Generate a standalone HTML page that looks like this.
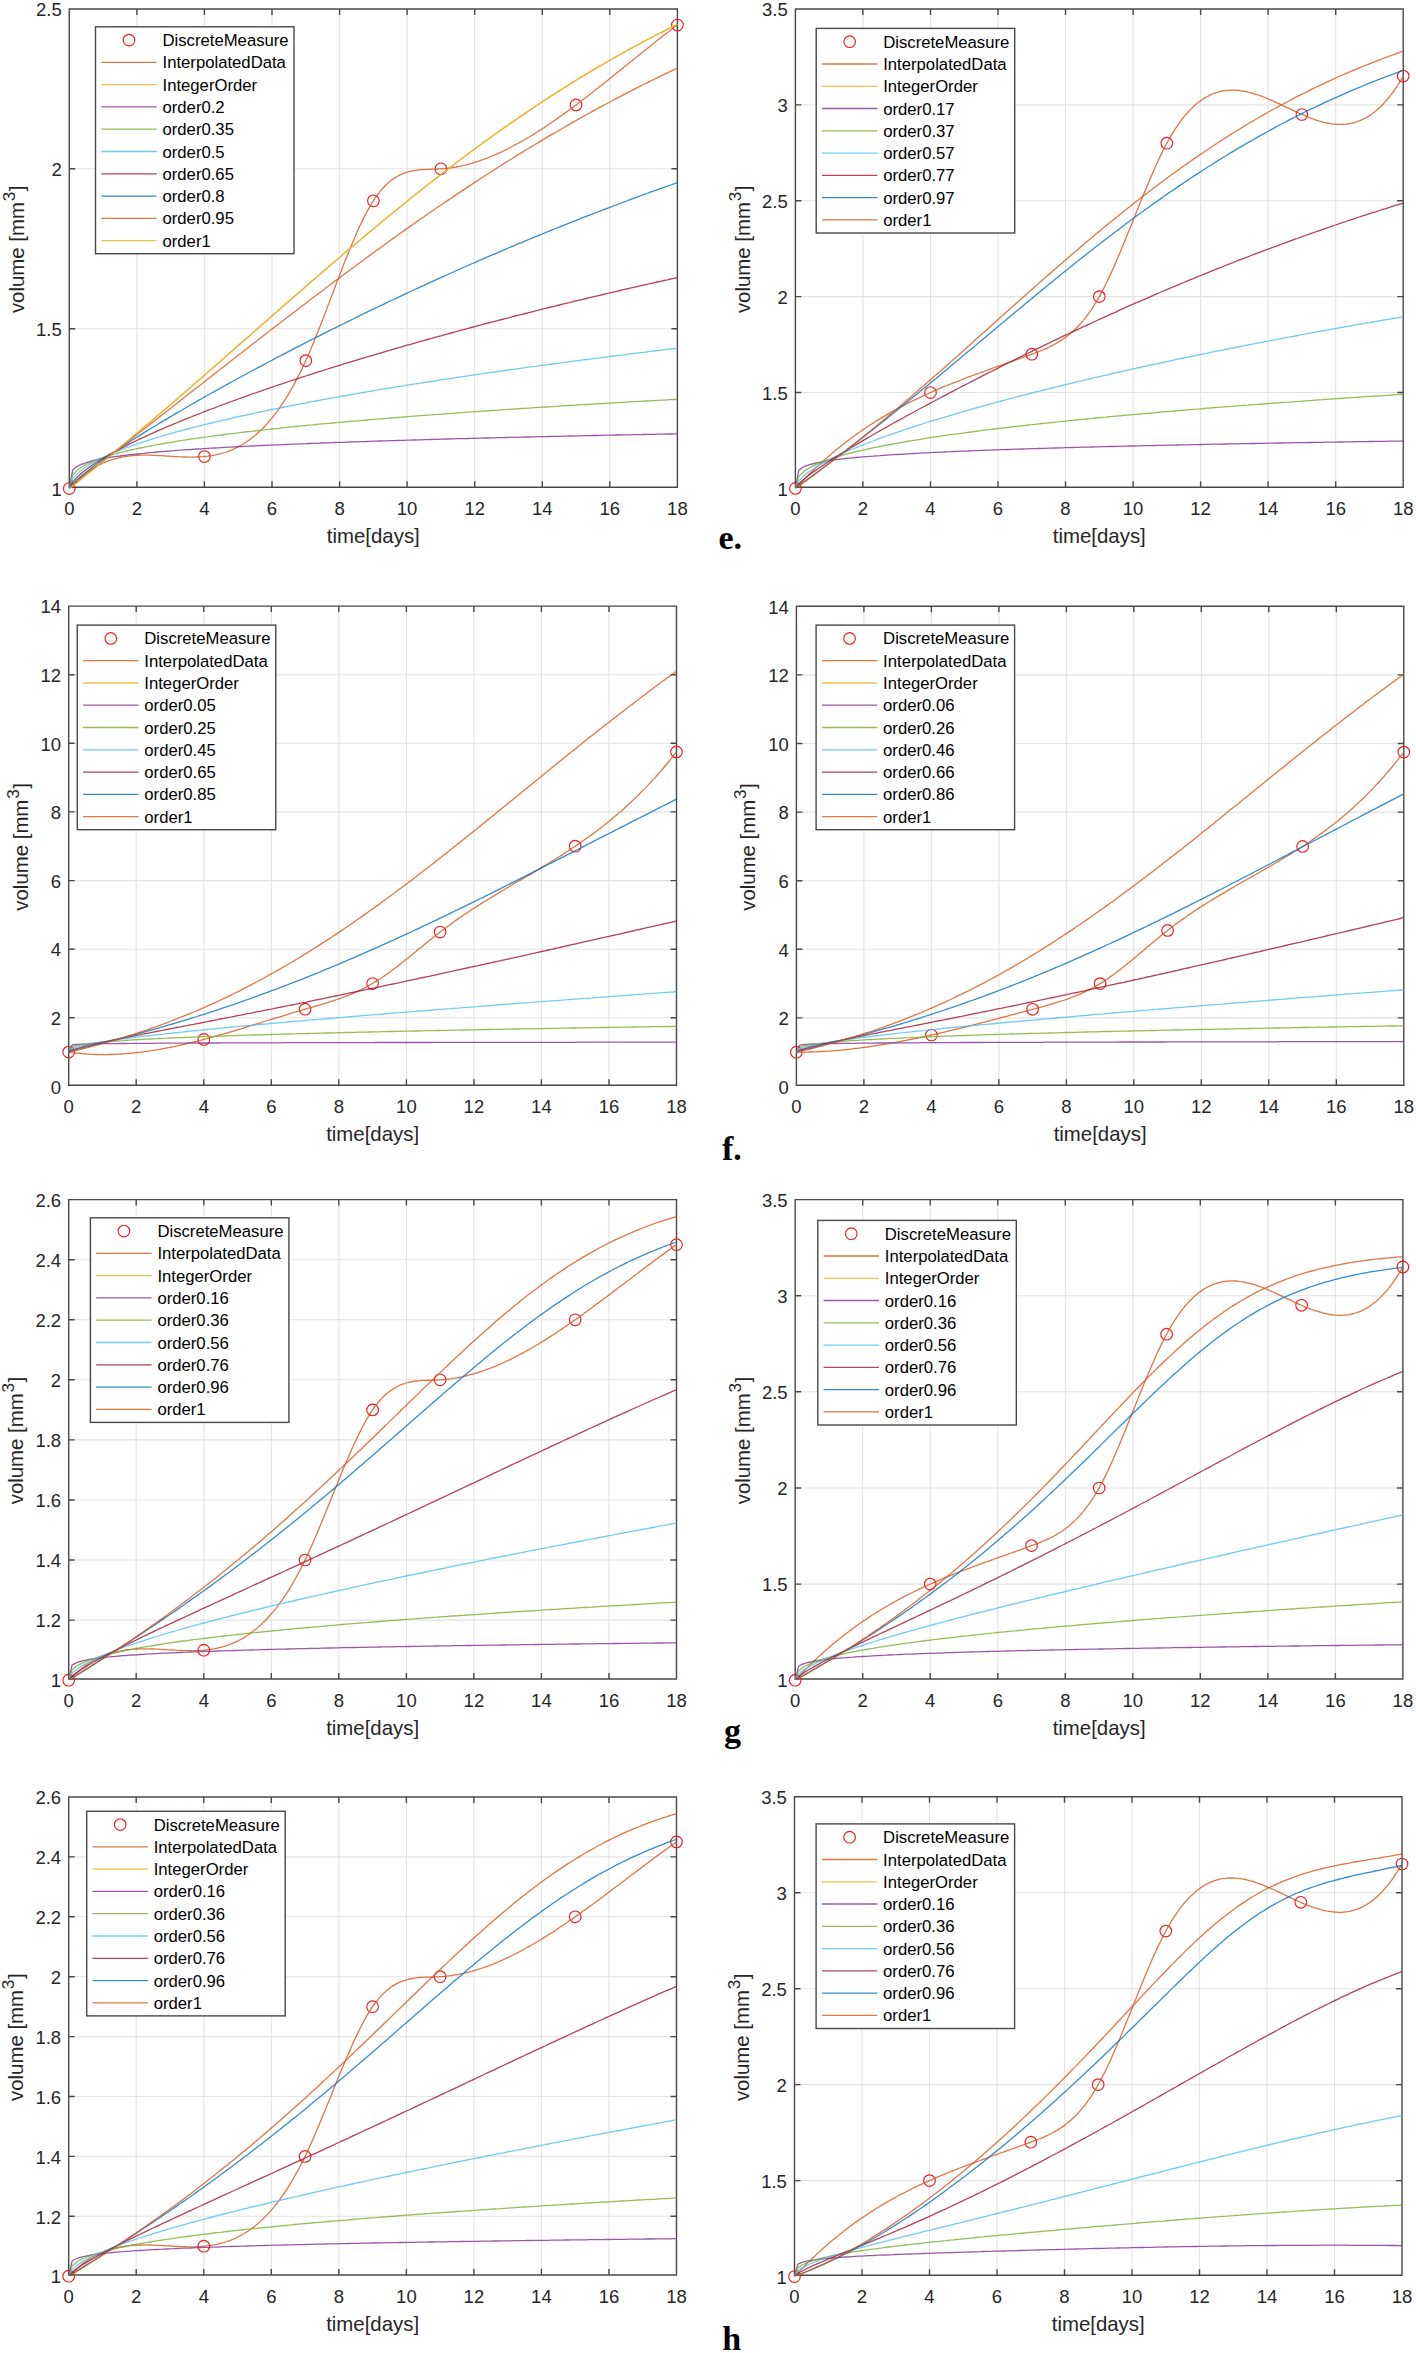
<!DOCTYPE html>
<html><head><meta charset="utf-8"><title>Fractional-order tumor growth curves</title>
<style>
html,body{margin:0;padding:0;background:#fff;}
svg{display:block;}
text{font-family:"Liberation Sans",sans-serif;fill:#262626;}
.tk{font-size:18.5px;}
.lb{font-size:20.4px;}
.lg{font-size:16.7px;fill:#000;}
.pn{font-family:"Liberation Serif",serif;font-weight:bold;font-size:34px;fill:#000;}
.grid{stroke:#e3e3e3;stroke-width:1.1;fill:none;}
.ax{stroke:#484848;stroke-width:1.4;fill:none;}
.cv{fill:none;stroke-width:1.3;stroke-linejoin:round;stroke-opacity:0.8;}
.mk{fill:none;stroke:#f01c1c;stroke-width:1.15;}
</style></head><body>
<svg width="1416" height="2353" viewBox="0 0 1416 2353">
<rect x="0" y="0" width="1416" height="2353" fill="#fff"/>

<g id="plot1">
<clipPath id="cp1"><rect x="68.3" y="8.0" width="610.1" height="480.3"/></clipPath>
<path class="grid" d="M136.9 9.0V487.3M204.4 9.0V487.3M272.0 9.0V487.3M339.6 9.0V487.3M407.1 9.0V487.3M474.7 9.0V487.3M542.3 9.0V487.3M609.8 9.0V487.3M69.3 328.7H677.4M69.3 168.8H677.4"/>
<path class="ax" d="M69.3 9.0H677.4V487.3H69.3ZM136.9 487.3v-6.0M136.9 9.0v6.0M204.4 487.3v-6.0M204.4 9.0v6.0M272.0 487.3v-6.0M272.0 9.0v6.0M339.6 487.3v-6.0M339.6 9.0v6.0M407.1 487.3v-6.0M407.1 9.0v6.0M474.7 487.3v-6.0M474.7 9.0v6.0M542.3 487.3v-6.0M542.3 9.0v6.0M609.8 487.3v-6.0M609.8 9.0v6.0M69.3 328.7h6.0M677.4 328.7h-6.0M69.3 168.8h6.0M677.4 168.8h-6.0"/>
<circle class="mk" cx="69.3" cy="488.5" r="5.8"/>
<circle class="mk" cx="204.4" cy="456.5" r="5.8"/>
<circle class="mk" cx="305.8" cy="360.6" r="5.8"/>
<circle class="mk" cx="373.4" cy="200.8" r="5.8"/>
<circle class="mk" cx="440.9" cy="168.8" r="5.8"/>
<circle class="mk" cx="576.0" cy="104.9" r="5.8"/>
<circle class="mk" cx="677.4" cy="25.0" r="5.8"/>
<g clip-path="url(#cp1)">
<polyline class="cv" stroke="#D95319" points="69.3,488.5 71.0,486.7 72.7,484.9 74.4,483.2 76.1,481.5 77.7,479.9 79.4,478.4 81.1,477.0 82.8,475.6 84.5,474.2 86.2,472.9 87.9,471.7 89.6,470.5 91.3,469.4 92.9,468.4 94.6,467.3 96.3,466.4 98.0,465.5 99.7,464.6 101.4,463.8 103.1,463.0 104.8,462.3 106.5,461.6 108.2,460.9 109.8,460.3 111.5,459.8 113.2,459.3 114.9,458.8 116.6,458.3 118.3,457.9 120.0,457.5 121.7,457.2 123.4,456.9 125.0,456.6 126.7,456.3 128.4,456.1 130.1,455.9 131.8,455.7 133.5,455.6 135.2,455.4 136.9,455.3 138.6,455.3 140.2,455.2 141.9,455.2 143.6,455.1 145.3,455.1 147.0,455.1 148.7,455.2 150.4,455.2 152.1,455.3 153.8,455.3 155.4,455.4 157.1,455.5 158.8,455.6 160.5,455.6 162.2,455.7 163.9,455.8 165.6,456.0 167.3,456.1 169.0,456.2 170.7,456.3 172.3,456.4 174.0,456.5 175.7,456.6 177.4,456.7 179.1,456.8 180.8,456.8 182.5,456.9 184.2,457.0 185.9,457.0 187.5,457.1 189.2,457.1 190.9,457.1 192.6,457.1 194.3,457.1 196.0,457.0 197.7,457.0 199.4,456.9 201.1,456.8 202.7,456.7 204.4,456.5 206.1,456.4 207.8,456.2 209.5,455.9 211.2,455.7 212.9,455.4 214.6,455.1 216.3,454.7 217.9,454.4 219.6,454.0 221.3,453.5 223.0,453.0 224.7,452.5 226.4,452.0 228.1,451.4 229.8,450.7 231.5,450.0 233.1,449.3 234.8,448.5 236.5,447.7 238.2,446.9 239.9,445.9 241.6,445.0 243.3,444.0 245.0,442.9 246.7,441.8 248.4,440.6 250.0,439.4 251.7,438.1 253.4,436.8 255.1,435.4 256.8,433.9 258.5,432.4 260.2,430.8 261.9,429.2 263.6,427.5 265.2,425.7 266.9,423.9 268.6,422.0 270.3,420.0 272.0,418.0 273.7,415.9 275.4,413.7 277.1,411.4 278.8,409.1 280.4,406.7 282.1,404.2 283.8,401.6 285.5,399.0 287.2,396.2 288.9,393.4 290.6,390.5 292.3,387.6 294.0,384.5 295.6,381.4 297.3,378.1 299.0,374.8 300.7,371.4 302.4,367.9 304.1,364.3 305.8,360.6 307.5,356.9 309.2,353.0 310.9,349.0 312.5,345.0 314.2,340.9 315.9,336.8 317.6,332.5 319.3,328.3 321.0,324.0 322.7,319.6 324.4,315.2 326.1,310.8 327.7,306.4 329.4,301.9 331.1,297.5 332.8,293.0 334.5,288.5 336.2,284.1 337.9,279.6 339.6,275.2 341.3,270.8 342.9,266.5 344.6,262.2 346.3,257.9 348.0,253.7 349.7,249.5 351.4,245.4 353.1,241.4 354.8,237.5 356.5,233.6 358.1,229.8 359.8,226.1 361.5,222.6 363.2,219.1 364.9,215.7 366.6,212.5 368.3,209.4 370.0,206.4 371.7,203.5 373.4,200.8 375.0,198.2 376.7,195.8 378.4,193.5 380.1,191.4 381.8,189.4 383.5,187.5 385.2,185.8 386.9,184.1 388.6,182.6 390.2,181.2 391.9,179.9 393.6,178.7 395.3,177.6 397.0,176.5 398.7,175.6 400.4,174.8 402.1,174.0 403.8,173.3 405.4,172.7 407.1,172.2 408.8,171.7 410.5,171.3 412.2,170.9 413.9,170.6 415.6,170.3 417.3,170.1 419.0,169.9 420.6,169.7 422.3,169.6 424.0,169.5 425.7,169.4 427.4,169.3 429.1,169.3 430.8,169.2 432.5,169.2 434.2,169.1 435.8,169.1 437.5,169.0 439.2,168.9 440.9,168.8 442.6,168.7 444.3,168.6 446.0,168.4 447.7,168.2 449.4,168.0 451.1,167.8 452.7,167.5 454.4,167.3 456.1,167.0 457.8,166.6 459.5,166.3 461.2,165.9 462.9,165.6 464.6,165.2 466.3,164.8 467.9,164.3 469.6,163.9 471.3,163.4 473.0,162.9 474.7,162.4 476.4,161.8 478.1,161.3 479.8,160.7 481.5,160.1 483.1,159.5 484.8,158.9 486.5,158.3 488.2,157.6 489.9,156.9 491.6,156.3 493.3,155.5 495.0,154.8 496.7,154.1 498.3,153.3 500.0,152.6 501.7,151.8 503.4,151.0 505.1,150.2 506.8,149.3 508.5,148.5 510.2,147.6 511.9,146.7 513.6,145.8 515.2,144.9 516.9,144.0 518.6,143.1 520.3,142.1 522.0,141.2 523.7,140.2 525.4,139.2 527.1,138.2 528.8,137.2 530.4,136.2 532.1,135.2 533.8,134.1 535.5,133.1 537.2,132.0 538.9,130.9 540.6,129.9 542.3,128.8 544.0,127.7 545.6,126.5 547.3,125.4 549.0,124.3 550.7,123.1 552.4,122.0 554.1,120.8 555.8,119.6 557.5,118.4 559.2,117.2 560.8,116.0 562.5,114.8 564.2,113.6 565.9,112.4 567.6,111.2 569.3,109.9 571.0,108.7 572.7,107.4 574.4,106.2 576.0,104.9 577.7,103.6 579.4,102.3 581.1,101.1 582.8,99.8 584.5,98.5 586.2,97.2 587.9,95.9 589.6,94.6 591.3,93.3 592.9,91.9 594.6,90.6 596.3,89.3 598.0,88.0 599.7,86.6 601.4,85.3 603.1,83.9 604.8,82.6 606.5,81.2 608.1,79.9 609.8,78.5 611.5,77.2 613.2,75.8 614.9,74.5 616.6,73.1 618.3,71.8 620.0,70.4 621.7,69.0 623.3,67.7 625.0,66.3 626.7,65.0 628.4,63.6 630.1,62.2 631.8,60.9 633.5,59.5 635.2,58.1 636.9,56.8 638.5,55.4 640.2,54.1 641.9,52.7 643.6,51.4 645.3,50.0 647.0,48.7 648.7,47.3 650.4,46.0 652.1,44.6 653.8,43.3 655.4,41.9 657.1,40.6 658.8,39.3 660.5,38.0 662.2,36.6 663.9,35.3 665.6,34.0 667.3,32.7 669.0,31.4 670.6,30.1 672.3,28.8 674.0,27.5 675.7,26.3 677.4,25.0"/>
<polyline class="cv" stroke="#EDB120" points="69.3,488.5 72.7,485.8 76.1,483.2 79.4,480.5 82.8,477.8 86.2,475.1 89.6,472.3 92.9,469.6 96.3,466.9 99.7,464.1 103.1,461.4 106.5,458.6 109.8,455.8 113.2,453.0 116.6,450.2 120.0,447.4 123.4,444.6 126.7,441.8 130.1,439.0 133.5,436.1 136.9,433.3 140.2,430.5 143.6,427.6 147.0,424.7 150.4,421.9 153.8,419.0 157.1,416.1 160.5,413.2 163.9,410.3 167.3,407.4 170.7,404.5 174.0,401.6 177.4,398.7 180.8,395.8 184.2,392.8 187.5,389.9 190.9,387.0 194.3,384.0 197.7,381.1 201.1,378.2 204.4,375.2 207.8,372.3 211.2,369.3 214.6,366.4 217.9,363.4 221.3,360.4 224.7,357.5 228.1,354.5 231.5,351.5 234.8,348.6 238.2,345.6 241.6,342.6 245.0,339.7 248.4,336.7 251.7,333.7 255.1,330.8 258.5,327.8 261.9,324.8 265.2,321.9 268.6,318.9 272.0,315.9 275.4,313.0 278.8,310.0 282.1,307.1 285.5,304.1 288.9,301.2 292.3,298.2 295.6,295.3 299.0,292.3 302.4,289.4 305.8,286.5 309.2,283.5 312.5,280.6 315.9,277.7 319.3,274.8 322.7,271.8 326.1,268.9 329.4,266.0 332.8,263.1 336.2,260.2 339.6,257.4 342.9,254.5 346.3,251.6 349.7,248.7 353.1,245.9 356.5,243.0 359.8,240.2 363.2,237.3 366.6,234.5 370.0,231.7 373.4,228.9 376.7,226.1 380.1,223.3 383.5,220.5 386.9,217.7 390.2,214.9 393.6,212.2 397.0,209.4 400.4,206.7 403.8,203.9 407.1,201.2 410.5,198.5 413.9,195.8 417.3,193.1 420.6,190.4 424.0,187.8 427.4,185.1 430.8,182.4 434.2,179.8 437.5,177.2 440.9,174.6 444.3,172.0 447.7,169.4 451.1,166.8 454.4,164.2 457.8,161.6 461.2,159.1 464.6,156.6 467.9,154.0 471.3,151.5 474.7,149.0 478.1,146.5 481.5,144.1 484.8,141.6 488.2,139.2 491.6,136.7 495.0,134.3 498.3,131.9 501.7,129.5 505.1,127.1 508.5,124.8 511.9,122.4 515.2,120.1 518.6,117.7 522.0,115.4 525.4,113.1 528.8,110.8 532.1,108.6 535.5,106.3 538.9,104.1 542.3,101.8 545.6,99.6 549.0,97.4 552.4,95.2 555.8,93.1 559.2,90.9 562.5,88.8 565.9,86.6 569.3,84.5 572.7,82.4 576.0,80.3 579.4,78.2 582.8,76.2 586.2,74.1 589.6,72.1 592.9,70.1 596.3,68.1 599.7,66.1 603.1,64.1 606.5,62.2 609.8,60.2 613.2,58.3 616.6,56.4 620.0,54.5 623.3,52.6 626.7,50.7 630.1,48.9 633.5,47.0 636.9,45.2 640.2,43.4 643.6,41.6 647.0,39.8 650.4,38.0 653.8,36.3 657.1,34.5 660.5,32.8 663.9,31.1 667.3,29.4 670.6,27.7 674.0,26.0 677.4,24.3"/>
<polyline class="cv" stroke="#7E2F8E" points="69.3,488.5 72.7,469.9 76.1,467.1 79.4,465.2 82.8,463.8 86.2,462.6 89.6,461.6 92.9,460.7 96.3,459.9 99.7,459.2 103.1,458.6 106.5,458.0 109.8,457.4 113.2,456.9 116.6,456.4 120.0,456.0 123.4,455.5 126.7,455.1 130.1,454.7 133.5,454.3 136.9,454.0 140.2,453.6 143.6,453.3 147.0,452.9 150.4,452.6 153.8,452.3 157.1,452.0 160.5,451.7 163.9,451.5 167.3,451.2 170.7,450.9 174.0,450.7 177.4,450.4 180.8,450.2 184.2,449.9 187.5,449.7 190.9,449.5 194.3,449.2 197.7,449.0 201.1,448.8 204.4,448.6 207.8,448.4 211.2,448.2 214.6,448.0 217.9,447.8 221.3,447.6 224.7,447.4 228.1,447.2 231.5,447.1 234.8,446.9 238.2,446.7 241.6,446.5 245.0,446.4 248.4,446.2 251.7,446.0 255.1,445.9 258.5,445.7 261.9,445.5 265.2,445.4 268.6,445.2 272.0,445.1 275.4,444.9 278.8,444.8 282.1,444.6 285.5,444.5 288.9,444.3 292.3,444.2 295.6,444.1 299.0,443.9 302.4,443.8 305.8,443.7 309.2,443.5 312.5,443.4 315.9,443.3 319.3,443.1 322.7,443.0 326.1,442.9 329.4,442.8 332.8,442.6 336.2,442.5 339.6,442.4 342.9,442.3 346.3,442.1 349.7,442.0 353.1,441.9 356.5,441.8 359.8,441.7 363.2,441.6 366.6,441.5 370.0,441.3 373.4,441.2 376.7,441.1 380.1,441.0 383.5,440.9 386.9,440.8 390.2,440.7 393.6,440.6 397.0,440.5 400.4,440.4 403.8,440.3 407.1,440.2 410.5,440.1 413.9,440.0 417.3,439.9 420.6,439.8 424.0,439.7 427.4,439.6 430.8,439.5 434.2,439.4 437.5,439.3 440.9,439.2 444.3,439.1 447.7,439.0 451.1,438.9 454.4,438.8 457.8,438.7 461.2,438.7 464.6,438.6 467.9,438.5 471.3,438.4 474.7,438.3 478.1,438.2 481.5,438.1 484.8,438.0 488.2,438.0 491.6,437.9 495.0,437.8 498.3,437.7 501.7,437.6 505.1,437.5 508.5,437.4 511.9,437.4 515.2,437.3 518.6,437.2 522.0,437.1 525.4,437.0 528.8,437.0 532.1,436.9 535.5,436.8 538.9,436.7 542.3,436.6 545.6,436.6 549.0,436.5 552.4,436.4 555.8,436.3 559.2,436.3 562.5,436.2 565.9,436.1 569.3,436.0 572.7,436.0 576.0,435.9 579.4,435.8 582.8,435.7 586.2,435.7 589.6,435.6 592.9,435.5 596.3,435.5 599.7,435.4 603.1,435.3 606.5,435.2 609.8,435.2 613.2,435.1 616.6,435.0 620.0,435.0 623.3,434.9 626.7,434.8 630.1,434.8 633.5,434.7 636.9,434.6 640.2,434.6 643.6,434.5 647.0,434.4 650.4,434.4 653.8,434.3 657.1,434.2 660.5,434.2 663.9,434.1 667.3,434.0 670.6,434.0 674.0,433.9 677.4,433.8"/>
<polyline class="cv" stroke="#77AC30" points="69.3,488.5 72.7,475.0 76.1,471.2 79.4,468.4 82.8,466.3 86.2,464.4 89.6,462.8 92.9,461.3 96.3,459.9 99.7,458.7 103.1,457.5 106.5,456.5 109.8,455.4 113.2,454.5 116.6,453.5 120.0,452.6 123.4,451.8 126.7,451.0 130.1,450.2 133.5,449.4 136.9,448.7 140.2,448.0 143.6,447.3 147.0,446.6 150.4,446.0 153.8,445.3 157.1,444.7 160.5,444.1 163.9,443.5 167.3,442.9 170.7,442.3 174.0,441.8 177.4,441.2 180.8,440.7 184.2,440.2 187.5,439.7 190.9,439.2 194.3,438.7 197.7,438.2 201.1,437.7 204.4,437.2 207.8,436.8 211.2,436.3 214.6,435.8 217.9,435.4 221.3,435.0 224.7,434.5 228.1,434.1 231.5,433.7 234.8,433.3 238.2,432.9 241.6,432.4 245.0,432.0 248.4,431.6 251.7,431.3 255.1,430.9 258.5,430.5 261.9,430.1 265.2,429.7 268.6,429.4 272.0,429.0 275.4,428.6 278.8,428.3 282.1,427.9 285.5,427.6 288.9,427.2 292.3,426.9 295.6,426.5 299.0,426.2 302.4,425.9 305.8,425.5 309.2,425.2 312.5,424.9 315.9,424.5 319.3,424.2 322.7,423.9 326.1,423.6 329.4,423.3 332.8,423.0 336.2,422.7 339.6,422.4 342.9,422.1 346.3,421.8 349.7,421.5 353.1,421.2 356.5,420.9 359.8,420.6 363.2,420.3 366.6,420.0 370.0,419.7 373.4,419.4 376.7,419.1 380.1,418.9 383.5,418.6 386.9,418.3 390.2,418.0 393.6,417.8 397.0,417.5 400.4,417.2 403.8,417.0 407.1,416.7 410.5,416.4 413.9,416.2 417.3,415.9 420.6,415.6 424.0,415.4 427.4,415.1 430.8,414.9 434.2,414.6 437.5,414.4 440.9,414.1 444.3,413.9 447.7,413.6 451.1,413.4 454.4,413.1 457.8,412.9 461.2,412.7 464.6,412.4 467.9,412.2 471.3,411.9 474.7,411.7 478.1,411.5 481.5,411.2 484.8,411.0 488.2,410.8 491.6,410.5 495.0,410.3 498.3,410.1 501.7,409.8 505.1,409.6 508.5,409.4 511.9,409.2 515.2,409.0 518.6,408.7 522.0,408.5 525.4,408.3 528.8,408.1 532.1,407.9 535.5,407.6 538.9,407.4 542.3,407.2 545.6,407.0 549.0,406.8 552.4,406.6 555.8,406.4 559.2,406.1 562.5,405.9 565.9,405.7 569.3,405.5 572.7,405.3 576.0,405.1 579.4,404.9 582.8,404.7 586.2,404.5 589.6,404.3 592.9,404.1 596.3,403.9 599.7,403.7 603.1,403.5 606.5,403.3 609.8,403.1 613.2,402.9 616.6,402.7 620.0,402.5 623.3,402.3 626.7,402.1 630.1,401.9 633.5,401.7 636.9,401.6 640.2,401.4 643.6,401.2 647.0,401.0 650.4,400.8 653.8,400.6 657.1,400.4 660.5,400.2 663.9,400.1 667.3,399.9 670.6,399.7 674.0,399.5 677.4,399.3"/>
<polyline class="cv" stroke="#4DBEEE" points="69.3,488.5 72.7,478.9 76.1,474.9 79.4,471.7 82.8,469.1 86.2,466.7 89.6,464.6 92.9,462.6 96.3,460.8 99.7,459.1 103.1,457.4 106.5,455.9 109.8,454.4 113.2,452.9 116.6,451.6 120.0,450.2 123.4,448.9 126.7,447.6 130.1,446.4 133.5,445.2 136.9,444.0 140.2,442.9 143.6,441.8 147.0,440.7 150.4,439.6 153.8,438.6 157.1,437.5 160.5,436.5 163.9,435.5 167.3,434.6 170.7,433.6 174.0,432.6 177.4,431.7 180.8,430.8 184.2,429.9 187.5,429.0 190.9,428.1 194.3,427.2 197.7,426.4 201.1,425.5 204.4,424.7 207.8,423.8 211.2,423.0 214.6,422.2 217.9,421.4 221.3,420.6 224.7,419.8 228.1,419.0 231.5,418.3 234.8,417.5 238.2,416.7 241.6,416.0 245.0,415.3 248.4,414.5 251.7,413.8 255.1,413.1 258.5,412.4 261.9,411.6 265.2,410.9 268.6,410.2 272.0,409.5 275.4,408.9 278.8,408.2 282.1,407.5 285.5,406.8 288.9,406.1 292.3,405.5 295.6,404.8 299.0,404.2 302.4,403.5 305.8,402.9 309.2,402.2 312.5,401.6 315.9,401.0 319.3,400.3 322.7,399.7 326.1,399.1 329.4,398.5 332.8,397.9 336.2,397.3 339.6,396.7 342.9,396.0 346.3,395.5 349.7,394.9 353.1,394.3 356.5,393.7 359.8,393.1 363.2,392.5 366.6,391.9 370.0,391.4 373.4,390.8 376.7,390.2 380.1,389.7 383.5,389.1 386.9,388.5 390.2,388.0 393.6,387.4 397.0,386.9 400.4,386.3 403.8,385.8 407.1,385.2 410.5,384.7 413.9,384.1 417.3,383.6 420.6,383.1 424.0,382.5 427.4,382.0 430.8,381.5 434.2,381.0 437.5,380.5 440.9,379.9 444.3,379.4 447.7,378.9 451.1,378.4 454.4,377.9 457.8,377.4 461.2,376.9 464.6,376.4 467.9,375.9 471.3,375.4 474.7,374.9 478.1,374.4 481.5,373.9 484.8,373.4 488.2,372.9 491.6,372.4 495.0,371.9 498.3,371.4 501.7,371.0 505.1,370.5 508.5,370.0 511.9,369.5 515.2,369.1 518.6,368.6 522.0,368.1 525.4,367.7 528.8,367.2 532.1,366.7 535.5,366.3 538.9,365.8 542.3,365.3 545.6,364.9 549.0,364.4 552.4,364.0 555.8,363.5 559.2,363.1 562.5,362.6 565.9,362.2 569.3,361.7 572.7,361.3 576.0,360.8 579.4,360.4 582.8,359.9 586.2,359.5 589.6,359.1 592.9,358.6 596.3,358.2 599.7,357.8 603.1,357.3 606.5,356.9 609.8,356.5 613.2,356.0 616.6,355.6 620.0,355.2 623.3,354.8 626.7,354.3 630.1,353.9 633.5,353.5 636.9,353.1 640.2,352.7 643.6,352.3 647.0,351.8 650.4,351.4 653.8,351.0 657.1,350.6 660.5,350.2 663.9,349.8 667.3,349.4 670.6,349.0 674.0,348.6 677.4,348.2"/>
<polyline class="cv" stroke="#A2142F" points="69.3,488.5 72.7,481.9 76.1,478.1 79.4,474.9 82.8,472.1 86.2,469.5 89.6,467.0 92.9,464.7 96.3,462.5 99.7,460.4 103.1,458.3 106.5,456.3 109.8,454.4 113.2,452.5 116.6,450.7 120.0,448.9 123.4,447.2 126.7,445.4 130.1,443.7 133.5,442.1 136.9,440.5 140.2,438.8 143.6,437.3 147.0,435.7 150.4,434.2 153.8,432.6 157.1,431.1 160.5,429.6 163.9,428.2 167.3,426.7 170.7,425.3 174.0,423.9 177.4,422.5 180.8,421.1 184.2,419.7 187.5,418.3 190.9,417.0 194.3,415.6 197.7,414.3 201.1,413.0 204.4,411.6 207.8,410.3 211.2,409.0 214.6,407.8 217.9,406.5 221.3,405.2 224.7,404.0 228.1,402.7 231.5,401.5 234.8,400.3 238.2,399.0 241.6,397.8 245.0,396.6 248.4,395.4 251.7,394.2 255.1,393.0 258.5,391.8 261.9,390.7 265.2,389.5 268.6,388.3 272.0,387.2 275.4,386.0 278.8,384.9 282.1,383.8 285.5,382.6 288.9,381.5 292.3,380.4 295.6,379.3 299.0,378.2 302.4,377.1 305.8,376.0 309.2,374.9 312.5,373.8 315.9,372.7 319.3,371.6 322.7,370.6 326.1,369.5 329.4,368.4 332.8,367.4 336.2,366.3 339.6,365.3 342.9,364.2 346.3,363.2 349.7,362.2 353.1,361.1 356.5,360.1 359.8,359.1 363.2,358.1 366.6,357.1 370.0,356.1 373.4,355.1 376.7,354.1 380.1,353.1 383.5,352.1 386.9,351.1 390.2,350.1 393.6,349.1 397.0,348.1 400.4,347.2 403.8,346.2 407.1,345.2 410.5,344.3 413.9,343.3 417.3,342.3 420.6,341.4 424.0,340.4 427.4,339.5 430.8,338.6 434.2,337.6 437.5,336.7 440.9,335.8 444.3,334.8 447.7,333.9 451.1,333.0 454.4,332.1 457.8,331.1 461.2,330.2 464.6,329.3 467.9,328.4 471.3,327.5 474.7,326.6 478.1,325.7 481.5,324.8 484.8,323.9 488.2,323.0 491.6,322.2 495.0,321.3 498.3,320.4 501.7,319.5 505.1,318.6 508.5,317.8 511.9,316.9 515.2,316.0 518.6,315.2 522.0,314.3 525.4,313.5 528.8,312.6 532.1,311.8 535.5,310.9 538.9,310.1 542.3,309.2 545.6,308.4 549.0,307.5 552.4,306.7 555.8,305.9 559.2,305.0 562.5,304.2 565.9,303.4 569.3,302.6 572.7,301.7 576.0,300.9 579.4,300.1 582.8,299.3 586.2,298.5 589.6,297.7 592.9,296.9 596.3,296.1 599.7,295.3 603.1,294.5 606.5,293.7 609.8,292.9 613.2,292.1 616.6,291.3 620.0,290.5 623.3,289.7 626.7,289.0 630.1,288.2 633.5,287.4 636.9,286.6 640.2,285.9 643.6,285.1 647.0,284.3 650.4,283.6 653.8,282.8 657.1,282.0 660.5,281.3 663.9,280.5 667.3,279.8 670.6,279.0 674.0,278.3 677.4,277.5"/>
<polyline class="cv" stroke="#0072BD" points="69.3,488.5 72.7,484.0 76.1,480.6 79.4,477.6 82.8,474.7 86.2,472.0 89.6,469.4 92.9,466.8 96.3,464.3 99.7,461.9 103.1,459.5 106.5,457.1 109.8,454.8 113.2,452.5 116.6,450.3 120.0,448.0 123.4,445.8 126.7,443.6 130.1,441.5 133.5,439.3 136.9,437.2 140.2,435.1 143.6,432.9 147.0,430.9 150.4,428.8 153.8,426.7 157.1,424.7 160.5,422.6 163.9,420.6 167.3,418.6 170.7,416.6 174.0,414.6 177.4,412.6 180.8,410.7 184.2,408.7 187.5,406.7 190.9,404.8 194.3,402.9 197.7,400.9 201.1,399.0 204.4,397.1 207.8,395.2 211.2,393.3 214.6,391.4 217.9,389.5 221.3,387.6 224.7,385.8 228.1,383.9 231.5,382.0 234.8,380.2 238.2,378.3 241.6,376.5 245.0,374.7 248.4,372.8 251.7,371.0 255.1,369.2 258.5,367.4 261.9,365.6 265.2,363.8 268.6,362.0 272.0,360.2 275.4,358.4 278.8,356.7 282.1,354.9 285.5,353.1 288.9,351.4 292.3,349.6 295.6,347.9 299.0,346.1 302.4,344.4 305.8,342.7 309.2,340.9 312.5,339.2 315.9,337.5 319.3,335.8 322.7,334.1 326.1,332.4 329.4,330.7 332.8,329.0 336.2,327.3 339.6,325.6 342.9,324.0 346.3,322.3 349.7,320.6 353.1,319.0 356.5,317.3 359.8,315.7 363.2,314.0 366.6,312.4 370.0,310.7 373.4,309.1 376.7,307.5 380.1,305.9 383.5,304.3 386.9,302.7 390.2,301.0 393.6,299.5 397.0,297.9 400.4,296.3 403.8,294.7 407.1,293.1 410.5,291.5 413.9,290.0 417.3,288.4 420.6,286.8 424.0,285.3 427.4,283.7 430.8,282.2 434.2,280.6 437.5,279.1 440.9,277.6 444.3,276.1 447.7,274.5 451.1,273.0 454.4,271.5 457.8,270.0 461.2,268.5 464.6,267.0 467.9,265.5 471.3,264.0 474.7,262.6 478.1,261.1 481.5,259.6 484.8,258.1 488.2,256.7 491.6,255.2 495.0,253.8 498.3,252.3 501.7,250.9 505.1,249.4 508.5,248.0 511.9,246.6 515.2,245.2 518.6,243.7 522.0,242.3 525.4,240.9 528.8,239.5 532.1,238.1 535.5,236.7 538.9,235.3 542.3,234.0 545.6,232.6 549.0,231.2 552.4,229.8 555.8,228.5 559.2,227.1 562.5,225.8 565.9,224.4 569.3,223.1 572.7,221.7 576.0,220.4 579.4,219.1 582.8,217.7 586.2,216.4 589.6,215.1 592.9,213.8 596.3,212.5 599.7,211.2 603.1,209.9 606.5,208.6 609.8,207.3 613.2,206.0 616.6,204.8 620.0,203.5 623.3,202.2 626.7,201.0 630.1,199.7 633.5,198.4 636.9,197.2 640.2,196.0 643.6,194.7 647.0,193.5 650.4,192.2 653.8,191.0 657.1,189.8 660.5,188.6 663.9,187.4 667.3,186.2 670.6,185.0 674.0,183.8 677.4,182.6"/>
<polyline class="cv" stroke="#D95319" points="69.3,488.5 72.7,485.5 76.1,482.6 79.4,479.9 82.8,477.1 86.2,474.4 89.6,471.7 92.9,469.0 96.3,466.4 99.7,463.7 103.1,461.1 106.5,458.4 109.8,455.7 113.2,453.1 116.6,450.5 120.0,447.8 123.4,445.2 126.7,442.5 130.1,439.9 133.5,437.2 136.9,434.6 140.2,432.0 143.6,429.3 147.0,426.7 150.4,424.0 153.8,421.4 157.1,418.7 160.5,416.1 163.9,413.5 167.3,410.8 170.7,408.2 174.0,405.5 177.4,402.9 180.8,400.2 184.2,397.6 187.5,394.9 190.9,392.3 194.3,389.6 197.7,387.0 201.1,384.4 204.4,381.7 207.8,379.1 211.2,376.4 214.6,373.8 217.9,371.1 221.3,368.5 224.7,365.9 228.1,363.2 231.5,360.6 234.8,358.0 238.2,355.3 241.6,352.7 245.0,350.1 248.4,347.4 251.7,344.8 255.1,342.2 258.5,339.6 261.9,336.9 265.2,334.3 268.6,331.7 272.0,329.1 275.4,326.5 278.8,323.9 282.1,321.3 285.5,318.7 288.9,316.1 292.3,313.5 295.6,310.9 299.0,308.3 302.4,305.8 305.8,303.2 309.2,300.6 312.5,298.1 315.9,295.5 319.3,292.9 322.7,290.4 326.1,287.8 329.4,285.3 332.8,282.8 336.2,280.2 339.6,277.7 342.9,275.2 346.3,272.7 349.7,270.2 353.1,267.7 356.5,265.2 359.8,262.7 363.2,260.2 366.6,257.7 370.0,255.2 373.4,252.8 376.7,250.3 380.1,247.9 383.5,245.4 386.9,243.0 390.2,240.5 393.6,238.1 397.0,235.7 400.4,233.3 403.8,230.9 407.1,228.5 410.5,226.1 413.9,223.8 417.3,221.4 420.6,219.0 424.0,216.7 427.4,214.3 430.8,212.0 434.2,209.7 437.5,207.3 440.9,205.0 444.3,202.7 447.7,200.4 451.1,198.2 454.4,195.9 457.8,193.6 461.2,191.4 464.6,189.1 467.9,186.9 471.3,184.7 474.7,182.4 478.1,180.2 481.5,178.0 484.8,175.8 488.2,173.7 491.6,171.5 495.0,169.3 498.3,167.2 501.7,165.0 505.1,162.9 508.5,160.8 511.9,158.7 515.2,156.6 518.6,154.5 522.0,152.4 525.4,150.3 528.8,148.3 532.1,146.2 535.5,144.2 538.9,142.1 542.3,140.1 545.6,138.1 549.0,136.1 552.4,134.1 555.8,132.2 559.2,130.2 562.5,128.2 565.9,126.3 569.3,124.4 572.7,122.4 576.0,120.5 579.4,118.6 582.8,116.7 586.2,114.8 589.6,113.0 592.9,111.1 596.3,109.3 599.7,107.4 603.1,105.6 606.5,103.8 609.8,102.0 613.2,100.2 616.6,98.4 620.0,96.6 623.3,94.9 626.7,93.1 630.1,91.4 633.5,89.6 636.9,87.9 640.2,86.2 643.6,84.5 647.0,82.8 650.4,81.2 653.8,79.5 657.1,77.8 660.5,76.2 663.9,74.6 667.3,72.9 670.6,71.3 674.0,69.7 677.4,68.1"/>
<polyline class="cv" stroke="#EDB120" points="69.3,488.5 72.7,485.8 76.1,483.2 79.4,480.5 82.8,477.8 86.2,475.1 89.6,472.3 92.9,469.6 96.3,466.9 99.7,464.1 103.1,461.4 106.5,458.6 109.8,455.8 113.2,453.0 116.6,450.2 120.0,447.4 123.4,444.6 126.7,441.8 130.1,439.0 133.5,436.1 136.9,433.3 140.2,430.5 143.6,427.6 147.0,424.7 150.4,421.9 153.8,419.0 157.1,416.1 160.5,413.2 163.9,410.3 167.3,407.4 170.7,404.5 174.0,401.6 177.4,398.7 180.8,395.8 184.2,392.8 187.5,389.9 190.9,387.0 194.3,384.0 197.7,381.1 201.1,378.2 204.4,375.2 207.8,372.3 211.2,369.3 214.6,366.4 217.9,363.4 221.3,360.4 224.7,357.5 228.1,354.5 231.5,351.5 234.8,348.6 238.2,345.6 241.6,342.6 245.0,339.7 248.4,336.7 251.7,333.7 255.1,330.8 258.5,327.8 261.9,324.8 265.2,321.9 268.6,318.9 272.0,315.9 275.4,313.0 278.8,310.0 282.1,307.1 285.5,304.1 288.9,301.2 292.3,298.2 295.6,295.3 299.0,292.3 302.4,289.4 305.8,286.5 309.2,283.5 312.5,280.6 315.9,277.7 319.3,274.8 322.7,271.8 326.1,268.9 329.4,266.0 332.8,263.1 336.2,260.2 339.6,257.4 342.9,254.5 346.3,251.6 349.7,248.7 353.1,245.9 356.5,243.0 359.8,240.2 363.2,237.3 366.6,234.5 370.0,231.7 373.4,228.9 376.7,226.1 380.1,223.3 383.5,220.5 386.9,217.7 390.2,214.9 393.6,212.2 397.0,209.4 400.4,206.7 403.8,203.9 407.1,201.2 410.5,198.5 413.9,195.8 417.3,193.1 420.6,190.4 424.0,187.8 427.4,185.1 430.8,182.4 434.2,179.8 437.5,177.2 440.9,174.6 444.3,172.0 447.7,169.4 451.1,166.8 454.4,164.2 457.8,161.6 461.2,159.1 464.6,156.6 467.9,154.0 471.3,151.5 474.7,149.0 478.1,146.5 481.5,144.1 484.8,141.6 488.2,139.2 491.6,136.7 495.0,134.3 498.3,131.9 501.7,129.5 505.1,127.1 508.5,124.8 511.9,122.4 515.2,120.1 518.6,117.7 522.0,115.4 525.4,113.1 528.8,110.8 532.1,108.6 535.5,106.3 538.9,104.1 542.3,101.8 545.6,99.6 549.0,97.4 552.4,95.2 555.8,93.1 559.2,90.9 562.5,88.8 565.9,86.6 569.3,84.5 572.7,82.4 576.0,80.3 579.4,78.2 582.8,76.2 586.2,74.1 589.6,72.1 592.9,70.1 596.3,68.1 599.7,66.1 603.1,64.1 606.5,62.2 609.8,60.2 613.2,58.3 616.6,56.4 620.0,54.5 623.3,52.6 626.7,50.7 630.1,48.9 633.5,47.0 636.9,45.2 640.2,43.4 643.6,41.6 647.0,39.8 650.4,38.0 653.8,36.3 657.1,34.5 660.5,32.8 663.9,31.1 667.3,29.4 670.6,27.7 674.0,26.0 677.4,24.3"/>
</g>
<text class="tk" x="69.3" y="514.9" text-anchor="middle">0</text>
<text class="tk" x="136.9" y="514.9" text-anchor="middle">2</text>
<text class="tk" x="204.4" y="514.9" text-anchor="middle">4</text>
<text class="tk" x="272.0" y="514.9" text-anchor="middle">6</text>
<text class="tk" x="339.6" y="514.9" text-anchor="middle">8</text>
<text class="tk" x="407.1" y="514.9" text-anchor="middle">10</text>
<text class="tk" x="474.7" y="514.9" text-anchor="middle">12</text>
<text class="tk" x="542.3" y="514.9" text-anchor="middle">14</text>
<text class="tk" x="609.8" y="514.9" text-anchor="middle">16</text>
<text class="tk" x="677.4" y="514.9" text-anchor="middle">18</text>
<text class="tk" x="61.7" y="495.7" text-anchor="end">1</text>
<text class="tk" x="61.7" y="335.9" text-anchor="end">1.5</text>
<text class="tk" x="61.7" y="176.0" text-anchor="end">2</text>
<text class="tk" x="61.7" y="16.2" text-anchor="end">2.5</text>
<text class="lb" x="373.3" y="543.3" text-anchor="middle">time[days]</text>
<text class="lb" transform="translate(23.8 249.3) rotate(-90)" text-anchor="middle">volume [mm<tspan dx="0.8" dy="-9" font-size="17">3</tspan><tspan dx="0.6" dy="9">]</tspan></text>
<rect x="95.5" y="26.8" width="198.5" height="226.9" fill="#fff" stroke="#484848" stroke-width="1.4"/>
<circle class="mk" cx="129.0" cy="40.1" r="5.8"/>
<text class="lg" x="162.5" y="46.1">DiscreteMeasure</text>
<path d="M101.3 62.4H156.7" stroke="#D95319" stroke-width="1.3" stroke-opacity="0.8"/>
<text class="lg" x="162.5" y="68.4">InterpolatedData</text>
<path d="M101.3 84.7H156.7" stroke="#EDB120" stroke-width="1.3" stroke-opacity="0.8"/>
<text class="lg" x="162.5" y="90.7">IntegerOrder</text>
<path d="M101.3 106.9H156.7" stroke="#7E2F8E" stroke-width="1.3" stroke-opacity="0.8"/>
<text class="lg" x="162.5" y="112.9">order0.2</text>
<path d="M101.3 129.2H156.7" stroke="#77AC30" stroke-width="1.3" stroke-opacity="0.8"/>
<text class="lg" x="162.5" y="135.2">order0.35</text>
<path d="M101.3 151.5H156.7" stroke="#4DBEEE" stroke-width="1.3" stroke-opacity="0.8"/>
<text class="lg" x="162.5" y="157.5">order0.5</text>
<path d="M101.3 173.8H156.7" stroke="#A2142F" stroke-width="1.3" stroke-opacity="0.8"/>
<text class="lg" x="162.5" y="179.8">order0.65</text>
<path d="M101.3 196.1H156.7" stroke="#0072BD" stroke-width="1.3" stroke-opacity="0.8"/>
<text class="lg" x="162.5" y="202.1">order0.8</text>
<path d="M101.3 218.3H156.7" stroke="#D95319" stroke-width="1.3" stroke-opacity="0.8"/>
<text class="lg" x="162.5" y="224.3">order0.95</text>
<path d="M101.3 240.6H156.7" stroke="#EDB120" stroke-width="1.3" stroke-opacity="0.8"/>
<text class="lg" x="162.5" y="246.6">order1</text>
</g>
<g id="plot2">
<clipPath id="cp2"><rect x="794.4" y="8.0" width="609.8" height="480.2"/></clipPath>
<path class="grid" d="M862.9 9.0V487.2M930.5 9.0V487.2M998.0 9.0V487.2M1065.5 9.0V487.2M1133.1 9.0V487.2M1200.6 9.0V487.2M1268.1 9.0V487.2M1335.7 9.0V487.2M795.4 392.5H1403.2M795.4 296.6H1403.2M795.4 200.8H1403.2M795.4 104.9H1403.2"/>
<path class="ax" d="M795.4 9.0H1403.2V487.2H795.4ZM862.9 487.2v-6.0M862.9 9.0v6.0M930.5 487.2v-6.0M930.5 9.0v6.0M998.0 487.2v-6.0M998.0 9.0v6.0M1065.5 487.2v-6.0M1065.5 9.0v6.0M1133.1 487.2v-6.0M1133.1 9.0v6.0M1200.6 487.2v-6.0M1200.6 9.0v6.0M1268.1 487.2v-6.0M1268.1 9.0v6.0M1335.7 487.2v-6.0M1335.7 9.0v6.0M795.4 392.5h6.0M1403.2 392.5h-6.0M795.4 296.6h6.0M1403.2 296.6h-6.0M795.4 200.8h6.0M1403.2 200.8h-6.0M795.4 104.9h6.0M1403.2 104.9h-6.0"/>
<circle class="mk" cx="795.4" cy="488.4" r="5.8"/>
<circle class="mk" cx="930.5" cy="392.5" r="5.8"/>
<circle class="mk" cx="1031.8" cy="354.2" r="5.8"/>
<circle class="mk" cx="1099.3" cy="296.6" r="5.8"/>
<circle class="mk" cx="1166.8" cy="143.2" r="5.8"/>
<circle class="mk" cx="1301.9" cy="114.5" r="5.8"/>
<circle class="mk" cx="1403.2" cy="76.1" r="5.8"/>
<g clip-path="url(#cp2)">
<polyline class="cv" stroke="#D95319" points="795.4,488.4 797.1,486.6 798.8,484.8 800.5,483.0 802.2,481.3 803.8,479.6 805.5,477.9 807.2,476.2 808.9,474.5 810.6,472.8 812.3,471.2 814.0,469.6 815.7,468.0 817.3,466.4 819.0,464.8 820.7,463.3 822.4,461.8 824.1,460.2 825.8,458.7 827.5,457.3 829.2,455.8 830.9,454.4 832.5,452.9 834.2,451.5 835.9,450.1 837.6,448.7 839.3,447.4 841.0,446.0 842.7,444.7 844.4,443.4 846.0,442.1 847.7,440.8 849.4,439.5 851.1,438.2 852.8,437.0 854.5,435.8 856.2,434.5 857.9,433.3 859.6,432.2 861.2,431.0 862.9,429.8 864.6,428.7 866.3,427.5 868.0,426.4 869.7,425.3 871.4,424.2 873.1,423.1 874.8,422.0 876.4,421.0 878.1,419.9 879.8,418.9 881.5,417.9 883.2,416.9 884.9,415.9 886.6,414.9 888.3,413.9 889.9,412.9 891.6,412.0 893.3,411.0 895.0,410.1 896.7,409.1 898.4,408.2 900.1,407.3 901.8,406.4 903.5,405.5 905.1,404.7 906.8,403.8 908.5,402.9 910.2,402.1 911.9,401.2 913.6,400.4 915.3,399.6 917.0,398.8 918.6,398.0 920.3,397.2 922.0,396.4 923.7,395.6 925.4,394.8 927.1,394.0 928.8,393.3 930.5,392.5 932.2,391.8 933.8,391.0 935.5,390.3 937.2,389.6 938.9,388.8 940.6,388.1 942.3,387.4 944.0,386.7 945.7,386.0 947.4,385.3 949.0,384.6 950.7,384.0 952.4,383.3 954.1,382.6 955.8,381.9 957.5,381.3 959.2,380.6 960.9,380.0 962.5,379.3 964.2,378.7 965.9,378.0 967.6,377.4 969.3,376.7 971.0,376.1 972.7,375.5 974.4,374.9 976.1,374.2 977.7,373.6 979.4,373.0 981.1,372.4 982.8,371.8 984.5,371.2 986.2,370.5 987.9,369.9 989.6,369.3 991.2,368.7 992.9,368.1 994.6,367.5 996.3,366.9 998.0,366.3 999.7,365.7 1001.4,365.1 1003.1,364.5 1004.8,363.9 1006.4,363.3 1008.1,362.7 1009.8,362.1 1011.5,361.5 1013.2,360.9 1014.9,360.3 1016.6,359.7 1018.3,359.1 1019.9,358.5 1021.6,357.9 1023.3,357.3 1025.0,356.6 1026.7,356.0 1028.4,355.4 1030.1,354.8 1031.8,354.2 1033.5,353.5 1035.1,352.9 1036.8,352.3 1038.5,351.6 1040.2,351.0 1041.9,350.3 1043.6,349.6 1045.3,348.9 1047.0,348.1 1048.7,347.3 1050.3,346.5 1052.0,345.7 1053.7,344.8 1055.4,343.9 1057.1,342.9 1058.8,341.9 1060.5,340.9 1062.2,339.8 1063.8,338.6 1065.5,337.4 1067.2,336.1 1068.9,334.8 1070.6,333.3 1072.3,331.9 1074.0,330.3 1075.7,328.7 1077.4,327.0 1079.0,325.2 1080.7,323.4 1082.4,321.4 1084.1,319.4 1085.8,317.3 1087.5,315.0 1089.2,312.7 1090.9,310.3 1092.5,307.8 1094.2,305.2 1095.9,302.4 1097.6,299.6 1099.3,296.6 1101.0,293.6 1102.7,290.4 1104.4,287.1 1106.1,283.7 1107.7,280.2 1109.4,276.6 1111.1,273.0 1112.8,269.3 1114.5,265.4 1116.2,261.6 1117.9,257.6 1119.6,253.7 1121.2,249.6 1122.9,245.6 1124.6,241.4 1126.3,237.3 1128.0,233.1 1129.7,228.9 1131.4,224.7 1133.1,220.5 1134.8,216.3 1136.4,212.1 1138.1,207.9 1139.8,203.7 1141.5,199.5 1143.2,195.4 1144.9,191.3 1146.6,187.2 1148.3,183.2 1150.0,179.2 1151.6,175.2 1153.3,171.4 1155.0,167.6 1156.7,163.8 1158.4,160.2 1160.1,156.6 1161.8,153.1 1163.5,149.7 1165.1,146.4 1166.8,143.2 1168.5,140.2 1170.2,137.2 1171.9,134.3 1173.6,131.6 1175.3,128.9 1177.0,126.4 1178.7,123.9 1180.3,121.6 1182.0,119.4 1183.7,117.2 1185.4,115.2 1187.1,113.2 1188.8,111.3 1190.5,109.6 1192.2,107.9 1193.8,106.3 1195.5,104.8 1197.2,103.3 1198.9,102.0 1200.6,100.7 1202.3,99.5 1204.0,98.4 1205.7,97.4 1207.4,96.5 1209.0,95.6 1210.7,94.8 1212.4,94.0 1214.1,93.4 1215.8,92.8 1217.5,92.2 1219.2,91.8 1220.9,91.4 1222.5,91.0 1224.2,90.7 1225.9,90.5 1227.6,90.3 1229.3,90.2 1231.0,90.1 1232.7,90.1 1234.4,90.1 1236.1,90.2 1237.7,90.4 1239.4,90.5 1241.1,90.8 1242.8,91.0 1244.5,91.3 1246.2,91.7 1247.9,92.0 1249.6,92.5 1251.2,92.9 1252.9,93.4 1254.6,93.9 1256.3,94.4 1258.0,95.0 1259.7,95.6 1261.4,96.2 1263.1,96.9 1264.8,97.5 1266.4,98.2 1268.1,98.9 1269.8,99.6 1271.5,100.4 1273.2,101.1 1274.9,101.9 1276.6,102.7 1278.3,103.4 1280.0,104.2 1281.6,105.0 1283.3,105.8 1285.0,106.6 1286.7,107.4 1288.4,108.2 1290.1,109.0 1291.8,109.8 1293.5,110.6 1295.1,111.4 1296.8,112.2 1298.5,113.0 1300.2,113.7 1301.9,114.5 1303.6,115.2 1305.3,115.9 1307.0,116.6 1308.7,117.3 1310.3,117.9 1312.0,118.6 1313.7,119.2 1315.4,119.8 1317.1,120.3 1318.8,120.9 1320.5,121.4 1322.2,121.8 1323.8,122.3 1325.5,122.7 1327.2,123.0 1328.9,123.3 1330.6,123.6 1332.3,123.9 1334.0,124.1 1335.7,124.2 1337.4,124.3 1339.0,124.4 1340.7,124.4 1342.4,124.4 1344.1,124.3 1345.8,124.2 1347.5,124.0 1349.2,123.7 1350.9,123.4 1352.6,123.0 1354.2,122.6 1355.9,122.1 1357.6,121.5 1359.3,120.9 1361.0,120.2 1362.7,119.4 1364.4,118.6 1366.1,117.7 1367.7,116.7 1369.4,115.6 1371.1,114.5 1372.8,113.3 1374.5,112.0 1376.2,110.6 1377.9,109.1 1379.6,107.6 1381.3,106.0 1382.9,104.2 1384.6,102.4 1386.3,100.5 1388.0,98.5 1389.7,96.4 1391.4,94.3 1393.1,92.0 1394.8,89.6 1396.4,87.1 1398.1,84.5 1399.8,81.8 1401.5,79.0 1403.2,76.1"/>
<polyline class="cv" stroke="#7E2F8E" points="795.4,488.4 798.8,470.2 802.2,467.7 805.5,466.1 808.9,464.9 812.3,464.0 815.7,463.1 819.0,462.4 822.4,461.8 825.8,461.2 829.2,460.7 832.5,460.2 835.9,459.7 839.3,459.3 842.7,458.9 846.0,458.5 849.4,458.2 852.8,457.8 856.2,457.5 859.6,457.2 862.9,456.9 866.3,456.6 869.7,456.3 873.1,456.1 876.4,455.8 879.8,455.6 883.2,455.3 886.6,455.1 889.9,454.9 893.3,454.7 896.7,454.5 900.1,454.3 903.5,454.1 906.8,453.9 910.2,453.7 913.6,453.5 917.0,453.3 920.3,453.1 923.7,452.9 927.1,452.8 930.5,452.6 933.8,452.4 937.2,452.3 940.6,452.1 944.0,452.0 947.4,451.8 950.7,451.7 954.1,451.5 957.5,451.4 960.9,451.2 964.2,451.1 967.6,451.0 971.0,450.8 974.4,450.7 977.7,450.6 981.1,450.4 984.5,450.3 987.9,450.2 991.2,450.1 994.6,449.9 998.0,449.8 1001.4,449.7 1004.8,449.6 1008.1,449.5 1011.5,449.4 1014.9,449.2 1018.3,449.1 1021.6,449.0 1025.0,448.9 1028.4,448.8 1031.8,448.7 1035.1,448.6 1038.5,448.5 1041.9,448.4 1045.3,448.3 1048.7,448.2 1052.0,448.1 1055.4,448.0 1058.8,447.9 1062.2,447.8 1065.5,447.7 1068.9,447.6 1072.3,447.5 1075.7,447.4 1079.0,447.3 1082.4,447.2 1085.8,447.1 1089.2,447.1 1092.5,447.0 1095.9,446.9 1099.3,446.8 1102.7,446.7 1106.1,446.6 1109.4,446.5 1112.8,446.5 1116.2,446.4 1119.6,446.3 1122.9,446.2 1126.3,446.1 1129.7,446.0 1133.1,446.0 1136.4,445.9 1139.8,445.8 1143.2,445.7 1146.6,445.7 1150.0,445.6 1153.3,445.5 1156.7,445.4 1160.1,445.4 1163.5,445.3 1166.8,445.2 1170.2,445.1 1173.6,445.1 1177.0,445.0 1180.3,444.9 1183.7,444.8 1187.1,444.8 1190.5,444.7 1193.8,444.6 1197.2,444.6 1200.6,444.5 1204.0,444.4 1207.4,444.4 1210.7,444.3 1214.1,444.2 1217.5,444.2 1220.9,444.1 1224.2,444.0 1227.6,444.0 1231.0,443.9 1234.4,443.8 1237.7,443.8 1241.1,443.7 1244.5,443.6 1247.9,443.6 1251.2,443.5 1254.6,443.5 1258.0,443.4 1261.4,443.3 1264.8,443.3 1268.1,443.2 1271.5,443.2 1274.9,443.1 1278.3,443.0 1281.6,443.0 1285.0,442.9 1288.4,442.9 1291.8,442.8 1295.1,442.7 1298.5,442.7 1301.9,442.6 1305.3,442.6 1308.7,442.5 1312.0,442.5 1315.4,442.4 1318.8,442.3 1322.2,442.3 1325.5,442.2 1328.9,442.2 1332.3,442.1 1335.7,442.1 1339.0,442.0 1342.4,442.0 1345.8,441.9 1349.2,441.9 1352.6,441.8 1355.9,441.7 1359.3,441.7 1362.7,441.6 1366.1,441.6 1369.4,441.5 1372.8,441.5 1376.2,441.4 1379.6,441.4 1382.9,441.3 1386.3,441.3 1389.7,441.2 1393.1,441.2 1396.4,441.1 1399.8,441.1 1403.2,441.0"/>
<polyline class="cv" stroke="#77AC30" points="795.4,488.4 798.8,476.5 802.2,472.9 805.5,470.2 808.9,468.1 812.3,466.3 815.7,464.6 819.0,463.1 822.4,461.8 825.8,460.5 829.2,459.3 832.5,458.2 835.9,457.1 839.3,456.1 842.7,455.2 846.0,454.2 849.4,453.3 852.8,452.5 856.2,451.7 859.6,450.9 862.9,450.1 866.3,449.3 869.7,448.6 873.1,447.9 876.4,447.2 879.8,446.5 883.2,445.8 886.6,445.2 889.9,444.5 893.3,443.9 896.7,443.3 900.1,442.7 903.5,442.1 906.8,441.5 910.2,440.9 913.6,440.4 917.0,439.8 920.3,439.3 923.7,438.7 927.1,438.2 930.5,437.7 933.8,437.2 937.2,436.7 940.6,436.2 944.0,435.7 947.4,435.2 950.7,434.7 954.1,434.2 957.5,433.8 960.9,433.3 964.2,432.9 967.6,432.4 971.0,432.0 974.4,431.5 977.7,431.1 981.1,430.7 984.5,430.2 987.9,429.8 991.2,429.4 994.6,429.0 998.0,428.6 1001.4,428.2 1004.8,427.8 1008.1,427.4 1011.5,427.0 1014.9,426.6 1018.3,426.2 1021.6,425.8 1025.0,425.4 1028.4,425.0 1031.8,424.7 1035.1,424.3 1038.5,423.9 1041.9,423.5 1045.3,423.2 1048.7,422.8 1052.0,422.5 1055.4,422.1 1058.8,421.8 1062.2,421.4 1065.5,421.1 1068.9,420.7 1072.3,420.4 1075.7,420.0 1079.0,419.7 1082.4,419.3 1085.8,419.0 1089.2,418.7 1092.5,418.4 1095.9,418.0 1099.3,417.7 1102.7,417.4 1106.1,417.1 1109.4,416.7 1112.8,416.4 1116.2,416.1 1119.6,415.8 1122.9,415.5 1126.3,415.2 1129.7,414.9 1133.1,414.6 1136.4,414.3 1139.8,414.0 1143.2,413.7 1146.6,413.4 1150.0,413.1 1153.3,412.8 1156.7,412.5 1160.1,412.2 1163.5,411.9 1166.8,411.6 1170.2,411.3 1173.6,411.0 1177.0,410.7 1180.3,410.5 1183.7,410.2 1187.1,409.9 1190.5,409.6 1193.8,409.3 1197.2,409.1 1200.6,408.8 1204.0,408.5 1207.4,408.2 1210.7,408.0 1214.1,407.7 1217.5,407.4 1220.9,407.2 1224.2,406.9 1227.6,406.6 1231.0,406.4 1234.4,406.1 1237.7,405.8 1241.1,405.6 1244.5,405.3 1247.9,405.1 1251.2,404.8 1254.6,404.6 1258.0,404.3 1261.4,404.0 1264.8,403.8 1268.1,403.5 1271.5,403.3 1274.9,403.0 1278.3,402.8 1281.6,402.5 1285.0,402.3 1288.4,402.1 1291.8,401.8 1295.1,401.6 1298.5,401.3 1301.9,401.1 1305.3,400.8 1308.7,400.6 1312.0,400.4 1315.4,400.1 1318.8,399.9 1322.2,399.7 1325.5,399.4 1328.9,399.2 1332.3,399.0 1335.7,398.7 1339.0,398.5 1342.4,398.3 1345.8,398.0 1349.2,397.8 1352.6,397.6 1355.9,397.3 1359.3,397.1 1362.7,396.9 1366.1,396.7 1369.4,396.4 1372.8,396.2 1376.2,396.0 1379.6,395.8 1382.9,395.6 1386.3,395.3 1389.7,395.1 1393.1,394.9 1396.4,394.7 1399.8,394.5 1403.2,394.2"/>
<polyline class="cv" stroke="#4DBEEE" points="795.4,488.4 798.8,481.1 802.2,477.4 805.5,474.5 808.9,471.9 812.3,469.5 815.7,467.4 819.0,465.4 822.4,463.4 825.8,461.6 829.2,459.9 832.5,458.2 835.9,456.5 839.3,455.0 842.7,453.4 846.0,451.9 849.4,450.4 852.8,449.0 856.2,447.6 859.6,446.2 862.9,444.9 866.3,443.5 869.7,442.2 873.1,441.0 876.4,439.7 879.8,438.4 883.2,437.2 886.6,436.0 889.9,434.8 893.3,433.6 896.7,432.4 900.1,431.3 903.5,430.2 906.8,429.0 910.2,427.9 913.6,426.8 917.0,425.7 920.3,424.6 923.7,423.5 927.1,422.5 930.5,421.4 933.8,420.4 937.2,419.3 940.6,418.3 944.0,417.3 947.4,416.3 950.7,415.3 954.1,414.3 957.5,413.3 960.9,412.3 964.2,411.3 967.6,410.3 971.0,409.4 974.4,408.4 977.7,407.5 981.1,406.5 984.5,405.6 987.9,404.7 991.2,403.7 994.6,402.8 998.0,401.9 1001.4,401.0 1004.8,400.1 1008.1,399.2 1011.5,398.3 1014.9,397.4 1018.3,396.5 1021.6,395.7 1025.0,394.8 1028.4,393.9 1031.8,393.0 1035.1,392.2 1038.5,391.3 1041.9,390.5 1045.3,389.6 1048.7,388.8 1052.0,388.0 1055.4,387.1 1058.8,386.3 1062.2,385.5 1065.5,384.6 1068.9,383.8 1072.3,383.0 1075.7,382.2 1079.0,381.4 1082.4,380.6 1085.8,379.8 1089.2,379.0 1092.5,378.2 1095.9,377.4 1099.3,376.6 1102.7,375.8 1106.1,375.1 1109.4,374.3 1112.8,373.5 1116.2,372.7 1119.6,372.0 1122.9,371.2 1126.3,370.5 1129.7,369.7 1133.1,368.9 1136.4,368.2 1139.8,367.5 1143.2,366.7 1146.6,366.0 1150.0,365.2 1153.3,364.5 1156.7,363.8 1160.1,363.0 1163.5,362.3 1166.8,361.6 1170.2,360.9 1173.6,360.1 1177.0,359.4 1180.3,358.7 1183.7,358.0 1187.1,357.3 1190.5,356.6 1193.8,355.9 1197.2,355.2 1200.6,354.5 1204.0,353.8 1207.4,353.1 1210.7,352.4 1214.1,351.7 1217.5,351.0 1220.9,350.4 1224.2,349.7 1227.6,349.0 1231.0,348.3 1234.4,347.7 1237.7,347.0 1241.1,346.3 1244.5,345.7 1247.9,345.0 1251.2,344.3 1254.6,343.7 1258.0,343.0 1261.4,342.4 1264.8,341.7 1268.1,341.1 1271.5,340.4 1274.9,339.8 1278.3,339.1 1281.6,338.5 1285.0,337.9 1288.4,337.2 1291.8,336.6 1295.1,336.0 1298.5,335.3 1301.9,334.7 1305.3,334.1 1308.7,333.4 1312.0,332.8 1315.4,332.2 1318.8,331.6 1322.2,331.0 1325.5,330.4 1328.9,329.7 1332.3,329.1 1335.7,328.5 1339.0,327.9 1342.4,327.3 1345.8,326.7 1349.2,326.1 1352.6,325.5 1355.9,324.9 1359.3,324.3 1362.7,323.7 1366.1,323.1 1369.4,322.6 1372.8,322.0 1376.2,321.4 1379.6,320.8 1382.9,320.2 1386.3,319.6 1389.7,319.1 1393.1,318.5 1396.4,317.9 1399.8,317.3 1403.2,316.8"/>
<polyline class="cv" stroke="#A2142F" points="795.4,488.4 798.8,484.0 802.2,480.8 805.5,478.0 808.9,475.3 812.3,472.8 815.7,470.4 819.0,468.0 822.4,465.7 825.8,463.5 829.2,461.2 832.5,459.1 835.9,456.9 839.3,454.8 842.7,452.7 846.0,450.7 849.4,448.6 852.8,446.6 856.2,444.6 859.6,442.6 862.9,440.6 866.3,438.6 869.7,436.7 873.1,434.7 876.4,432.8 879.8,430.9 883.2,429.0 886.6,427.1 889.9,425.2 893.3,423.3 896.7,421.4 900.1,419.6 903.5,417.7 906.8,415.8 910.2,414.0 913.6,412.2 917.0,410.3 920.3,408.5 923.7,406.7 927.1,404.9 930.5,403.1 933.8,401.3 937.2,399.5 940.6,397.7 944.0,395.9 947.4,394.1 950.7,392.3 954.1,390.6 957.5,388.8 960.9,387.0 964.2,385.3 967.6,383.5 971.0,381.8 974.4,380.1 977.7,378.3 981.1,376.6 984.5,374.9 987.9,373.2 991.2,371.5 994.6,369.8 998.0,368.1 1001.4,366.4 1004.8,364.7 1008.1,363.0 1011.5,361.3 1014.9,359.6 1018.3,358.0 1021.6,356.3 1025.0,354.6 1028.4,353.0 1031.8,351.3 1035.1,349.7 1038.5,348.1 1041.9,346.4 1045.3,344.8 1048.7,343.2 1052.0,341.5 1055.4,339.9 1058.8,338.3 1062.2,336.7 1065.5,335.1 1068.9,333.5 1072.3,331.9 1075.7,330.3 1079.0,328.8 1082.4,327.2 1085.8,325.6 1089.2,324.1 1092.5,322.5 1095.9,321.0 1099.3,319.4 1102.7,317.9 1106.1,316.3 1109.4,314.8 1112.8,313.3 1116.2,311.8 1119.6,310.2 1122.9,308.7 1126.3,307.2 1129.7,305.7 1133.1,304.2 1136.4,302.7 1139.8,301.3 1143.2,299.8 1146.6,298.3 1150.0,296.9 1153.3,295.4 1156.7,293.9 1160.1,292.5 1163.5,291.0 1166.8,289.6 1170.2,288.2 1173.6,286.7 1177.0,285.3 1180.3,283.9 1183.7,282.5 1187.1,281.1 1190.5,279.7 1193.8,278.3 1197.2,276.9 1200.6,275.5 1204.0,274.2 1207.4,272.8 1210.7,271.4 1214.1,270.1 1217.5,268.7 1220.9,267.4 1224.2,266.0 1227.6,264.7 1231.0,263.4 1234.4,262.0 1237.7,260.7 1241.1,259.4 1244.5,258.1 1247.9,256.8 1251.2,255.5 1254.6,254.2 1258.0,252.9 1261.4,251.6 1264.8,250.4 1268.1,249.1 1271.5,247.8 1274.9,246.6 1278.3,245.3 1281.6,244.1 1285.0,242.9 1288.4,241.6 1291.8,240.4 1295.1,239.2 1298.5,238.0 1301.9,236.7 1305.3,235.5 1308.7,234.3 1312.0,233.2 1315.4,232.0 1318.8,230.8 1322.2,229.6 1325.5,228.4 1328.9,227.3 1332.3,226.1 1335.7,225.0 1339.0,223.8 1342.4,222.7 1345.8,221.5 1349.2,220.4 1352.6,219.3 1355.9,218.2 1359.3,217.0 1362.7,215.9 1366.1,214.8 1369.4,213.7 1372.8,212.6 1376.2,211.6 1379.6,210.5 1382.9,209.4 1386.3,208.3 1389.7,207.3 1393.1,206.2 1396.4,205.2 1399.8,204.1 1403.2,203.1"/>
<polyline class="cv" stroke="#0072BD" points="795.4,488.4 798.8,485.8 802.2,483.3 805.5,480.8 808.9,478.3 812.3,475.8 815.7,473.3 819.0,470.8 822.4,468.3 825.8,465.7 829.2,463.2 832.5,460.7 835.9,458.1 839.3,455.6 842.7,453.0 846.0,450.4 849.4,447.8 852.8,445.2 856.2,442.6 859.6,440.0 862.9,437.4 866.3,434.7 869.7,432.1 873.1,429.4 876.4,426.7 879.8,424.1 883.2,421.4 886.6,418.7 889.9,416.0 893.3,413.3 896.7,410.5 900.1,407.8 903.5,405.1 906.8,402.3 910.2,399.6 913.6,396.8 917.0,394.1 920.3,391.3 923.7,388.5 927.1,385.7 930.5,382.9 933.8,380.2 937.2,377.4 940.6,374.6 944.0,371.7 947.4,368.9 950.7,366.1 954.1,363.3 957.5,360.5 960.9,357.7 964.2,354.8 967.6,352.0 971.0,349.2 974.4,346.4 977.7,343.5 981.1,340.7 984.5,337.9 987.9,335.0 991.2,332.2 994.6,329.4 998.0,326.6 1001.4,323.7 1004.8,320.9 1008.1,318.1 1011.5,315.3 1014.9,312.5 1018.3,309.7 1021.6,306.9 1025.0,304.1 1028.4,301.3 1031.8,298.5 1035.1,295.7 1038.5,292.9 1041.9,290.1 1045.3,287.4 1048.7,284.6 1052.0,281.9 1055.4,279.1 1058.8,276.4 1062.2,273.6 1065.5,270.9 1068.9,268.2 1072.3,265.5 1075.7,262.8 1079.0,260.1 1082.4,257.4 1085.8,254.8 1089.2,252.1 1092.5,249.5 1095.9,246.8 1099.3,244.2 1102.7,241.6 1106.1,239.0 1109.4,236.4 1112.8,233.8 1116.2,231.2 1119.6,228.7 1122.9,226.2 1126.3,223.6 1129.7,221.1 1133.1,218.6 1136.4,216.1 1139.8,213.6 1143.2,211.2 1146.6,208.7 1150.0,206.3 1153.3,203.9 1156.7,201.5 1160.1,199.1 1163.5,196.7 1166.8,194.4 1170.2,192.0 1173.6,189.7 1177.0,187.4 1180.3,185.1 1183.7,182.8 1187.1,180.6 1190.5,178.3 1193.8,176.1 1197.2,173.9 1200.6,171.7 1204.0,169.5 1207.4,167.3 1210.7,165.2 1214.1,163.0 1217.5,160.9 1220.9,158.8 1224.2,156.7 1227.6,154.7 1231.0,152.6 1234.4,150.6 1237.7,148.6 1241.1,146.6 1244.5,144.6 1247.9,142.6 1251.2,140.7 1254.6,138.8 1258.0,136.9 1261.4,135.0 1264.8,133.1 1268.1,131.2 1271.5,129.4 1274.9,127.6 1278.3,125.8 1281.6,124.0 1285.0,122.2 1288.4,120.4 1291.8,118.7 1295.1,117.0 1298.5,115.3 1301.9,113.6 1305.3,111.9 1308.7,110.2 1312.0,108.6 1315.4,107.0 1318.8,105.4 1322.2,103.8 1325.5,102.2 1328.9,100.7 1332.3,99.1 1335.7,97.6 1339.0,96.1 1342.4,94.6 1345.8,93.1 1349.2,91.7 1352.6,90.2 1355.9,88.8 1359.3,87.4 1362.7,86.0 1366.1,84.6 1369.4,83.2 1372.8,81.9 1376.2,80.5 1379.6,79.2 1382.9,77.9 1386.3,76.6 1389.7,75.3 1393.1,74.1 1396.4,72.8 1399.8,71.6 1403.2,70.4"/>
<polyline class="cv" stroke="#D95319" points="795.4,488.4 798.8,486.0 802.2,483.6 805.5,481.1 808.9,478.7 812.3,476.2 815.7,473.7 819.0,471.2 822.4,468.6 825.8,466.1 829.2,463.5 832.5,461.0 835.9,458.3 839.3,455.7 842.7,453.1 846.0,450.4 849.4,447.8 852.8,445.1 856.2,442.4 859.6,439.7 862.9,437.0 866.3,434.2 869.7,431.5 873.1,428.7 876.4,425.9 879.8,423.1 883.2,420.3 886.6,417.5 889.9,414.7 893.3,411.8 896.7,409.0 900.1,406.1 903.5,403.2 906.8,400.3 910.2,397.4 913.6,394.5 917.0,391.6 920.3,388.6 923.7,385.7 927.1,382.8 930.5,379.8 933.8,376.8 937.2,373.9 940.6,370.9 944.0,367.9 947.4,364.9 950.7,361.9 954.1,358.9 957.5,355.9 960.9,352.9 964.2,349.9 967.6,346.9 971.0,343.9 974.4,340.8 977.7,337.8 981.1,334.8 984.5,331.8 987.9,328.7 991.2,325.7 994.6,322.7 998.0,319.7 1001.4,316.6 1004.8,313.6 1008.1,310.6 1011.5,307.6 1014.9,304.6 1018.3,301.5 1021.6,298.5 1025.0,295.5 1028.4,292.5 1031.8,289.5 1035.1,286.5 1038.5,283.6 1041.9,280.6 1045.3,277.6 1048.7,274.7 1052.0,271.7 1055.4,268.7 1058.8,265.8 1062.2,262.9 1065.5,260.0 1068.9,257.0 1072.3,254.1 1075.7,251.3 1079.0,248.4 1082.4,245.5 1085.8,242.6 1089.2,239.8 1092.5,237.0 1095.9,234.1 1099.3,231.3 1102.7,228.5 1106.1,225.7 1109.4,223.0 1112.8,220.2 1116.2,217.5 1119.6,214.7 1122.9,212.0 1126.3,209.3 1129.7,206.7 1133.1,204.0 1136.4,201.3 1139.8,198.7 1143.2,196.1 1146.6,193.5 1150.0,190.9 1153.3,188.3 1156.7,185.8 1160.1,183.3 1163.5,180.7 1166.8,178.2 1170.2,175.8 1173.6,173.3 1177.0,170.9 1180.3,168.4 1183.7,166.0 1187.1,163.6 1190.5,161.3 1193.8,158.9 1197.2,156.6 1200.6,154.3 1204.0,152.0 1207.4,149.7 1210.7,147.5 1214.1,145.2 1217.5,143.0 1220.9,140.8 1224.2,138.7 1227.6,136.5 1231.0,134.4 1234.4,132.3 1237.7,130.2 1241.1,128.1 1244.5,126.0 1247.9,124.0 1251.2,122.0 1254.6,120.0 1258.0,118.0 1261.4,116.1 1264.8,114.1 1268.1,112.2 1271.5,110.3 1274.9,108.5 1278.3,106.6 1281.6,104.8 1285.0,103.0 1288.4,101.2 1291.8,99.4 1295.1,97.6 1298.5,95.9 1301.9,94.2 1305.3,92.5 1308.7,90.8 1312.0,89.1 1315.4,87.5 1318.8,85.9 1322.2,84.3 1325.5,82.7 1328.9,81.1 1332.3,79.6 1335.7,78.0 1339.0,76.5 1342.4,75.0 1345.8,73.6 1349.2,72.1 1352.6,70.7 1355.9,69.3 1359.3,67.9 1362.7,66.5 1366.1,65.1 1369.4,63.8 1372.8,62.4 1376.2,61.1 1379.6,59.8 1382.9,58.5 1386.3,57.3 1389.7,56.0 1393.1,54.8 1396.4,53.6 1399.8,52.4 1403.2,51.2"/>
</g>
<text class="tk" x="795.4" y="514.8" text-anchor="middle">0</text>
<text class="tk" x="862.9" y="514.8" text-anchor="middle">2</text>
<text class="tk" x="930.5" y="514.8" text-anchor="middle">4</text>
<text class="tk" x="998.0" y="514.8" text-anchor="middle">6</text>
<text class="tk" x="1065.5" y="514.8" text-anchor="middle">8</text>
<text class="tk" x="1133.1" y="514.8" text-anchor="middle">10</text>
<text class="tk" x="1200.6" y="514.8" text-anchor="middle">12</text>
<text class="tk" x="1268.1" y="514.8" text-anchor="middle">14</text>
<text class="tk" x="1335.7" y="514.8" text-anchor="middle">16</text>
<text class="tk" x="1403.2" y="514.8" text-anchor="middle">18</text>
<text class="tk" x="787.8" y="495.6" text-anchor="end">1</text>
<text class="tk" x="787.8" y="399.7" text-anchor="end">1.5</text>
<text class="tk" x="787.8" y="303.8" text-anchor="end">2</text>
<text class="tk" x="787.8" y="208.0" text-anchor="end">2.5</text>
<text class="tk" x="787.8" y="112.1" text-anchor="end">3</text>
<text class="tk" x="787.8" y="16.2" text-anchor="end">3.5</text>
<text class="lb" x="1099.3" y="543.2" text-anchor="middle">time[days]</text>
<text class="lb" transform="translate(750.4 249.3) rotate(-90)" text-anchor="middle">volume [mm<tspan dx="0.8" dy="-9" font-size="17">3</tspan><tspan dx="0.6" dy="9">]</tspan></text>
<rect x="816.2" y="28.4" width="198.5" height="204.6" fill="#fff" stroke="#484848" stroke-width="1.4"/>
<circle class="mk" cx="849.7" cy="41.7" r="5.8"/>
<text class="lg" x="883.2" y="47.7">DiscreteMeasure</text>
<path d="M822.0 64.0H877.4" stroke="#D95319" stroke-width="1.3" stroke-opacity="0.8"/>
<text class="lg" x="883.2" y="70.0">InterpolatedData</text>
<path d="M822.0 86.3H877.4" stroke="#EDB120" stroke-width="1.3" stroke-opacity="0.8"/>
<text class="lg" x="883.2" y="92.3">IntegerOrder</text>
<path d="M822.0 108.5H877.4" stroke="#7E2F8E" stroke-width="1.3" stroke-opacity="0.8"/>
<text class="lg" x="883.2" y="114.5">order0.17</text>
<path d="M822.0 130.8H877.4" stroke="#77AC30" stroke-width="1.3" stroke-opacity="0.8"/>
<text class="lg" x="883.2" y="136.8">order0.37</text>
<path d="M822.0 153.1H877.4" stroke="#4DBEEE" stroke-width="1.3" stroke-opacity="0.8"/>
<text class="lg" x="883.2" y="159.1">order0.57</text>
<path d="M822.0 175.4H877.4" stroke="#A2142F" stroke-width="1.3" stroke-opacity="0.8"/>
<text class="lg" x="883.2" y="181.4">order0.77</text>
<path d="M822.0 197.7H877.4" stroke="#0072BD" stroke-width="1.3" stroke-opacity="0.8"/>
<text class="lg" x="883.2" y="203.7">order0.97</text>
<path d="M822.0 219.9H877.4" stroke="#D95319" stroke-width="1.3" stroke-opacity="0.8"/>
<text class="lg" x="883.2" y="225.9">order1</text>
<text class="pn" x="718.5" y="548.9">e.</text>
</g>
<g id="plot3">
<clipPath id="cp3"><rect x="67.7" y="605.1" width="609.8" height="481.1"/></clipPath>
<path class="grid" d="M136.2 606.1V1085.2M203.8 606.1V1085.2M271.3 606.1V1085.2M338.8 606.1V1085.2M406.4 606.1V1085.2M473.9 606.1V1085.2M541.4 606.1V1085.2M609.0 606.1V1085.2M68.7 1017.8H676.5M68.7 949.2H676.5M68.7 880.6H676.5M68.7 811.9H676.5M68.7 743.3H676.5M68.7 674.7H676.5"/>
<path class="ax" d="M68.7 606.1H676.5V1085.2H68.7ZM136.2 1085.2v-6.0M136.2 606.1v6.0M203.8 1085.2v-6.0M203.8 606.1v6.0M271.3 1085.2v-6.0M271.3 606.1v6.0M338.8 1085.2v-6.0M338.8 606.1v6.0M406.4 1085.2v-6.0M406.4 606.1v6.0M473.9 1085.2v-6.0M473.9 606.1v6.0M541.4 1085.2v-6.0M541.4 606.1v6.0M609.0 1085.2v-6.0M609.0 606.1v6.0M68.7 1017.8h6.0M676.5 1017.8h-6.0M68.7 949.2h6.0M676.5 949.2h-6.0M68.7 880.6h6.0M676.5 880.6h-6.0M68.7 811.9h6.0M676.5 811.9h-6.0M68.7 743.3h6.0M676.5 743.3h-6.0M68.7 674.7h6.0M676.5 674.7h-6.0"/>
<circle class="mk" cx="68.7" cy="1052.1" r="5.8"/>
<circle class="mk" cx="203.8" cy="1039.4" r="5.8"/>
<circle class="mk" cx="305.1" cy="1009.2" r="5.8"/>
<circle class="mk" cx="372.6" cy="983.5" r="5.8"/>
<circle class="mk" cx="440.1" cy="932.0" r="5.8"/>
<circle class="mk" cx="575.2" cy="846.2" r="5.8"/>
<circle class="mk" cx="676.5" cy="751.9" r="5.8"/>
<g clip-path="url(#cp3)">
<polyline class="cv" stroke="#D95319" points="68.7,1052.1 70.4,1052.3 72.1,1052.6 73.8,1052.8 75.5,1053.0 77.1,1053.2 78.8,1053.4 80.5,1053.5 82.2,1053.7 83.9,1053.8 85.6,1054.0 87.3,1054.1 89.0,1054.2 90.6,1054.3 92.3,1054.4 94.0,1054.4 95.7,1054.5 97.4,1054.5 99.1,1054.6 100.8,1054.6 102.5,1054.6 104.2,1054.6 105.8,1054.6 107.5,1054.6 109.2,1054.5 110.9,1054.5 112.6,1054.5 114.3,1054.4 116.0,1054.3 117.7,1054.2 119.3,1054.1 121.0,1054.0 122.7,1053.9 124.4,1053.8 126.1,1053.7 127.8,1053.5 129.5,1053.4 131.2,1053.2 132.9,1053.1 134.5,1052.9 136.2,1052.7 137.9,1052.5 139.6,1052.3 141.3,1052.1 143.0,1051.9 144.7,1051.7 146.4,1051.4 148.1,1051.2 149.7,1050.9 151.4,1050.7 153.1,1050.4 154.8,1050.1 156.5,1049.9 158.2,1049.6 159.9,1049.3 161.6,1049.0 163.2,1048.7 164.9,1048.3 166.6,1048.0 168.3,1047.7 170.0,1047.3 171.7,1047.0 173.4,1046.7 175.1,1046.3 176.8,1045.9 178.4,1045.6 180.1,1045.2 181.8,1044.8 183.5,1044.4 185.2,1044.0 186.9,1043.6 188.6,1043.2 190.3,1042.8 191.9,1042.4 193.6,1042.0 195.3,1041.6 197.0,1041.2 198.7,1040.7 200.4,1040.3 202.1,1039.8 203.8,1039.4 205.5,1039.0 207.1,1038.5 208.8,1038.0 210.5,1037.6 212.2,1037.1 213.9,1036.6 215.6,1036.2 217.3,1035.7 219.0,1035.2 220.6,1034.7 222.3,1034.3 224.0,1033.8 225.7,1033.3 227.4,1032.8 229.1,1032.3 230.8,1031.8 232.5,1031.3 234.2,1030.8 235.8,1030.3 237.5,1029.8 239.2,1029.3 240.9,1028.8 242.6,1028.3 244.3,1027.7 246.0,1027.2 247.7,1026.7 249.4,1026.2 251.0,1025.7 252.7,1025.2 254.4,1024.6 256.1,1024.1 257.8,1023.6 259.5,1023.1 261.2,1022.6 262.9,1022.0 264.5,1021.5 266.2,1021.0 267.9,1020.5 269.6,1019.9 271.3,1019.4 273.0,1018.9 274.7,1018.4 276.4,1017.9 278.1,1017.3 279.7,1016.8 281.4,1016.3 283.1,1015.8 284.8,1015.3 286.5,1014.8 288.2,1014.2 289.9,1013.7 291.6,1013.2 293.2,1012.7 294.9,1012.2 296.6,1011.7 298.3,1011.2 300.0,1010.7 301.7,1010.2 303.4,1009.7 305.1,1009.2 306.8,1008.7 308.4,1008.2 310.1,1007.7 311.8,1007.3 313.5,1006.8 315.2,1006.3 316.9,1005.8 318.6,1005.3 320.3,1004.8 321.9,1004.3 323.6,1003.8 325.3,1003.3 327.0,1002.8 328.7,1002.2 330.4,1001.7 332.1,1001.2 333.8,1000.6 335.5,1000.0 337.1,999.5 338.8,998.9 340.5,998.3 342.2,997.7 343.9,997.0 345.6,996.4 347.3,995.7 349.0,995.1 350.7,994.4 352.3,993.7 354.0,992.9 355.7,992.2 357.4,991.4 359.1,990.6 360.8,989.8 362.5,989.0 364.2,988.1 365.8,987.3 367.5,986.4 369.2,985.4 370.9,984.5 372.6,983.5 374.3,982.5 376.0,981.4 377.7,980.4 379.4,979.3 381.0,978.2 382.7,977.0 384.4,975.9 386.1,974.7 387.8,973.5 389.5,972.3 391.2,971.0 392.9,969.8 394.5,968.5 396.2,967.2 397.9,965.9 399.6,964.6 401.3,963.3 403.0,961.9 404.7,960.6 406.4,959.2 408.1,957.9 409.7,956.5 411.4,955.2 413.1,953.8 414.8,952.4 416.5,951.0 418.2,949.6 419.9,948.3 421.6,946.9 423.2,945.5 424.9,944.1 426.6,942.7 428.3,941.4 430.0,940.0 431.7,938.7 433.4,937.3 435.1,936.0 436.8,934.6 438.4,933.3 440.1,932.0 441.8,930.7 443.5,929.4 445.2,928.2 446.9,926.9 448.6,925.7 450.3,924.4 452.0,923.2 453.6,922.0 455.3,920.8 457.0,919.6 458.7,918.4 460.4,917.3 462.1,916.1 463.8,915.0 465.5,913.8 467.1,912.7 468.8,911.6 470.5,910.5 472.2,909.4 473.9,908.3 475.6,907.2 477.3,906.1 479.0,905.0 480.7,903.9 482.3,902.9 484.0,901.8 485.7,900.8 487.4,899.7 489.1,898.7 490.8,897.6 492.5,896.6 494.2,895.6 495.8,894.6 497.5,893.6 499.2,892.5 500.9,891.5 502.6,890.5 504.3,889.5 506.0,888.5 507.7,887.5 509.4,886.5 511.0,885.5 512.7,884.5 514.4,883.5 516.1,882.5 517.8,881.5 519.5,880.6 521.2,879.6 522.9,878.6 524.5,877.6 526.2,876.6 527.9,875.6 529.6,874.6 531.3,873.6 533.0,872.6 534.7,871.6 536.4,870.6 538.1,869.6 539.7,868.6 541.4,867.6 543.1,866.6 544.8,865.5 546.5,864.5 548.2,863.5 549.9,862.5 551.6,861.4 553.3,860.4 554.9,859.3 556.6,858.3 558.3,857.2 560.0,856.2 561.7,855.1 563.4,854.0 565.1,852.9 566.8,851.8 568.4,850.7 570.1,849.6 571.8,848.5 573.5,847.4 575.2,846.2 576.9,845.1 578.6,844.0 580.3,842.8 582.0,841.6 583.6,840.4 585.3,839.3 587.0,838.0 588.7,836.8 590.4,835.6 592.1,834.4 593.8,833.1 595.5,831.9 597.1,830.6 598.8,829.3 600.5,828.0 602.2,826.7 603.9,825.4 605.6,824.0 607.3,822.7 609.0,821.3 610.7,819.9 612.3,818.6 614.0,817.1 615.7,815.7 617.4,814.3 619.1,812.8 620.8,811.4 622.5,809.9 624.2,808.4 625.9,806.8 627.5,805.3 629.2,803.7 630.9,802.2 632.6,800.6 634.3,799.0 636.0,797.3 637.7,795.7 639.4,794.0 641.0,792.3 642.7,790.6 644.4,788.9 646.1,787.1 647.8,785.4 649.5,783.6 651.2,781.8 652.9,779.9 654.6,778.1 656.2,776.2 657.9,774.3 659.6,772.4 661.3,770.5 663.0,768.5 664.7,766.5 666.4,764.5 668.1,762.5 669.7,760.4 671.4,758.3 673.1,756.2 674.8,754.1 676.5,751.9"/>
<polyline class="cv" stroke="#7E2F8E" points="68.7,1052.1 72.1,1045.0 75.5,1044.5 78.8,1044.3 82.2,1044.2 85.6,1044.1 89.0,1044.0 92.3,1043.9 95.7,1043.8 99.1,1043.8 102.5,1043.7 105.8,1043.7 109.2,1043.6 112.6,1043.6 116.0,1043.6 119.3,1043.5 122.7,1043.5 126.1,1043.5 129.5,1043.4 132.9,1043.4 136.2,1043.4 139.6,1043.4 143.0,1043.3 146.4,1043.3 149.7,1043.3 153.1,1043.3 156.5,1043.2 159.9,1043.2 163.2,1043.2 166.6,1043.2 170.0,1043.2 173.4,1043.1 176.8,1043.1 180.1,1043.1 183.5,1043.1 186.9,1043.1 190.3,1043.1 193.6,1043.1 197.0,1043.0 200.4,1043.0 203.8,1043.0 207.1,1043.0 210.5,1043.0 213.9,1043.0 217.3,1043.0 220.6,1042.9 224.0,1042.9 227.4,1042.9 230.8,1042.9 234.2,1042.9 237.5,1042.9 240.9,1042.9 244.3,1042.9 247.7,1042.9 251.0,1042.8 254.4,1042.8 257.8,1042.8 261.2,1042.8 264.5,1042.8 267.9,1042.8 271.3,1042.8 274.7,1042.8 278.1,1042.8 281.4,1042.8 284.8,1042.7 288.2,1042.7 291.6,1042.7 294.9,1042.7 298.3,1042.7 301.7,1042.7 305.1,1042.7 308.4,1042.7 311.8,1042.7 315.2,1042.7 318.6,1042.7 321.9,1042.7 325.3,1042.7 328.7,1042.6 332.1,1042.6 335.5,1042.6 338.8,1042.6 342.2,1042.6 345.6,1042.6 349.0,1042.6 352.3,1042.6 355.7,1042.6 359.1,1042.6 362.5,1042.6 365.8,1042.6 369.2,1042.6 372.6,1042.6 376.0,1042.5 379.4,1042.5 382.7,1042.5 386.1,1042.5 389.5,1042.5 392.9,1042.5 396.2,1042.5 399.6,1042.5 403.0,1042.5 406.4,1042.5 409.7,1042.5 413.1,1042.5 416.5,1042.5 419.9,1042.5 423.2,1042.5 426.6,1042.5 430.0,1042.5 433.4,1042.4 436.8,1042.4 440.1,1042.4 443.5,1042.4 446.9,1042.4 450.3,1042.4 453.6,1042.4 457.0,1042.4 460.4,1042.4 463.8,1042.4 467.1,1042.4 470.5,1042.4 473.9,1042.4 477.3,1042.4 480.7,1042.4 484.0,1042.4 487.4,1042.4 490.8,1042.4 494.2,1042.4 497.5,1042.4 500.9,1042.3 504.3,1042.3 507.7,1042.3 511.0,1042.3 514.4,1042.3 517.8,1042.3 521.2,1042.3 524.5,1042.3 527.9,1042.3 531.3,1042.3 534.7,1042.3 538.1,1042.3 541.4,1042.3 544.8,1042.3 548.2,1042.3 551.6,1042.3 554.9,1042.3 558.3,1042.3 561.7,1042.3 565.1,1042.3 568.4,1042.3 571.8,1042.3 575.2,1042.3 578.6,1042.2 582.0,1042.2 585.3,1042.2 588.7,1042.2 592.1,1042.2 595.5,1042.2 598.8,1042.2 602.2,1042.2 605.6,1042.2 609.0,1042.2 612.3,1042.2 615.7,1042.2 619.1,1042.2 622.5,1042.2 625.9,1042.2 629.2,1042.2 632.6,1042.2 636.0,1042.2 639.4,1042.2 642.7,1042.2 646.1,1042.2 649.5,1042.2 652.9,1042.2 656.2,1042.2 659.6,1042.2 663.0,1042.2 666.4,1042.2 669.7,1042.2 673.1,1042.1 676.5,1042.1"/>
<polyline class="cv" stroke="#77AC30" points="68.7,1052.1 72.1,1047.0 75.5,1045.9 78.8,1045.1 82.2,1044.5 85.6,1044.0 89.0,1043.5 92.3,1043.1 95.7,1042.7 99.1,1042.4 102.5,1042.1 105.8,1041.8 109.2,1041.5 112.6,1041.3 116.0,1041.0 119.3,1040.8 122.7,1040.6 126.1,1040.3 129.5,1040.1 132.9,1039.9 136.2,1039.7 139.6,1039.5 143.0,1039.4 146.4,1039.2 149.7,1039.0 153.1,1038.8 156.5,1038.7 159.9,1038.5 163.2,1038.3 166.6,1038.2 170.0,1038.0 173.4,1037.9 176.8,1037.8 180.1,1037.6 183.5,1037.5 186.9,1037.3 190.3,1037.2 193.6,1037.1 197.0,1036.9 200.4,1036.8 203.8,1036.7 207.1,1036.6 210.5,1036.4 213.9,1036.3 217.3,1036.2 220.6,1036.1 224.0,1036.0 227.4,1035.9 230.8,1035.7 234.2,1035.6 237.5,1035.5 240.9,1035.4 244.3,1035.3 247.7,1035.2 251.0,1035.1 254.4,1035.0 257.8,1034.9 261.2,1034.8 264.5,1034.7 267.9,1034.6 271.3,1034.5 274.7,1034.4 278.1,1034.3 281.4,1034.2 284.8,1034.1 288.2,1034.0 291.6,1033.9 294.9,1033.8 298.3,1033.7 301.7,1033.6 305.1,1033.6 308.4,1033.5 311.8,1033.4 315.2,1033.3 318.6,1033.2 321.9,1033.1 325.3,1033.0 328.7,1033.0 332.1,1032.9 335.5,1032.8 338.8,1032.7 342.2,1032.6 345.6,1032.5 349.0,1032.5 352.3,1032.4 355.7,1032.3 359.1,1032.2 362.5,1032.1 365.8,1032.1 369.2,1032.0 372.6,1031.9 376.0,1031.8 379.4,1031.8 382.7,1031.7 386.1,1031.6 389.5,1031.5 392.9,1031.5 396.2,1031.4 399.6,1031.3 403.0,1031.2 406.4,1031.2 409.7,1031.1 413.1,1031.0 416.5,1031.0 419.9,1030.9 423.2,1030.8 426.6,1030.7 430.0,1030.7 433.4,1030.6 436.8,1030.5 440.1,1030.5 443.5,1030.4 446.9,1030.3 450.3,1030.3 453.6,1030.2 457.0,1030.1 460.4,1030.1 463.8,1030.0 467.1,1029.9 470.5,1029.9 473.9,1029.8 477.3,1029.7 480.7,1029.7 484.0,1029.6 487.4,1029.5 490.8,1029.5 494.2,1029.4 497.5,1029.4 500.9,1029.3 504.3,1029.2 507.7,1029.2 511.0,1029.1 514.4,1029.0 517.8,1029.0 521.2,1028.9 524.5,1028.9 527.9,1028.8 531.3,1028.7 534.7,1028.7 538.1,1028.6 541.4,1028.6 544.8,1028.5 548.2,1028.4 551.6,1028.4 554.9,1028.3 558.3,1028.3 561.7,1028.2 565.1,1028.2 568.4,1028.1 571.8,1028.0 575.2,1028.0 578.6,1027.9 582.0,1027.9 585.3,1027.8 588.7,1027.8 592.1,1027.7 595.5,1027.6 598.8,1027.6 602.2,1027.5 605.6,1027.5 609.0,1027.4 612.3,1027.4 615.7,1027.3 619.1,1027.3 622.5,1027.2 625.9,1027.2 629.2,1027.1 632.6,1027.0 636.0,1027.0 639.4,1026.9 642.7,1026.9 646.1,1026.8 649.5,1026.8 652.9,1026.7 656.2,1026.7 659.6,1026.6 663.0,1026.6 666.4,1026.5 669.7,1026.5 673.1,1026.4 676.5,1026.4"/>
<polyline class="cv" stroke="#4DBEEE" points="68.7,1052.1 72.1,1048.9 75.5,1047.6 78.8,1046.6 82.2,1045.7 85.6,1045.0 89.0,1044.3 92.3,1043.6 95.7,1043.0 99.1,1042.4 102.5,1041.9 105.8,1041.4 109.2,1040.9 112.6,1040.4 116.0,1039.9 119.3,1039.4 122.7,1038.9 126.1,1038.5 129.5,1038.1 132.9,1037.6 136.2,1037.2 139.6,1036.8 143.0,1036.4 146.4,1036.0 149.7,1035.6 153.1,1035.2 156.5,1034.8 159.9,1034.4 163.2,1034.1 166.6,1033.7 170.0,1033.3 173.4,1033.0 176.8,1032.6 180.1,1032.2 183.5,1031.9 186.9,1031.5 190.3,1031.2 193.6,1030.8 197.0,1030.5 200.4,1030.2 203.8,1029.8 207.1,1029.5 210.5,1029.2 213.9,1028.8 217.3,1028.5 220.6,1028.2 224.0,1027.8 227.4,1027.5 230.8,1027.2 234.2,1026.9 237.5,1026.6 240.9,1026.2 244.3,1025.9 247.7,1025.6 251.0,1025.3 254.4,1025.0 257.8,1024.7 261.2,1024.4 264.5,1024.1 267.9,1023.8 271.3,1023.5 274.7,1023.2 278.1,1022.9 281.4,1022.6 284.8,1022.3 288.2,1022.0 291.6,1021.7 294.9,1021.4 298.3,1021.1 301.7,1020.8 305.1,1020.5 308.4,1020.2 311.8,1019.9 315.2,1019.6 318.6,1019.4 321.9,1019.1 325.3,1018.8 328.7,1018.5 332.1,1018.2 335.5,1017.9 338.8,1017.6 342.2,1017.4 345.6,1017.1 349.0,1016.8 352.3,1016.5 355.7,1016.2 359.1,1016.0 362.5,1015.7 365.8,1015.4 369.2,1015.1 372.6,1014.9 376.0,1014.6 379.4,1014.3 382.7,1014.0 386.1,1013.8 389.5,1013.5 392.9,1013.2 396.2,1012.9 399.6,1012.7 403.0,1012.4 406.4,1012.1 409.7,1011.9 413.1,1011.6 416.5,1011.3 419.9,1011.0 423.2,1010.8 426.6,1010.5 430.0,1010.2 433.4,1010.0 436.8,1009.7 440.1,1009.4 443.5,1009.2 446.9,1008.9 450.3,1008.7 453.6,1008.4 457.0,1008.1 460.4,1007.9 463.8,1007.6 467.1,1007.3 470.5,1007.1 473.9,1006.8 477.3,1006.6 480.7,1006.3 484.0,1006.0 487.4,1005.8 490.8,1005.5 494.2,1005.3 497.5,1005.0 500.9,1004.7 504.3,1004.5 507.7,1004.2 511.0,1004.0 514.4,1003.7 517.8,1003.4 521.2,1003.2 524.5,1002.9 527.9,1002.7 531.3,1002.4 534.7,1002.2 538.1,1001.9 541.4,1001.7 544.8,1001.4 548.2,1001.2 551.6,1000.9 554.9,1000.6 558.3,1000.4 561.7,1000.1 565.1,999.9 568.4,999.6 571.8,999.4 575.2,999.1 578.6,998.9 582.0,998.6 585.3,998.4 588.7,998.1 592.1,997.9 595.5,997.6 598.8,997.4 602.2,997.1 605.6,996.9 609.0,996.6 612.3,996.4 615.7,996.1 619.1,995.9 622.5,995.6 625.9,995.4 629.2,995.1 632.6,994.9 636.0,994.7 639.4,994.4 642.7,994.2 646.1,993.9 649.5,993.7 652.9,993.4 656.2,993.2 659.6,992.9 663.0,992.7 666.4,992.4 669.7,992.2 673.1,992.0 676.5,991.7"/>
<polyline class="cv" stroke="#A2142F" points="68.7,1052.1 72.1,1050.1 75.5,1049.0 78.8,1048.0 82.2,1047.0 85.6,1046.2 89.0,1045.4 92.3,1044.6 95.7,1043.8 99.1,1043.1 102.5,1042.3 105.8,1041.6 109.2,1040.9 112.6,1040.2 116.0,1039.5 119.3,1038.8 122.7,1038.1 126.1,1037.4 129.5,1036.8 132.9,1036.1 136.2,1035.4 139.6,1034.8 143.0,1034.1 146.4,1033.4 149.7,1032.8 153.1,1032.1 156.5,1031.5 159.9,1030.8 163.2,1030.2 166.6,1029.5 170.0,1028.8 173.4,1028.2 176.8,1027.5 180.1,1026.9 183.5,1026.2 186.9,1025.6 190.3,1024.9 193.6,1024.3 197.0,1023.6 200.4,1023.0 203.8,1022.3 207.1,1021.7 210.5,1021.0 213.9,1020.4 217.3,1019.7 220.6,1019.0 224.0,1018.4 227.4,1017.7 230.8,1017.1 234.2,1016.4 237.5,1015.7 240.9,1015.1 244.3,1014.4 247.7,1013.7 251.0,1013.1 254.4,1012.4 257.8,1011.7 261.2,1011.1 264.5,1010.4 267.9,1009.7 271.3,1009.1 274.7,1008.4 278.1,1007.7 281.4,1007.0 284.8,1006.3 288.2,1005.7 291.6,1005.0 294.9,1004.3 298.3,1003.6 301.7,1002.9 305.1,1002.3 308.4,1001.6 311.8,1000.9 315.2,1000.2 318.6,999.5 321.9,998.8 325.3,998.1 328.7,997.4 332.1,996.7 335.5,996.0 338.8,995.3 342.2,994.6 345.6,993.9 349.0,993.2 352.3,992.5 355.7,991.8 359.1,991.1 362.5,990.4 365.8,989.7 369.2,989.0 372.6,988.3 376.0,987.6 379.4,986.9 382.7,986.2 386.1,985.4 389.5,984.7 392.9,984.0 396.2,983.3 399.6,982.6 403.0,981.9 406.4,981.1 409.7,980.4 413.1,979.7 416.5,979.0 419.9,978.2 423.2,977.5 426.6,976.8 430.0,976.1 433.4,975.3 436.8,974.6 440.1,973.9 443.5,973.1 446.9,972.4 450.3,971.7 453.6,970.9 457.0,970.2 460.4,969.5 463.8,968.7 467.1,968.0 470.5,967.2 473.9,966.5 477.3,965.8 480.7,965.0 484.0,964.3 487.4,963.5 490.8,962.8 494.2,962.0 497.5,961.3 500.9,960.6 504.3,959.8 507.7,959.1 511.0,958.3 514.4,957.6 517.8,956.8 521.2,956.1 524.5,955.3 527.9,954.6 531.3,953.8 534.7,953.1 538.1,952.3 541.4,951.5 544.8,950.8 548.2,950.0 551.6,949.3 554.9,948.5 558.3,947.8 561.7,947.0 565.1,946.2 568.4,945.5 571.8,944.7 575.2,944.0 578.6,943.2 582.0,942.4 585.3,941.7 588.7,940.9 592.1,940.2 595.5,939.4 598.8,938.6 602.2,937.9 605.6,937.1 609.0,936.4 612.3,935.6 615.7,934.8 619.1,934.1 622.5,933.3 625.9,932.5 629.2,931.8 632.6,931.0 636.0,930.2 639.4,929.5 642.7,928.7 646.1,927.9 649.5,927.2 652.9,926.4 656.2,925.6 659.6,924.9 663.0,924.1 666.4,923.3 669.7,922.6 673.1,921.8 676.5,921.0"/>
<polyline class="cv" stroke="#0072BD" points="68.7,1052.1 72.1,1050.9 75.5,1050.0 78.8,1049.1 82.2,1048.2 85.6,1047.3 89.0,1046.5 92.3,1045.6 95.7,1044.7 99.1,1043.9 102.5,1043.0 105.8,1042.2 109.2,1041.3 112.6,1040.4 116.0,1039.6 119.3,1038.7 122.7,1037.8 126.1,1036.9 129.5,1036.0 132.9,1035.1 136.2,1034.2 139.6,1033.3 143.0,1032.4 146.4,1031.4 149.7,1030.5 153.1,1029.6 156.5,1028.6 159.9,1027.6 163.2,1026.7 166.6,1025.7 170.0,1024.7 173.4,1023.7 176.8,1022.7 180.1,1021.7 183.5,1020.7 186.9,1019.6 190.3,1018.6 193.6,1017.5 197.0,1016.5 200.4,1015.4 203.8,1014.3 207.1,1013.3 210.5,1012.2 213.9,1011.1 217.3,1009.9 220.6,1008.8 224.0,1007.7 227.4,1006.6 230.8,1005.4 234.2,1004.3 237.5,1003.1 240.9,1001.9 244.3,1000.7 247.7,999.5 251.0,998.3 254.4,997.1 257.8,995.9 261.2,994.7 264.5,993.4 267.9,992.2 271.3,990.9 274.7,989.7 278.1,988.4 281.4,987.1 284.8,985.8 288.2,984.5 291.6,983.2 294.9,981.9 298.3,980.6 301.7,979.3 305.1,977.9 308.4,976.6 311.8,975.2 315.2,973.8 318.6,972.5 321.9,971.1 325.3,969.7 328.7,968.3 332.1,966.9 335.5,965.5 338.8,964.1 342.2,962.6 345.6,961.2 349.0,959.7 352.3,958.3 355.7,956.8 359.1,955.4 362.5,953.9 365.8,952.4 369.2,950.9 372.6,949.4 376.0,947.9 379.4,946.4 382.7,944.9 386.1,943.4 389.5,941.8 392.9,940.3 396.2,938.8 399.6,937.2 403.0,935.7 406.4,934.1 409.7,932.5 413.1,931.0 416.5,929.4 419.9,927.8 423.2,926.2 426.6,924.6 430.0,923.0 433.4,921.4 436.8,919.8 440.1,918.2 443.5,916.6 446.9,914.9 450.3,913.3 453.6,911.7 457.0,910.0 460.4,908.4 463.8,906.8 467.1,905.1 470.5,903.4 473.9,901.8 477.3,900.1 480.7,898.5 484.0,896.8 487.4,895.1 490.8,893.4 494.2,891.8 497.5,890.1 500.9,888.4 504.3,886.7 507.7,885.0 511.0,883.3 514.4,881.6 517.8,879.9 521.2,878.2 524.5,876.5 527.9,874.8 531.3,873.1 534.7,871.4 538.1,869.7 541.4,867.9 544.8,866.2 548.2,864.5 551.6,862.8 554.9,861.1 558.3,859.4 561.7,857.6 565.1,855.9 568.4,854.2 571.8,852.5 575.2,850.7 578.6,849.0 582.0,847.3 585.3,845.6 588.7,843.8 592.1,842.1 595.5,840.4 598.8,838.7 602.2,836.9 605.6,835.2 609.0,833.5 612.3,831.8 615.7,830.0 619.1,828.3 622.5,826.6 625.9,824.9 629.2,823.1 632.6,821.4 636.0,819.7 639.4,818.0 642.7,816.3 646.1,814.6 649.5,812.9 652.9,811.2 656.2,809.4 659.6,807.7 663.0,806.0 666.4,804.3 669.7,802.6 673.1,800.9 676.5,799.2"/>
<polyline class="cv" stroke="#D95319" points="68.7,1052.1 72.1,1051.3 75.5,1050.5 78.8,1049.7 82.2,1048.9 85.6,1048.0 89.0,1047.2 92.3,1046.3 95.7,1045.4 99.1,1044.5 102.5,1043.6 105.8,1042.6 109.2,1041.7 112.6,1040.7 116.0,1039.7 119.3,1038.7 122.7,1037.7 126.1,1036.7 129.5,1035.6 132.9,1034.5 136.2,1033.4 139.6,1032.3 143.0,1031.2 146.4,1030.0 149.7,1028.9 153.1,1027.7 156.5,1026.5 159.9,1025.3 163.2,1024.0 166.6,1022.8 170.0,1021.5 173.4,1020.2 176.8,1018.9 180.1,1017.5 183.5,1016.2 186.9,1014.8 190.3,1013.4 193.6,1012.0 197.0,1010.6 200.4,1009.1 203.8,1007.6 207.1,1006.2 210.5,1004.6 213.9,1003.1 217.3,1001.6 220.6,1000.0 224.0,998.4 227.4,996.8 230.8,995.1 234.2,993.5 237.5,991.8 240.9,990.1 244.3,988.4 247.7,986.7 251.0,984.9 254.4,983.1 257.8,981.3 261.2,979.5 264.5,977.7 267.9,975.8 271.3,973.9 274.7,972.0 278.1,970.1 281.4,968.2 284.8,966.2 288.2,964.2 291.6,962.3 294.9,960.2 298.3,958.2 301.7,956.1 305.1,954.1 308.4,952.0 311.8,949.9 315.2,947.7 318.6,945.6 321.9,943.4 325.3,941.3 328.7,939.1 332.1,936.8 335.5,934.6 338.8,932.4 342.2,930.1 345.6,927.8 349.0,925.5 352.3,923.2 355.7,920.8 359.1,918.5 362.5,916.1 365.8,913.7 369.2,911.3 372.6,908.9 376.0,906.5 379.4,904.1 382.7,901.6 386.1,899.1 389.5,896.6 392.9,894.2 396.2,891.6 399.6,889.1 403.0,886.6 406.4,884.0 409.7,881.5 413.1,878.9 416.5,876.3 419.9,873.7 423.2,871.1 426.6,868.5 430.0,865.9 433.4,863.3 436.8,860.6 440.1,858.0 443.5,855.3 446.9,852.7 450.3,850.0 453.6,847.3 457.0,844.6 460.4,841.9 463.8,839.2 467.1,836.5 470.5,833.8 473.9,831.1 477.3,828.4 480.7,825.6 484.0,822.9 487.4,820.2 490.8,817.4 494.2,814.7 497.5,812.0 500.9,809.2 504.3,806.5 507.7,803.7 511.0,801.0 514.4,798.2 517.8,795.5 521.2,792.7 524.5,790.0 527.9,787.2 531.3,784.5 534.7,781.7 538.1,779.0 541.4,776.2 544.8,773.5 548.2,770.7 551.6,768.0 554.9,765.3 558.3,762.5 561.7,759.8 565.1,757.1 568.4,754.3 571.8,751.6 575.2,748.9 578.6,746.2 582.0,743.5 585.3,740.8 588.7,738.1 592.1,735.5 595.5,732.8 598.8,730.1 602.2,727.5 605.6,724.8 609.0,722.2 612.3,719.5 615.7,716.9 619.1,714.3 622.5,711.7 625.9,709.1 629.2,706.5 632.6,703.9 636.0,701.3 639.4,698.8 642.7,696.2 646.1,693.7 649.5,691.1 652.9,688.6 656.2,686.1 659.6,683.6 663.0,681.1 666.4,678.6 669.7,676.2 673.1,673.7 676.5,671.3"/>
</g>
<text class="tk" x="68.7" y="1112.8" text-anchor="middle">0</text>
<text class="tk" x="136.2" y="1112.8" text-anchor="middle">2</text>
<text class="tk" x="203.8" y="1112.8" text-anchor="middle">4</text>
<text class="tk" x="271.3" y="1112.8" text-anchor="middle">6</text>
<text class="tk" x="338.8" y="1112.8" text-anchor="middle">8</text>
<text class="tk" x="406.4" y="1112.8" text-anchor="middle">10</text>
<text class="tk" x="473.9" y="1112.8" text-anchor="middle">12</text>
<text class="tk" x="541.4" y="1112.8" text-anchor="middle">14</text>
<text class="tk" x="609.0" y="1112.8" text-anchor="middle">16</text>
<text class="tk" x="676.5" y="1112.8" text-anchor="middle">18</text>
<text class="tk" x="61.1" y="1093.6" text-anchor="end">0</text>
<text class="tk" x="61.1" y="1025.0" text-anchor="end">2</text>
<text class="tk" x="61.1" y="956.4" text-anchor="end">4</text>
<text class="tk" x="61.1" y="887.8" text-anchor="end">6</text>
<text class="tk" x="61.1" y="819.1" text-anchor="end">8</text>
<text class="tk" x="61.1" y="750.5" text-anchor="end">10</text>
<text class="tk" x="61.1" y="681.9" text-anchor="end">12</text>
<text class="tk" x="61.1" y="613.3" text-anchor="end">14</text>
<text class="lb" x="372.6" y="1141.2" text-anchor="middle">time[days]</text>
<text class="lb" transform="translate(27.6 846.9) rotate(-90)" text-anchor="middle">volume [mm<tspan dx="0.8" dy="-9" font-size="17">3</tspan><tspan dx="0.6" dy="9">]</tspan></text>
<rect x="77.3" y="625.1" width="198.5" height="204.6" fill="#fff" stroke="#484848" stroke-width="1.4"/>
<circle class="mk" cx="110.8" cy="638.4" r="5.8"/>
<text class="lg" x="144.3" y="644.4">DiscreteMeasure</text>
<path d="M83.1 660.7H138.5" stroke="#D95319" stroke-width="1.3" stroke-opacity="0.8"/>
<text class="lg" x="144.3" y="666.7">InterpolatedData</text>
<path d="M83.1 683.0H138.5" stroke="#EDB120" stroke-width="1.3" stroke-opacity="0.8"/>
<text class="lg" x="144.3" y="689.0">IntegerOrder</text>
<path d="M83.1 705.2H138.5" stroke="#7E2F8E" stroke-width="1.3" stroke-opacity="0.8"/>
<text class="lg" x="144.3" y="711.2">order0.05</text>
<path d="M83.1 727.5H138.5" stroke="#77AC30" stroke-width="1.3" stroke-opacity="0.8"/>
<text class="lg" x="144.3" y="733.5">order0.25</text>
<path d="M83.1 749.8H138.5" stroke="#4DBEEE" stroke-width="1.3" stroke-opacity="0.8"/>
<text class="lg" x="144.3" y="755.8">order0.45</text>
<path d="M83.1 772.1H138.5" stroke="#A2142F" stroke-width="1.3" stroke-opacity="0.8"/>
<text class="lg" x="144.3" y="778.1">order0.65</text>
<path d="M83.1 794.4H138.5" stroke="#0072BD" stroke-width="1.3" stroke-opacity="0.8"/>
<text class="lg" x="144.3" y="800.4">order0.85</text>
<path d="M83.1 816.6H138.5" stroke="#D95319" stroke-width="1.3" stroke-opacity="0.8"/>
<text class="lg" x="144.3" y="822.6">order1</text>
</g>
<g id="plot4">
<clipPath id="cp4"><rect x="795.4" y="605.3" width="609.4" height="481.0"/></clipPath>
<path class="grid" d="M863.9 606.3V1085.3M931.4 606.3V1085.3M998.9 606.3V1085.3M1066.4 606.3V1085.3M1133.8 606.3V1085.3M1201.3 606.3V1085.3M1268.8 606.3V1085.3M1336.3 606.3V1085.3M796.4 1017.9H1403.8M796.4 949.3H1403.8M796.4 880.7H1403.8M796.4 812.1H1403.8M796.4 743.5H1403.8M796.4 674.9H1403.8"/>
<path class="ax" d="M796.4 606.3H1403.8V1085.3H796.4ZM863.9 1085.3v-6.0M863.9 606.3v6.0M931.4 1085.3v-6.0M931.4 606.3v6.0M998.9 1085.3v-6.0M998.9 606.3v6.0M1066.4 1085.3v-6.0M1066.4 606.3v6.0M1133.8 1085.3v-6.0M1133.8 606.3v6.0M1201.3 1085.3v-6.0M1201.3 606.3v6.0M1268.8 1085.3v-6.0M1268.8 606.3v6.0M1336.3 1085.3v-6.0M1336.3 606.3v6.0M796.4 1017.9h6.0M1403.8 1017.9h-6.0M796.4 949.3h6.0M1403.8 949.3h-6.0M796.4 880.7h6.0M1403.8 880.7h-6.0M796.4 812.1h6.0M1403.8 812.1h-6.0M796.4 743.5h6.0M1403.8 743.5h-6.0M796.4 674.9h6.0M1403.8 674.9h-6.0"/>
<circle class="mk" cx="796.4" cy="1052.2" r="5.8"/>
<circle class="mk" cx="931.4" cy="1035.0" r="5.8"/>
<circle class="mk" cx="1032.6" cy="1009.3" r="5.8"/>
<circle class="mk" cx="1100.1" cy="983.6" r="5.8"/>
<circle class="mk" cx="1167.6" cy="930.4" r="5.8"/>
<circle class="mk" cx="1302.6" cy="846.4" r="5.8"/>
<circle class="mk" cx="1403.8" cy="752.1" r="5.8"/>
<g clip-path="url(#cp4)">
<polyline class="cv" stroke="#D95319" points="796.4,1052.2 798.1,1052.2 799.8,1052.2 801.5,1052.2 803.1,1052.2 804.8,1052.1 806.5,1052.1 808.2,1052.1 809.9,1052.0 811.6,1052.0 813.3,1051.9 815.0,1051.8 816.6,1051.8 818.3,1051.7 820.0,1051.6 821.7,1051.5 823.4,1051.4 825.1,1051.3 826.8,1051.2 828.5,1051.1 830.1,1051.0 831.8,1050.8 833.5,1050.7 835.2,1050.6 836.9,1050.4 838.6,1050.3 840.3,1050.1 842.0,1050.0 843.6,1049.8 845.3,1049.6 847.0,1049.5 848.7,1049.3 850.4,1049.1 852.1,1048.9 853.8,1048.7 855.5,1048.5 857.1,1048.3 858.8,1048.1 860.5,1047.9 862.2,1047.6 863.9,1047.4 865.6,1047.2 867.3,1047.0 869.0,1046.7 870.6,1046.5 872.3,1046.2 874.0,1046.0 875.7,1045.7 877.4,1045.4 879.1,1045.2 880.8,1044.9 882.4,1044.6 884.1,1044.4 885.8,1044.1 887.5,1043.8 889.2,1043.5 890.9,1043.2 892.6,1042.9 894.3,1042.6 895.9,1042.3 897.6,1042.0 899.3,1041.7 901.0,1041.3 902.7,1041.0 904.4,1040.7 906.1,1040.4 907.8,1040.0 909.4,1039.7 911.1,1039.4 912.8,1039.0 914.5,1038.7 916.2,1038.3 917.9,1038.0 919.6,1037.6 921.3,1037.3 922.9,1036.9 924.6,1036.5 926.3,1036.2 928.0,1035.8 929.7,1035.4 931.4,1035.0 933.1,1034.7 934.8,1034.3 936.4,1033.9 938.1,1033.5 939.8,1033.1 941.5,1032.7 943.2,1032.3 944.9,1031.9 946.6,1031.6 948.2,1031.1 949.9,1030.7 951.6,1030.3 953.3,1029.9 955.0,1029.5 956.7,1029.1 958.4,1028.7 960.1,1028.3 961.7,1027.9 963.4,1027.4 965.1,1027.0 966.8,1026.6 968.5,1026.2 970.2,1025.8 971.9,1025.3 973.6,1024.9 975.2,1024.5 976.9,1024.0 978.6,1023.6 980.3,1023.2 982.0,1022.7 983.7,1022.3 985.4,1021.9 987.1,1021.4 988.7,1021.0 990.4,1020.5 992.1,1020.1 993.8,1019.7 995.5,1019.2 997.2,1018.8 998.9,1018.3 1000.6,1017.9 1002.2,1017.4 1003.9,1017.0 1005.6,1016.5 1007.3,1016.1 1009.0,1015.6 1010.7,1015.2 1012.4,1014.7 1014.1,1014.3 1015.7,1013.8 1017.4,1013.4 1019.1,1012.9 1020.8,1012.5 1022.5,1012.0 1024.2,1011.6 1025.9,1011.1 1027.5,1010.7 1029.2,1010.2 1030.9,1009.8 1032.6,1009.3 1034.3,1008.9 1036.0,1008.4 1037.7,1008.0 1039.4,1007.5 1041.0,1007.1 1042.7,1006.6 1044.4,1006.1 1046.1,1005.7 1047.8,1005.2 1049.5,1004.7 1051.2,1004.2 1052.9,1003.7 1054.5,1003.2 1056.2,1002.7 1057.9,1002.2 1059.6,1001.7 1061.3,1001.1 1063.0,1000.5 1064.7,1000.0 1066.4,999.4 1068.0,998.8 1069.7,998.2 1071.4,997.5 1073.1,996.9 1074.8,996.2 1076.5,995.5 1078.2,994.8 1079.9,994.1 1081.5,993.4 1083.2,992.6 1084.9,991.8 1086.6,991.0 1088.3,990.2 1090.0,989.3 1091.7,988.4 1093.4,987.5 1095.0,986.6 1096.7,985.6 1098.4,984.6 1100.1,983.6 1101.8,982.6 1103.5,981.5 1105.2,980.4 1106.8,979.2 1108.5,978.1 1110.2,976.9 1111.9,975.7 1113.6,974.5 1115.3,973.2 1117.0,972.0 1118.7,970.7 1120.3,969.4 1122.0,968.1 1123.7,966.7 1125.4,965.4 1127.1,964.0 1128.8,962.6 1130.5,961.3 1132.2,959.9 1133.8,958.5 1135.5,957.1 1137.2,955.6 1138.9,954.2 1140.6,952.8 1142.3,951.4 1144.0,950.0 1145.7,948.5 1147.3,947.1 1149.0,945.7 1150.7,944.3 1152.4,942.8 1154.1,941.4 1155.8,940.0 1157.5,938.6 1159.2,937.2 1160.8,935.8 1162.5,934.5 1164.2,933.1 1165.9,931.8 1167.6,930.4 1169.3,929.1 1171.0,927.8 1172.7,926.5 1174.3,925.3 1176.0,924.0 1177.7,922.7 1179.4,921.5 1181.1,920.3 1182.8,919.1 1184.5,917.9 1186.1,916.7 1187.8,915.5 1189.5,914.4 1191.2,913.2 1192.9,912.1 1194.6,910.9 1196.3,909.8 1198.0,908.7 1199.6,907.6 1201.3,906.5 1203.0,905.4 1204.7,904.4 1206.4,903.3 1208.1,902.3 1209.8,901.2 1211.5,900.2 1213.1,899.1 1214.8,898.1 1216.5,897.1 1218.2,896.1 1219.9,895.1 1221.6,894.1 1223.3,893.1 1225.0,892.1 1226.6,891.1 1228.3,890.1 1230.0,889.1 1231.7,888.1 1233.4,887.2 1235.1,886.2 1236.8,885.2 1238.5,884.3 1240.1,883.3 1241.8,882.3 1243.5,881.4 1245.2,880.4 1246.9,879.5 1248.6,878.5 1250.3,877.6 1251.9,876.6 1253.6,875.6 1255.3,874.7 1257.0,873.7 1258.7,872.8 1260.4,871.8 1262.1,870.8 1263.8,869.9 1265.4,868.9 1267.1,867.9 1268.8,867.0 1270.5,866.0 1272.2,865.0 1273.9,864.0 1275.6,863.0 1277.3,862.0 1278.9,861.1 1280.6,860.0 1282.3,859.0 1284.0,858.0 1285.7,857.0 1287.4,856.0 1289.1,854.9 1290.8,853.9 1292.4,852.9 1294.1,851.8 1295.8,850.7 1297.5,849.7 1299.2,848.6 1300.9,847.5 1302.6,846.4 1304.3,845.3 1305.9,844.2 1307.6,843.0 1309.3,841.9 1311.0,840.8 1312.7,839.6 1314.4,838.4 1316.1,837.2 1317.8,836.1 1319.4,834.8 1321.1,833.6 1322.8,832.4 1324.5,831.1 1326.2,829.9 1327.9,828.6 1329.6,827.3 1331.2,826.0 1332.9,824.7 1334.6,823.4 1336.3,822.0 1338.0,820.7 1339.7,819.3 1341.4,817.9 1343.1,816.5 1344.7,815.1 1346.4,813.6 1348.1,812.2 1349.8,810.7 1351.5,809.2 1353.2,807.7 1354.9,806.1 1356.6,804.6 1358.2,803.0 1359.9,801.4 1361.6,799.8 1363.3,798.2 1365.0,796.5 1366.7,794.8 1368.4,793.1 1370.1,791.4 1371.7,789.7 1373.4,787.9 1375.1,786.1 1376.8,784.3 1378.5,782.5 1380.2,780.6 1381.9,778.8 1383.6,776.9 1385.2,774.9 1386.9,773.0 1388.6,771.0 1390.3,769.0 1392.0,767.0 1393.7,764.9 1395.4,762.9 1397.1,760.8 1398.7,758.6 1400.4,756.5 1402.1,754.3 1403.8,752.1"/>
<polyline class="cv" stroke="#7E2F8E" points="796.4,1052.2 799.8,1045.1 803.1,1044.6 806.5,1044.3 809.9,1044.1 813.3,1044.0 816.6,1043.9 820.0,1043.8 823.4,1043.7 826.8,1043.7 830.1,1043.6 833.5,1043.5 836.9,1043.5 840.3,1043.4 843.6,1043.4 847.0,1043.3 850.4,1043.3 853.8,1043.3 857.1,1043.2 860.5,1043.2 863.9,1043.1 867.3,1043.1 870.6,1043.1 874.0,1043.1 877.4,1043.0 880.8,1043.0 884.1,1043.0 887.5,1042.9 890.9,1042.9 894.3,1042.9 897.6,1042.9 901.0,1042.9 904.4,1042.8 907.8,1042.8 911.1,1042.8 914.5,1042.8 917.9,1042.8 921.3,1042.7 924.6,1042.7 928.0,1042.7 931.4,1042.7 934.8,1042.7 938.1,1042.6 941.5,1042.6 944.9,1042.6 948.2,1042.6 951.6,1042.6 955.0,1042.6 958.4,1042.6 961.7,1042.5 965.1,1042.5 968.5,1042.5 971.9,1042.5 975.2,1042.5 978.6,1042.5 982.0,1042.5 985.4,1042.4 988.7,1042.4 992.1,1042.4 995.5,1042.4 998.9,1042.4 1002.2,1042.4 1005.6,1042.4 1009.0,1042.4 1012.4,1042.3 1015.7,1042.3 1019.1,1042.3 1022.5,1042.3 1025.9,1042.3 1029.2,1042.3 1032.6,1042.3 1036.0,1042.3 1039.4,1042.3 1042.7,1042.3 1046.1,1042.2 1049.5,1042.2 1052.9,1042.2 1056.2,1042.2 1059.6,1042.2 1063.0,1042.2 1066.4,1042.2 1069.7,1042.2 1073.1,1042.2 1076.5,1042.2 1079.9,1042.1 1083.2,1042.1 1086.6,1042.1 1090.0,1042.1 1093.4,1042.1 1096.7,1042.1 1100.1,1042.1 1103.5,1042.1 1106.8,1042.1 1110.2,1042.1 1113.6,1042.1 1117.0,1042.1 1120.3,1042.0 1123.7,1042.0 1127.1,1042.0 1130.5,1042.0 1133.8,1042.0 1137.2,1042.0 1140.6,1042.0 1144.0,1042.0 1147.3,1042.0 1150.7,1042.0 1154.1,1042.0 1157.5,1042.0 1160.8,1042.0 1164.2,1042.0 1167.6,1041.9 1171.0,1041.9 1174.3,1041.9 1177.7,1041.9 1181.1,1041.9 1184.5,1041.9 1187.8,1041.9 1191.2,1041.9 1194.6,1041.9 1198.0,1041.9 1201.3,1041.9 1204.7,1041.9 1208.1,1041.9 1211.5,1041.9 1214.8,1041.9 1218.2,1041.8 1221.6,1041.8 1225.0,1041.8 1228.3,1041.8 1231.7,1041.8 1235.1,1041.8 1238.5,1041.8 1241.8,1041.8 1245.2,1041.8 1248.6,1041.8 1251.9,1041.8 1255.3,1041.8 1258.7,1041.8 1262.1,1041.8 1265.4,1041.8 1268.8,1041.8 1272.2,1041.8 1275.6,1041.8 1278.9,1041.7 1282.3,1041.7 1285.7,1041.7 1289.1,1041.7 1292.4,1041.7 1295.8,1041.7 1299.2,1041.7 1302.6,1041.7 1305.9,1041.7 1309.3,1041.7 1312.7,1041.7 1316.1,1041.7 1319.4,1041.7 1322.8,1041.7 1326.2,1041.7 1329.6,1041.7 1332.9,1041.7 1336.3,1041.7 1339.7,1041.7 1343.1,1041.6 1346.4,1041.6 1349.8,1041.6 1353.2,1041.6 1356.6,1041.6 1359.9,1041.6 1363.3,1041.6 1366.7,1041.6 1370.1,1041.6 1373.4,1041.6 1376.8,1041.6 1380.2,1041.6 1383.6,1041.6 1386.9,1041.6 1390.3,1041.6 1393.7,1041.6 1397.1,1041.6 1400.4,1041.6 1403.8,1041.6"/>
<polyline class="cv" stroke="#77AC30" points="796.4,1052.2 799.8,1047.3 803.1,1046.2 806.5,1045.4 809.9,1044.8 813.3,1044.2 816.6,1043.8 820.0,1043.4 823.4,1043.0 826.8,1042.6 830.1,1042.3 833.5,1042.0 836.9,1041.7 840.3,1041.5 843.6,1041.2 847.0,1041.0 850.4,1040.7 853.8,1040.5 857.1,1040.3 860.5,1040.1 863.9,1039.9 867.3,1039.7 870.6,1039.5 874.0,1039.3 877.4,1039.1 880.8,1039.0 884.1,1038.8 887.5,1038.6 890.9,1038.4 894.3,1038.3 897.6,1038.1 901.0,1038.0 904.4,1037.8 907.8,1037.7 911.1,1037.5 914.5,1037.4 917.9,1037.3 921.3,1037.1 924.6,1037.0 928.0,1036.8 931.4,1036.7 934.8,1036.6 938.1,1036.5 941.5,1036.3 944.9,1036.2 948.2,1036.1 951.6,1036.0 955.0,1035.8 958.4,1035.7 961.7,1035.6 965.1,1035.5 968.5,1035.4 971.9,1035.3 975.2,1035.2 978.6,1035.1 982.0,1034.9 985.4,1034.8 988.7,1034.7 992.1,1034.6 995.5,1034.5 998.9,1034.4 1002.2,1034.3 1005.6,1034.2 1009.0,1034.1 1012.4,1034.0 1015.7,1033.9 1019.1,1033.8 1022.5,1033.7 1025.9,1033.6 1029.2,1033.5 1032.6,1033.4 1036.0,1033.3 1039.4,1033.3 1042.7,1033.2 1046.1,1033.1 1049.5,1033.0 1052.9,1032.9 1056.2,1032.8 1059.6,1032.7 1063.0,1032.6 1066.4,1032.5 1069.7,1032.5 1073.1,1032.4 1076.5,1032.3 1079.9,1032.2 1083.2,1032.1 1086.6,1032.0 1090.0,1031.9 1093.4,1031.9 1096.7,1031.8 1100.1,1031.7 1103.5,1031.6 1106.8,1031.5 1110.2,1031.5 1113.6,1031.4 1117.0,1031.3 1120.3,1031.2 1123.7,1031.1 1127.1,1031.1 1130.5,1031.0 1133.8,1030.9 1137.2,1030.8 1140.6,1030.8 1144.0,1030.7 1147.3,1030.6 1150.7,1030.5 1154.1,1030.5 1157.5,1030.4 1160.8,1030.3 1164.2,1030.2 1167.6,1030.2 1171.0,1030.1 1174.3,1030.0 1177.7,1030.0 1181.1,1029.9 1184.5,1029.8 1187.8,1029.7 1191.2,1029.7 1194.6,1029.6 1198.0,1029.5 1201.3,1029.5 1204.7,1029.4 1208.1,1029.3 1211.5,1029.3 1214.8,1029.2 1218.2,1029.1 1221.6,1029.1 1225.0,1029.0 1228.3,1028.9 1231.7,1028.9 1235.1,1028.8 1238.5,1028.7 1241.8,1028.7 1245.2,1028.6 1248.6,1028.5 1251.9,1028.5 1255.3,1028.4 1258.7,1028.3 1262.1,1028.3 1265.4,1028.2 1268.8,1028.1 1272.2,1028.1 1275.6,1028.0 1278.9,1028.0 1282.3,1027.9 1285.7,1027.8 1289.1,1027.8 1292.4,1027.7 1295.8,1027.6 1299.2,1027.6 1302.6,1027.5 1305.9,1027.5 1309.3,1027.4 1312.7,1027.3 1316.1,1027.3 1319.4,1027.2 1322.8,1027.2 1326.2,1027.1 1329.6,1027.0 1332.9,1027.0 1336.3,1026.9 1339.7,1026.9 1343.1,1026.8 1346.4,1026.8 1349.8,1026.7 1353.2,1026.6 1356.6,1026.6 1359.9,1026.5 1363.3,1026.5 1366.7,1026.4 1370.1,1026.3 1373.4,1026.3 1376.8,1026.2 1380.2,1026.2 1383.6,1026.1 1386.9,1026.1 1390.3,1026.0 1393.7,1026.0 1397.1,1025.9 1400.4,1025.8 1403.8,1025.8"/>
<polyline class="cv" stroke="#4DBEEE" points="796.4,1052.2 799.8,1049.1 803.1,1047.8 806.5,1046.8 809.9,1046.0 813.3,1045.2 816.6,1044.5 820.0,1043.8 823.4,1043.2 826.8,1042.6 830.1,1042.1 833.5,1041.5 836.9,1041.0 840.3,1040.5 843.6,1040.0 847.0,1039.5 850.4,1039.1 853.8,1038.6 857.1,1038.2 860.5,1037.7 863.9,1037.3 867.3,1036.9 870.6,1036.5 874.0,1036.0 877.4,1035.6 880.8,1035.2 884.1,1034.8 887.5,1034.5 890.9,1034.1 894.3,1033.7 897.6,1033.3 901.0,1032.9 904.4,1032.6 907.8,1032.2 911.1,1031.8 914.5,1031.5 917.9,1031.1 921.3,1030.8 924.6,1030.4 928.0,1030.1 931.4,1029.7 934.8,1029.4 938.1,1029.0 941.5,1028.7 944.9,1028.3 948.2,1028.0 951.6,1027.7 955.0,1027.3 958.4,1027.0 961.7,1026.7 965.1,1026.3 968.5,1026.0 971.9,1025.7 975.2,1025.4 978.6,1025.0 982.0,1024.7 985.4,1024.4 988.7,1024.1 992.1,1023.8 995.5,1023.5 998.9,1023.1 1002.2,1022.8 1005.6,1022.5 1009.0,1022.2 1012.4,1021.9 1015.7,1021.6 1019.1,1021.3 1022.5,1021.0 1025.9,1020.7 1029.2,1020.4 1032.6,1020.1 1036.0,1019.8 1039.4,1019.5 1042.7,1019.2 1046.1,1018.9 1049.5,1018.6 1052.9,1018.3 1056.2,1018.0 1059.6,1017.7 1063.0,1017.4 1066.4,1017.1 1069.7,1016.8 1073.1,1016.5 1076.5,1016.2 1079.9,1015.9 1083.2,1015.6 1086.6,1015.3 1090.0,1015.0 1093.4,1014.7 1096.7,1014.4 1100.1,1014.1 1103.5,1013.9 1106.8,1013.6 1110.2,1013.3 1113.6,1013.0 1117.0,1012.7 1120.3,1012.4 1123.7,1012.1 1127.1,1011.9 1130.5,1011.6 1133.8,1011.3 1137.2,1011.0 1140.6,1010.7 1144.0,1010.4 1147.3,1010.2 1150.7,1009.9 1154.1,1009.6 1157.5,1009.3 1160.8,1009.0 1164.2,1008.8 1167.6,1008.5 1171.0,1008.2 1174.3,1007.9 1177.7,1007.6 1181.1,1007.4 1184.5,1007.1 1187.8,1006.8 1191.2,1006.5 1194.6,1006.3 1198.0,1006.0 1201.3,1005.7 1204.7,1005.4 1208.1,1005.2 1211.5,1004.9 1214.8,1004.6 1218.2,1004.3 1221.6,1004.1 1225.0,1003.8 1228.3,1003.5 1231.7,1003.3 1235.1,1003.0 1238.5,1002.7 1241.8,1002.4 1245.2,1002.2 1248.6,1001.9 1251.9,1001.6 1255.3,1001.4 1258.7,1001.1 1262.1,1000.8 1265.4,1000.6 1268.8,1000.3 1272.2,1000.0 1275.6,999.8 1278.9,999.5 1282.3,999.2 1285.7,999.0 1289.1,998.7 1292.4,998.4 1295.8,998.2 1299.2,997.9 1302.6,997.6 1305.9,997.4 1309.3,997.1 1312.7,996.8 1316.1,996.6 1319.4,996.3 1322.8,996.0 1326.2,995.8 1329.6,995.5 1332.9,995.2 1336.3,995.0 1339.7,994.7 1343.1,994.5 1346.4,994.2 1349.8,993.9 1353.2,993.7 1356.6,993.4 1359.9,993.1 1363.3,992.9 1366.7,992.6 1370.1,992.4 1373.4,992.1 1376.8,991.8 1380.2,991.6 1383.6,991.3 1386.9,991.1 1390.3,990.8 1393.7,990.5 1397.1,990.3 1400.4,990.0 1403.8,989.8"/>
<polyline class="cv" stroke="#A2142F" points="796.4,1052.2 799.8,1050.3 803.1,1049.2 806.5,1048.2 809.9,1047.2 813.3,1046.4 816.6,1045.6 820.0,1044.8 823.4,1044.0 826.8,1043.3 830.1,1042.5 833.5,1041.8 836.9,1041.1 840.3,1040.4 843.6,1039.7 847.0,1039.0 850.4,1038.3 853.8,1037.6 857.1,1036.9 860.5,1036.3 863.9,1035.6 867.3,1034.9 870.6,1034.2 874.0,1033.6 877.4,1032.9 880.8,1032.2 884.1,1031.6 887.5,1030.9 890.9,1030.3 894.3,1029.6 897.6,1028.9 901.0,1028.3 904.4,1027.6 907.8,1026.9 911.1,1026.3 914.5,1025.6 917.9,1025.0 921.3,1024.3 924.6,1023.6 928.0,1023.0 931.4,1022.3 934.8,1021.6 938.1,1021.0 941.5,1020.3 944.9,1019.6 948.2,1019.0 951.6,1018.3 955.0,1017.6 958.4,1016.9 961.7,1016.3 965.1,1015.6 968.5,1014.9 971.9,1014.2 975.2,1013.5 978.6,1012.9 982.0,1012.2 985.4,1011.5 988.7,1010.8 992.1,1010.1 995.5,1009.4 998.9,1008.7 1002.2,1008.1 1005.6,1007.4 1009.0,1006.7 1012.4,1006.0 1015.7,1005.3 1019.1,1004.6 1022.5,1003.9 1025.9,1003.2 1029.2,1002.5 1032.6,1001.8 1036.0,1001.1 1039.4,1000.4 1042.7,999.7 1046.1,998.9 1049.5,998.2 1052.9,997.5 1056.2,996.8 1059.6,996.1 1063.0,995.4 1066.4,994.7 1069.7,993.9 1073.1,993.2 1076.5,992.5 1079.9,991.8 1083.2,991.1 1086.6,990.3 1090.0,989.6 1093.4,988.9 1096.7,988.1 1100.1,987.4 1103.5,986.7 1106.8,985.9 1110.2,985.2 1113.6,984.5 1117.0,983.7 1120.3,983.0 1123.7,982.3 1127.1,981.5 1130.5,980.8 1133.8,980.0 1137.2,979.3 1140.6,978.5 1144.0,977.8 1147.3,977.0 1150.7,976.3 1154.1,975.5 1157.5,974.8 1160.8,974.0 1164.2,973.3 1167.6,972.5 1171.0,971.8 1174.3,971.0 1177.7,970.3 1181.1,969.5 1184.5,968.7 1187.8,968.0 1191.2,967.2 1194.6,966.4 1198.0,965.7 1201.3,964.9 1204.7,964.1 1208.1,963.4 1211.5,962.6 1214.8,961.8 1218.2,961.1 1221.6,960.3 1225.0,959.5 1228.3,958.7 1231.7,958.0 1235.1,957.2 1238.5,956.4 1241.8,955.6 1245.2,954.9 1248.6,954.1 1251.9,953.3 1255.3,952.5 1258.7,951.8 1262.1,951.0 1265.4,950.2 1268.8,949.4 1272.2,948.6 1275.6,947.8 1278.9,947.1 1282.3,946.3 1285.7,945.5 1289.1,944.7 1292.4,943.9 1295.8,943.1 1299.2,942.3 1302.6,941.6 1305.9,940.8 1309.3,940.0 1312.7,939.2 1316.1,938.4 1319.4,937.6 1322.8,936.8 1326.2,936.0 1329.6,935.2 1332.9,934.4 1336.3,933.6 1339.7,932.9 1343.1,932.1 1346.4,931.3 1349.8,930.5 1353.2,929.7 1356.6,928.9 1359.9,928.1 1363.3,927.3 1366.7,926.5 1370.1,925.7 1373.4,924.9 1376.8,924.1 1380.2,923.3 1383.6,922.5 1386.9,921.7 1390.3,920.9 1393.7,920.1 1397.1,919.3 1400.4,918.5 1403.8,917.7"/>
<polyline class="cv" stroke="#0072BD" points="796.4,1052.2 799.8,1051.1 803.1,1050.1 806.5,1049.2 809.9,1048.4 813.3,1047.5 816.6,1046.6 820.0,1045.8 823.4,1044.9 826.8,1044.1 830.1,1043.2 833.5,1042.4 836.9,1041.5 840.3,1040.6 843.6,1039.8 847.0,1038.9 850.4,1038.0 853.8,1037.1 857.1,1036.2 860.5,1035.3 863.9,1034.4 867.3,1033.5 870.6,1032.5 874.0,1031.6 877.4,1030.7 880.8,1029.7 884.1,1028.7 887.5,1027.8 890.9,1026.8 894.3,1025.8 897.6,1024.8 901.0,1023.8 904.4,1022.8 907.8,1021.8 911.1,1020.7 914.5,1019.7 917.9,1018.6 921.3,1017.6 924.6,1016.5 928.0,1015.4 931.4,1014.3 934.8,1013.2 938.1,1012.1 941.5,1011.0 944.9,1009.9 948.2,1008.7 951.6,1007.6 955.0,1006.4 958.4,1005.3 961.7,1004.1 965.1,1002.9 968.5,1001.7 971.9,1000.5 975.2,999.3 978.6,998.1 982.0,996.8 985.4,995.6 988.7,994.4 992.1,993.1 995.5,991.8 998.9,990.5 1002.2,989.3 1005.6,988.0 1009.0,986.7 1012.4,985.3 1015.7,984.0 1019.1,982.7 1022.5,981.3 1025.9,980.0 1029.2,978.6 1032.6,977.3 1036.0,975.9 1039.4,974.5 1042.7,973.1 1046.1,971.7 1049.5,970.3 1052.9,968.9 1056.2,967.4 1059.6,966.0 1063.0,964.6 1066.4,963.1 1069.7,961.6 1073.1,960.2 1076.5,958.7 1079.9,957.2 1083.2,955.7 1086.6,954.2 1090.0,952.7 1093.4,951.2 1096.7,949.7 1100.1,948.1 1103.5,946.6 1106.8,945.0 1110.2,943.5 1113.6,941.9 1117.0,940.4 1120.3,938.8 1123.7,937.2 1127.1,935.6 1130.5,934.0 1133.8,932.4 1137.2,930.8 1140.6,929.2 1144.0,927.6 1147.3,926.0 1150.7,924.3 1154.1,922.7 1157.5,921.1 1160.8,919.4 1164.2,917.8 1167.6,916.1 1171.0,914.4 1174.3,912.8 1177.7,911.1 1181.1,909.4 1184.5,907.7 1187.8,906.1 1191.2,904.4 1194.6,902.7 1198.0,901.0 1201.3,899.3 1204.7,897.6 1208.1,895.8 1211.5,894.1 1214.8,892.4 1218.2,890.7 1221.6,889.0 1225.0,887.2 1228.3,885.5 1231.7,883.7 1235.1,882.0 1238.5,880.3 1241.8,878.5 1245.2,876.8 1248.6,875.0 1251.9,873.3 1255.3,871.5 1258.7,869.8 1262.1,868.0 1265.4,866.2 1268.8,864.5 1272.2,862.7 1275.6,861.0 1278.9,859.2 1282.3,857.4 1285.7,855.7 1289.1,853.9 1292.4,852.1 1295.8,850.3 1299.2,848.6 1302.6,846.8 1305.9,845.0 1309.3,843.2 1312.7,841.5 1316.1,839.7 1319.4,837.9 1322.8,836.2 1326.2,834.4 1329.6,832.6 1332.9,830.8 1336.3,829.1 1339.7,827.3 1343.1,825.5 1346.4,823.8 1349.8,822.0 1353.2,820.2 1356.6,818.5 1359.9,816.7 1363.3,814.9 1366.7,813.2 1370.1,811.4 1373.4,809.6 1376.8,807.9 1380.2,806.1 1383.6,804.4 1386.9,802.6 1390.3,800.9 1393.7,799.1 1397.1,797.4 1400.4,795.7 1403.8,793.9"/>
<polyline class="cv" stroke="#D95319" points="796.4,1052.2 799.8,1051.4 803.1,1050.6 806.5,1049.8 809.9,1049.0 813.3,1048.2 816.6,1047.3 820.0,1046.4 823.4,1045.6 826.8,1044.7 830.1,1043.7 833.5,1042.8 836.9,1041.9 840.3,1040.9 843.6,1039.9 847.0,1038.9 850.4,1037.9 853.8,1036.9 857.1,1035.8 860.5,1034.8 863.9,1033.7 867.3,1032.6 870.6,1031.5 874.0,1030.3 877.4,1029.2 880.8,1028.0 884.1,1026.8 887.5,1025.6 890.9,1024.4 894.3,1023.1 897.6,1021.9 901.0,1020.6 904.4,1019.3 907.8,1017.9 911.1,1016.6 914.5,1015.2 917.9,1013.9 921.3,1012.5 924.6,1011.0 928.0,1009.6 931.4,1008.1 934.8,1006.7 938.1,1005.2 941.5,1003.6 944.9,1002.1 948.2,1000.5 951.6,999.0 955.0,997.4 958.4,995.7 961.7,994.1 965.1,992.4 968.5,990.8 971.9,989.1 975.2,987.3 978.6,985.6 982.0,983.9 985.4,982.1 988.7,980.3 992.1,978.5 995.5,976.6 998.9,974.8 1002.2,972.9 1005.6,971.0 1009.0,969.1 1012.4,967.1 1015.7,965.2 1019.1,963.2 1022.5,961.2 1025.9,959.2 1029.2,957.2 1032.6,955.1 1036.0,953.0 1039.4,951.0 1042.7,948.9 1046.1,946.7 1049.5,944.6 1052.9,942.4 1056.2,940.2 1059.6,938.1 1063.0,935.8 1066.4,933.6 1069.7,931.4 1073.1,929.1 1076.5,926.8 1079.9,924.5 1083.2,922.2 1086.6,919.9 1090.0,917.5 1093.4,915.2 1096.7,912.8 1100.1,910.4 1103.5,908.0 1106.8,905.6 1110.2,903.2 1113.6,900.7 1117.0,898.3 1120.3,895.8 1123.7,893.3 1127.1,890.8 1130.5,888.3 1133.8,885.8 1137.2,883.2 1140.6,880.7 1144.0,878.1 1147.3,875.6 1150.7,873.0 1154.1,870.4 1157.5,867.8 1160.8,865.2 1164.2,862.6 1167.6,860.0 1171.0,857.3 1174.3,854.7 1177.7,852.0 1181.1,849.4 1184.5,846.7 1187.8,844.0 1191.2,841.4 1194.6,838.7 1198.0,836.0 1201.3,833.3 1204.7,830.6 1208.1,827.9 1211.5,825.2 1214.8,822.5 1218.2,819.7 1221.6,817.0 1225.0,814.3 1228.3,811.6 1231.7,808.8 1235.1,806.1 1238.5,803.4 1241.8,800.6 1245.2,797.9 1248.6,795.2 1251.9,792.4 1255.3,789.7 1258.7,787.0 1262.1,784.2 1265.4,781.5 1268.8,778.8 1272.2,776.1 1275.6,773.3 1278.9,770.6 1282.3,767.9 1285.7,765.2 1289.1,762.5 1292.4,759.7 1295.8,757.0 1299.2,754.3 1302.6,751.6 1305.9,748.9 1309.3,746.3 1312.7,743.6 1316.1,740.9 1319.4,738.2 1322.8,735.6 1326.2,732.9 1329.6,730.3 1332.9,727.6 1336.3,725.0 1339.7,722.4 1343.1,719.7 1346.4,717.1 1349.8,714.5 1353.2,711.9 1356.6,709.3 1359.9,706.8 1363.3,704.2 1366.7,701.6 1370.1,699.1 1373.4,696.6 1376.8,694.0 1380.2,691.5 1383.6,689.0 1386.9,686.5 1390.3,684.0 1393.7,681.6 1397.1,679.1 1400.4,676.7 1403.8,674.2"/>
</g>
<text class="tk" x="796.4" y="1112.9" text-anchor="middle">0</text>
<text class="tk" x="863.9" y="1112.9" text-anchor="middle">2</text>
<text class="tk" x="931.4" y="1112.9" text-anchor="middle">4</text>
<text class="tk" x="998.9" y="1112.9" text-anchor="middle">6</text>
<text class="tk" x="1066.4" y="1112.9" text-anchor="middle">8</text>
<text class="tk" x="1133.8" y="1112.9" text-anchor="middle">10</text>
<text class="tk" x="1201.3" y="1112.9" text-anchor="middle">12</text>
<text class="tk" x="1268.8" y="1112.9" text-anchor="middle">14</text>
<text class="tk" x="1336.3" y="1112.9" text-anchor="middle">16</text>
<text class="tk" x="1403.8" y="1112.9" text-anchor="middle">18</text>
<text class="tk" x="788.8" y="1093.7" text-anchor="end">0</text>
<text class="tk" x="788.8" y="1025.1" text-anchor="end">2</text>
<text class="tk" x="788.8" y="956.5" text-anchor="end">4</text>
<text class="tk" x="788.8" y="887.9" text-anchor="end">6</text>
<text class="tk" x="788.8" y="819.3" text-anchor="end">8</text>
<text class="tk" x="788.8" y="750.7" text-anchor="end">10</text>
<text class="tk" x="788.8" y="682.1" text-anchor="end">12</text>
<text class="tk" x="788.8" y="613.5" text-anchor="end">14</text>
<text class="lb" x="1100.1" y="1141.3" text-anchor="middle">time[days]</text>
<text class="lb" transform="translate(755.3 847.0) rotate(-90)" text-anchor="middle">volume [mm<tspan dx="0.8" dy="-9" font-size="17">3</tspan><tspan dx="0.6" dy="9">]</tspan></text>
<rect x="816.1" y="625.1" width="198.5" height="204.6" fill="#fff" stroke="#484848" stroke-width="1.4"/>
<circle class="mk" cx="849.6" cy="638.4" r="5.8"/>
<text class="lg" x="883.1" y="644.4">DiscreteMeasure</text>
<path d="M821.9 660.7H877.3" stroke="#D95319" stroke-width="1.3" stroke-opacity="0.8"/>
<text class="lg" x="883.1" y="666.7">InterpolatedData</text>
<path d="M821.9 683.0H877.3" stroke="#EDB120" stroke-width="1.3" stroke-opacity="0.8"/>
<text class="lg" x="883.1" y="689.0">IntegerOrder</text>
<path d="M821.9 705.2H877.3" stroke="#7E2F8E" stroke-width="1.3" stroke-opacity="0.8"/>
<text class="lg" x="883.1" y="711.2">order0.06</text>
<path d="M821.9 727.5H877.3" stroke="#77AC30" stroke-width="1.3" stroke-opacity="0.8"/>
<text class="lg" x="883.1" y="733.5">order0.26</text>
<path d="M821.9 749.8H877.3" stroke="#4DBEEE" stroke-width="1.3" stroke-opacity="0.8"/>
<text class="lg" x="883.1" y="755.8">order0.46</text>
<path d="M821.9 772.1H877.3" stroke="#A2142F" stroke-width="1.3" stroke-opacity="0.8"/>
<text class="lg" x="883.1" y="778.1">order0.66</text>
<path d="M821.9 794.4H877.3" stroke="#0072BD" stroke-width="1.3" stroke-opacity="0.8"/>
<text class="lg" x="883.1" y="800.4">order0.86</text>
<path d="M821.9 816.6H877.3" stroke="#D95319" stroke-width="1.3" stroke-opacity="0.8"/>
<text class="lg" x="883.1" y="822.6">order1</text>
<text class="pn" x="722.0" y="1159.7">f.</text>
</g>
<g id="plot5">
<clipPath id="cp5"><rect x="67.7" y="1198.6" width="609.8" height="481.4"/></clipPath>
<path class="grid" d="M136.2 1199.6V1679.0M203.8 1199.6V1679.0M271.3 1199.6V1679.0M338.8 1199.6V1679.0M406.4 1199.6V1679.0M473.9 1199.6V1679.0M541.4 1199.6V1679.0M609.0 1199.6V1679.0M68.7 1620.1H676.5M68.7 1560.0H676.5M68.7 1500.0H676.5M68.7 1439.9H676.5M68.7 1379.8H676.5M68.7 1319.8H676.5M68.7 1259.7H676.5"/>
<path class="ax" d="M68.7 1199.6H676.5V1679.0H68.7ZM136.2 1679.0v-6.0M136.2 1199.6v6.0M203.8 1679.0v-6.0M203.8 1199.6v6.0M271.3 1679.0v-6.0M271.3 1199.6v6.0M338.8 1679.0v-6.0M338.8 1199.6v6.0M406.4 1679.0v-6.0M406.4 1199.6v6.0M473.9 1679.0v-6.0M473.9 1199.6v6.0M541.4 1679.0v-6.0M541.4 1199.6v6.0M609.0 1679.0v-6.0M609.0 1199.6v6.0M68.7 1620.1h6.0M676.5 1620.1h-6.0M68.7 1560.0h6.0M676.5 1560.0h-6.0M68.7 1500.0h6.0M676.5 1500.0h-6.0M68.7 1439.9h6.0M676.5 1439.9h-6.0M68.7 1379.8h6.0M676.5 1379.8h-6.0M68.7 1319.8h6.0M676.5 1319.8h-6.0M68.7 1259.7h6.0M676.5 1259.7h-6.0"/>
<circle class="mk" cx="68.7" cy="1680.2" r="5.8"/>
<circle class="mk" cx="203.8" cy="1650.2" r="5.8"/>
<circle class="mk" cx="305.1" cy="1560.0" r="5.8"/>
<circle class="mk" cx="372.6" cy="1409.9" r="5.8"/>
<circle class="mk" cx="440.1" cy="1379.8" r="5.8"/>
<circle class="mk" cx="575.2" cy="1319.8" r="5.8"/>
<circle class="mk" cx="676.5" cy="1244.7" r="5.8"/>
<g clip-path="url(#cp5)">
<polyline class="cv" stroke="#D95319" points="68.7,1680.2 70.4,1678.5 72.1,1676.8 73.8,1675.2 75.5,1673.6 77.1,1672.2 78.8,1670.7 80.5,1669.4 82.2,1668.0 83.9,1666.8 85.6,1665.6 87.3,1664.4 89.0,1663.3 90.6,1662.3 92.3,1661.3 94.0,1660.3 95.7,1659.4 97.4,1658.6 99.1,1657.7 100.8,1657.0 102.5,1656.2 104.2,1655.6 105.8,1654.9 107.5,1654.3 109.2,1653.7 110.9,1653.2 112.6,1652.7 114.3,1652.3 116.0,1651.8 117.7,1651.4 119.3,1651.1 121.0,1650.8 122.7,1650.5 124.4,1650.2 126.1,1650.0 127.8,1649.7 129.5,1649.6 131.2,1649.4 132.9,1649.3 134.5,1649.1 136.2,1649.0 137.9,1649.0 139.6,1648.9 141.3,1648.9 143.0,1648.9 144.7,1648.8 146.4,1648.9 148.1,1648.9 149.7,1648.9 151.4,1649.0 153.1,1649.0 154.8,1649.1 156.5,1649.2 158.2,1649.2 159.9,1649.3 161.6,1649.4 163.2,1649.5 164.9,1649.6 166.6,1649.7 168.3,1649.8 170.0,1649.9 171.7,1650.0 173.4,1650.1 175.1,1650.2 176.8,1650.3 178.4,1650.4 180.1,1650.5 181.8,1650.5 183.5,1650.6 185.2,1650.6 186.9,1650.7 188.6,1650.7 190.3,1650.7 191.9,1650.7 193.6,1650.7 195.3,1650.6 197.0,1650.6 198.7,1650.5 200.4,1650.4 202.1,1650.3 203.8,1650.2 205.5,1650.0 207.1,1649.8 208.8,1649.6 210.5,1649.4 212.2,1649.1 213.9,1648.8 215.6,1648.5 217.3,1648.1 219.0,1647.7 220.6,1647.3 222.3,1646.9 224.0,1646.4 225.7,1645.9 227.4,1645.3 229.1,1644.7 230.8,1644.0 232.5,1643.4 234.2,1642.6 235.8,1641.9 237.5,1641.1 239.2,1640.2 240.9,1639.3 242.6,1638.4 244.3,1637.4 246.0,1636.3 247.7,1635.2 249.4,1634.1 251.0,1632.9 252.7,1631.6 254.4,1630.3 256.1,1628.9 257.8,1627.5 259.5,1626.0 261.2,1624.5 262.9,1622.9 264.5,1621.2 266.2,1619.5 267.9,1617.7 269.6,1615.8 271.3,1613.9 273.0,1611.9 274.7,1609.9 276.4,1607.8 278.1,1605.6 279.7,1603.3 281.4,1601.0 283.1,1598.6 284.8,1596.1 286.5,1593.5 288.2,1590.9 289.9,1588.2 291.6,1585.4 293.2,1582.5 294.9,1579.5 296.6,1576.5 298.3,1573.4 300.0,1570.2 301.7,1566.9 303.4,1563.5 305.1,1560.0 306.8,1556.5 308.4,1552.9 310.1,1549.2 311.8,1545.4 313.5,1541.5 315.2,1537.6 316.9,1533.7 318.6,1529.6 320.3,1525.6 321.9,1521.5 323.6,1517.4 325.3,1513.2 327.0,1509.1 328.7,1504.9 330.4,1500.7 332.1,1496.5 333.8,1492.3 335.5,1488.1 337.1,1484.0 338.8,1479.8 340.5,1475.7 342.2,1471.6 343.9,1467.5 345.6,1463.5 347.3,1459.6 349.0,1455.7 350.7,1451.8 352.3,1448.0 354.0,1444.3 355.7,1440.7 357.4,1437.1 359.1,1433.7 360.8,1430.3 362.5,1427.0 364.2,1423.9 365.8,1420.8 367.5,1417.9 369.2,1415.1 370.9,1412.4 372.6,1409.9 374.3,1407.5 376.0,1405.2 377.7,1403.0 379.4,1401.0 381.0,1399.1 382.7,1397.4 384.4,1395.7 386.1,1394.2 387.8,1392.8 389.5,1391.4 391.2,1390.2 392.9,1389.1 394.5,1388.0 396.2,1387.1 397.9,1386.2 399.6,1385.4 401.3,1384.7 403.0,1384.1 404.7,1383.5 406.4,1383.0 408.1,1382.5 409.7,1382.1 411.4,1381.8 413.1,1381.5 414.8,1381.2 416.5,1381.0 418.2,1380.8 419.9,1380.7 421.6,1380.5 423.2,1380.4 424.9,1380.4 426.6,1380.3 428.3,1380.2 430.0,1380.2 431.7,1380.2 433.4,1380.1 435.1,1380.1 436.8,1380.0 438.4,1379.9 440.1,1379.8 441.8,1379.7 443.5,1379.6 445.2,1379.4 446.9,1379.2 448.6,1379.1 450.3,1378.8 452.0,1378.6 453.6,1378.3 455.3,1378.1 457.0,1377.8 458.7,1377.5 460.4,1377.1 462.1,1376.8 463.8,1376.4 465.5,1376.0 467.1,1375.6 468.8,1375.2 470.5,1374.7 472.2,1374.2 473.9,1373.8 475.6,1373.3 477.3,1372.7 479.0,1372.2 480.7,1371.7 482.3,1371.1 484.0,1370.5 485.7,1369.9 487.4,1369.3 489.1,1368.7 490.8,1368.0 492.5,1367.3 494.2,1366.7 495.8,1366.0 497.5,1365.3 499.2,1364.5 500.9,1363.8 502.6,1363.0 504.3,1362.3 506.0,1361.5 507.7,1360.7 509.4,1359.9 511.0,1359.1 512.7,1358.2 514.4,1357.4 516.1,1356.5 517.8,1355.6 519.5,1354.7 521.2,1353.9 522.9,1352.9 524.5,1352.0 526.2,1351.1 527.9,1350.1 529.6,1349.2 531.3,1348.2 533.0,1347.2 534.7,1346.2 536.4,1345.2 538.1,1344.2 539.7,1343.2 541.4,1342.2 543.1,1341.1 544.8,1340.1 546.5,1339.0 548.2,1337.9 549.9,1336.9 551.6,1335.8 553.3,1334.7 554.9,1333.6 556.6,1332.5 558.3,1331.3 560.0,1330.2 561.7,1329.1 563.4,1327.9 565.1,1326.8 566.8,1325.6 568.4,1324.5 570.1,1323.3 571.8,1322.1 573.5,1320.9 575.2,1319.8 576.9,1318.6 578.6,1317.4 580.3,1316.1 582.0,1314.9 583.6,1313.7 585.3,1312.5 587.0,1311.3 588.7,1310.0 590.4,1308.8 592.1,1307.6 593.8,1306.3 595.5,1305.1 597.1,1303.8 598.8,1302.6 600.5,1301.3 602.2,1300.1 603.9,1298.8 605.6,1297.5 607.3,1296.3 609.0,1295.0 610.7,1293.7 612.3,1292.4 614.0,1291.2 615.7,1289.9 617.4,1288.6 619.1,1287.3 620.8,1286.1 622.5,1284.8 624.2,1283.5 625.9,1282.2 627.5,1280.9 629.2,1279.7 630.9,1278.4 632.6,1277.1 634.3,1275.8 636.0,1274.5 637.7,1273.3 639.4,1272.0 641.0,1270.7 642.7,1269.4 644.4,1268.2 646.1,1266.9 647.8,1265.6 649.5,1264.4 651.2,1263.1 652.9,1261.9 654.6,1260.6 656.2,1259.3 657.9,1258.1 659.6,1256.9 661.3,1255.6 663.0,1254.4 664.7,1253.1 666.4,1251.9 668.1,1250.7 669.7,1249.5 671.4,1248.3 673.1,1247.1 674.8,1245.9 676.5,1244.7"/>
<polyline class="cv" stroke="#7E2F8E" points="68.7,1680.2 72.1,1665.0 75.5,1663.1 78.8,1661.8 82.2,1660.9 85.6,1660.2 89.0,1659.5 92.3,1659.0 95.7,1658.5 99.1,1658.0 102.5,1657.6 105.8,1657.3 109.2,1656.9 112.6,1656.6 116.0,1656.3 119.3,1656.0 122.7,1655.7 126.1,1655.5 129.5,1655.2 132.9,1655.0 136.2,1654.8 139.6,1654.5 143.0,1654.3 146.4,1654.1 149.7,1653.9 153.1,1653.8 156.5,1653.6 159.9,1653.4 163.2,1653.2 166.6,1653.1 170.0,1652.9 173.4,1652.8 176.8,1652.6 180.1,1652.5 183.5,1652.3 186.9,1652.2 190.3,1652.0 193.6,1651.9 197.0,1651.8 200.4,1651.6 203.8,1651.5 207.1,1651.4 210.5,1651.3 213.9,1651.1 217.3,1651.0 220.6,1650.9 224.0,1650.8 227.4,1650.7 230.8,1650.6 234.2,1650.5 237.5,1650.4 240.9,1650.3 244.3,1650.2 247.7,1650.1 251.0,1650.0 254.4,1649.9 257.8,1649.8 261.2,1649.7 264.5,1649.6 267.9,1649.5 271.3,1649.4 274.7,1649.3 278.1,1649.2 281.4,1649.1 284.8,1649.1 288.2,1649.0 291.6,1648.9 294.9,1648.8 298.3,1648.7 301.7,1648.6 305.1,1648.6 308.4,1648.5 311.8,1648.4 315.2,1648.3 318.6,1648.3 321.9,1648.2 325.3,1648.1 328.7,1648.0 332.1,1648.0 335.5,1647.9 338.8,1647.8 342.2,1647.7 345.6,1647.7 349.0,1647.6 352.3,1647.5 355.7,1647.5 359.1,1647.4 362.5,1647.3 365.8,1647.3 369.2,1647.2 372.6,1647.1 376.0,1647.1 379.4,1647.0 382.7,1646.9 386.1,1646.9 389.5,1646.8 392.9,1646.8 396.2,1646.7 399.6,1646.6 403.0,1646.6 406.4,1646.5 409.7,1646.5 413.1,1646.4 416.5,1646.3 419.9,1646.3 423.2,1646.2 426.6,1646.2 430.0,1646.1 433.4,1646.1 436.8,1646.0 440.1,1645.9 443.5,1645.9 446.9,1645.8 450.3,1645.8 453.6,1645.7 457.0,1645.7 460.4,1645.6 463.8,1645.6 467.1,1645.5 470.5,1645.5 473.9,1645.4 477.3,1645.4 480.7,1645.3 484.0,1645.3 487.4,1645.2 490.8,1645.2 494.2,1645.1 497.5,1645.1 500.9,1645.0 504.3,1645.0 507.7,1644.9 511.0,1644.9 514.4,1644.8 517.8,1644.8 521.2,1644.7 524.5,1644.7 527.9,1644.6 531.3,1644.6 534.7,1644.5 538.1,1644.5 541.4,1644.4 544.8,1644.4 548.2,1644.4 551.6,1644.3 554.9,1644.3 558.3,1644.2 561.7,1644.2 565.1,1644.1 568.4,1644.1 571.8,1644.0 575.2,1644.0 578.6,1644.0 582.0,1643.9 585.3,1643.9 588.7,1643.8 592.1,1643.8 595.5,1643.7 598.8,1643.7 602.2,1643.7 605.6,1643.6 609.0,1643.6 612.3,1643.5 615.7,1643.5 619.1,1643.5 622.5,1643.4 625.9,1643.4 629.2,1643.3 632.6,1643.3 636.0,1643.3 639.4,1643.2 642.7,1643.2 646.1,1643.1 649.5,1643.1 652.9,1643.1 656.2,1643.0 659.6,1643.0 663.0,1643.0 666.4,1642.9 669.7,1642.9 673.1,1642.8 676.5,1642.8"/>
<polyline class="cv" stroke="#77AC30" points="68.7,1680.2 72.1,1670.0 75.5,1667.0 78.8,1664.8 82.2,1663.1 85.6,1661.6 89.0,1660.2 92.3,1659.0 95.7,1657.9 99.1,1656.9 102.5,1655.9 105.8,1655.0 109.2,1654.2 112.6,1653.3 116.0,1652.6 119.3,1651.8 122.7,1651.1 126.1,1650.4 129.5,1649.7 132.9,1649.1 136.2,1648.4 139.6,1647.8 143.0,1647.2 146.4,1646.6 149.7,1646.1 153.1,1645.5 156.5,1645.0 159.9,1644.5 163.2,1643.9 166.6,1643.4 170.0,1642.9 173.4,1642.4 176.8,1642.0 180.1,1641.5 183.5,1641.0 186.9,1640.6 190.3,1640.1 193.6,1639.7 197.0,1639.3 200.4,1638.8 203.8,1638.4 207.1,1638.0 210.5,1637.6 213.9,1637.2 217.3,1636.8 220.6,1636.4 224.0,1636.0 227.4,1635.6 230.8,1635.2 234.2,1634.9 237.5,1634.5 240.9,1634.1 244.3,1633.7 247.7,1633.4 251.0,1633.0 254.4,1632.7 257.8,1632.3 261.2,1632.0 264.5,1631.6 267.9,1631.3 271.3,1631.0 274.7,1630.6 278.1,1630.3 281.4,1630.0 284.8,1629.7 288.2,1629.3 291.6,1629.0 294.9,1628.7 298.3,1628.4 301.7,1628.1 305.1,1627.8 308.4,1627.5 311.8,1627.2 315.2,1626.9 318.6,1626.6 321.9,1626.3 325.3,1626.0 328.7,1625.7 332.1,1625.4 335.5,1625.1 338.8,1624.8 342.2,1624.5 345.6,1624.2 349.0,1623.9 352.3,1623.7 355.7,1623.4 359.1,1623.1 362.5,1622.8 365.8,1622.6 369.2,1622.3 372.6,1622.0 376.0,1621.8 379.4,1621.5 382.7,1621.2 386.1,1621.0 389.5,1620.7 392.9,1620.4 396.2,1620.2 399.6,1619.9 403.0,1619.7 406.4,1619.4 409.7,1619.2 413.1,1618.9 416.5,1618.7 419.9,1618.4 423.2,1618.2 426.6,1617.9 430.0,1617.7 433.4,1617.4 436.8,1617.2 440.1,1616.9 443.5,1616.7 446.9,1616.5 450.3,1616.2 453.6,1616.0 457.0,1615.8 460.4,1615.5 463.8,1615.3 467.1,1615.0 470.5,1614.8 473.9,1614.6 477.3,1614.4 480.7,1614.1 484.0,1613.9 487.4,1613.7 490.8,1613.4 494.2,1613.2 497.5,1613.0 500.9,1612.8 504.3,1612.5 507.7,1612.3 511.0,1612.1 514.4,1611.9 517.8,1611.7 521.2,1611.5 524.5,1611.2 527.9,1611.0 531.3,1610.8 534.7,1610.6 538.1,1610.4 541.4,1610.2 544.8,1609.9 548.2,1609.7 551.6,1609.5 554.9,1609.3 558.3,1609.1 561.7,1608.9 565.1,1608.7 568.4,1608.5 571.8,1608.3 575.2,1608.1 578.6,1607.9 582.0,1607.7 585.3,1607.5 588.7,1607.3 592.1,1607.1 595.5,1606.8 598.8,1606.6 602.2,1606.4 605.6,1606.2 609.0,1606.0 612.3,1605.9 615.7,1605.7 619.1,1605.5 622.5,1605.3 625.9,1605.1 629.2,1604.9 632.6,1604.7 636.0,1604.5 639.4,1604.3 642.7,1604.1 646.1,1603.9 649.5,1603.7 652.9,1603.5 656.2,1603.3 659.6,1603.1 663.0,1602.9 666.4,1602.8 669.7,1602.6 673.1,1602.4 676.5,1602.2"/>
<polyline class="cv" stroke="#4DBEEE" points="68.7,1680.2 72.1,1673.7 75.5,1670.6 78.8,1668.0 82.2,1665.8 85.6,1663.9 89.0,1662.0 92.3,1660.3 95.7,1658.7 99.1,1657.1 102.5,1655.7 105.8,1654.2 109.2,1652.8 112.6,1651.5 116.0,1650.2 119.3,1648.9 122.7,1647.7 126.1,1646.5 129.5,1645.3 132.9,1644.1 136.2,1643.0 139.6,1641.9 143.0,1640.8 146.4,1639.7 149.7,1638.6 153.1,1637.5 156.5,1636.5 159.9,1635.5 163.2,1634.5 166.6,1633.4 170.0,1632.4 173.4,1631.5 176.8,1630.5 180.1,1629.5 183.5,1628.6 186.9,1627.6 190.3,1626.7 193.6,1625.8 197.0,1624.8 200.4,1623.9 203.8,1623.0 207.1,1622.1 210.5,1621.2 213.9,1620.3 217.3,1619.4 220.6,1618.6 224.0,1617.7 227.4,1616.8 230.8,1616.0 234.2,1615.1 237.5,1614.3 240.9,1613.4 244.3,1612.6 247.7,1611.8 251.0,1610.9 254.4,1610.1 257.8,1609.3 261.2,1608.5 264.5,1607.6 267.9,1606.8 271.3,1606.0 274.7,1605.2 278.1,1604.4 281.4,1603.6 284.8,1602.8 288.2,1602.0 291.6,1601.3 294.9,1600.5 298.3,1599.7 301.7,1598.9 305.1,1598.1 308.4,1597.4 311.8,1596.6 315.2,1595.8 318.6,1595.1 321.9,1594.3 325.3,1593.6 328.7,1592.8 332.1,1592.0 335.5,1591.3 338.8,1590.5 342.2,1589.8 345.6,1589.1 349.0,1588.3 352.3,1587.6 355.7,1586.8 359.1,1586.1 362.5,1585.4 365.8,1584.6 369.2,1583.9 372.6,1583.2 376.0,1582.4 379.4,1581.7 382.7,1581.0 386.1,1580.3 389.5,1579.6 392.9,1578.8 396.2,1578.1 399.6,1577.4 403.0,1576.7 406.4,1576.0 409.7,1575.3 413.1,1574.6 416.5,1573.9 419.9,1573.2 423.2,1572.5 426.6,1571.8 430.0,1571.1 433.4,1570.4 436.8,1569.7 440.1,1569.0 443.5,1568.3 446.9,1567.6 450.3,1566.9 453.6,1566.2 457.0,1565.5 460.4,1564.8 463.8,1564.2 467.1,1563.5 470.5,1562.8 473.9,1562.1 477.3,1561.4 480.7,1560.7 484.0,1560.1 487.4,1559.4 490.8,1558.7 494.2,1558.0 497.5,1557.4 500.9,1556.7 504.3,1556.0 507.7,1555.4 511.0,1554.7 514.4,1554.0 517.8,1553.4 521.2,1552.7 524.5,1552.0 527.9,1551.4 531.3,1550.7 534.7,1550.0 538.1,1549.4 541.4,1548.7 544.8,1548.1 548.2,1547.4 551.6,1546.7 554.9,1546.1 558.3,1545.4 561.7,1544.8 565.1,1544.1 568.4,1543.5 571.8,1542.8 575.2,1542.2 578.6,1541.5 582.0,1540.9 585.3,1540.2 588.7,1539.6 592.1,1538.9 595.5,1538.3 598.8,1537.6 602.2,1537.0 605.6,1536.4 609.0,1535.7 612.3,1535.1 615.7,1534.4 619.1,1533.8 622.5,1533.2 625.9,1532.5 629.2,1531.9 632.6,1531.3 636.0,1530.6 639.4,1530.0 642.7,1529.3 646.1,1528.7 649.5,1528.1 652.9,1527.5 656.2,1526.8 659.6,1526.2 663.0,1525.6 666.4,1524.9 669.7,1524.3 673.1,1523.7 676.5,1523.1"/>
<polyline class="cv" stroke="#A2142F" points="68.7,1680.2 72.1,1676.3 75.5,1673.6 78.8,1671.2 82.2,1669.0 85.6,1666.9 89.0,1664.8 92.3,1662.8 95.7,1660.9 99.1,1659.0 102.5,1657.2 105.8,1655.4 109.2,1653.6 112.6,1651.8 116.0,1650.1 119.3,1648.4 122.7,1646.7 126.1,1645.0 129.5,1643.3 132.9,1641.6 136.2,1640.0 139.6,1638.3 143.0,1636.7 146.4,1635.1 149.7,1633.4 153.1,1631.8 156.5,1630.2 159.9,1628.6 163.2,1627.0 166.6,1625.4 170.0,1623.9 173.4,1622.3 176.8,1620.7 180.1,1619.1 183.5,1617.6 186.9,1616.0 190.3,1614.4 193.6,1612.9 197.0,1611.3 200.4,1609.7 203.8,1608.2 207.1,1606.6 210.5,1605.1 213.9,1603.5 217.3,1602.0 220.6,1600.4 224.0,1598.9 227.4,1597.3 230.8,1595.8 234.2,1594.2 237.5,1592.7 240.9,1591.1 244.3,1589.6 247.7,1588.0 251.0,1586.5 254.4,1584.9 257.8,1583.4 261.2,1581.8 264.5,1580.3 267.9,1578.7 271.3,1577.2 274.7,1575.6 278.1,1574.1 281.4,1572.5 284.8,1571.0 288.2,1569.4 291.6,1567.9 294.9,1566.3 298.3,1564.8 301.7,1563.2 305.1,1561.7 308.4,1560.1 311.8,1558.5 315.2,1557.0 318.6,1555.4 321.9,1553.9 325.3,1552.3 328.7,1550.7 332.1,1549.2 335.5,1547.6 338.8,1546.1 342.2,1544.5 345.6,1542.9 349.0,1541.4 352.3,1539.8 355.7,1538.2 359.1,1536.6 362.5,1535.1 365.8,1533.5 369.2,1531.9 372.6,1530.3 376.0,1528.8 379.4,1527.2 382.7,1525.6 386.1,1524.0 389.5,1522.5 392.9,1520.9 396.2,1519.3 399.6,1517.7 403.0,1516.1 406.4,1514.5 409.7,1513.0 413.1,1511.4 416.5,1509.8 419.9,1508.2 423.2,1506.6 426.6,1505.0 430.0,1503.4 433.4,1501.9 436.8,1500.3 440.1,1498.7 443.5,1497.1 446.9,1495.5 450.3,1493.9 453.6,1492.3 457.0,1490.7 460.4,1489.1 463.8,1487.5 467.1,1485.9 470.5,1484.3 473.9,1482.8 477.3,1481.2 480.7,1479.6 484.0,1478.0 487.4,1476.4 490.8,1474.8 494.2,1473.2 497.5,1471.6 500.9,1470.0 504.3,1468.4 507.7,1466.8 511.0,1465.2 514.4,1463.7 517.8,1462.1 521.2,1460.5 524.5,1458.9 527.9,1457.3 531.3,1455.7 534.7,1454.1 538.1,1452.6 541.4,1451.0 544.8,1449.4 548.2,1447.8 551.6,1446.2 554.9,1444.7 558.3,1443.1 561.7,1441.5 565.1,1440.0 568.4,1438.4 571.8,1436.8 575.2,1435.3 578.6,1433.7 582.0,1432.1 585.3,1430.6 588.7,1429.0 592.1,1427.5 595.5,1425.9 598.8,1424.4 602.2,1422.8 605.6,1421.3 609.0,1419.7 612.3,1418.2 615.7,1416.7 619.1,1415.1 622.5,1413.6 625.9,1412.1 629.2,1410.6 632.6,1409.0 636.0,1407.5 639.4,1406.0 642.7,1404.5 646.1,1403.0 649.5,1401.5 652.9,1400.0 656.2,1398.5 659.6,1397.0 663.0,1395.6 666.4,1394.1 669.7,1392.6 673.1,1391.1 676.5,1389.7"/>
<polyline class="cv" stroke="#0072BD" points="68.7,1680.2 72.1,1677.9 75.5,1675.8 78.8,1673.6 82.2,1671.5 85.6,1669.4 89.0,1667.3 92.3,1665.1 95.7,1663.0 99.1,1660.9 102.5,1658.8 105.8,1656.6 109.2,1654.5 112.6,1652.4 116.0,1650.2 119.3,1648.1 122.7,1645.9 126.1,1643.7 129.5,1641.5 132.9,1639.3 136.2,1637.1 139.6,1634.9 143.0,1632.7 146.4,1630.4 149.7,1628.2 153.1,1625.9 156.5,1623.7 159.9,1621.4 163.2,1619.1 166.6,1616.8 170.0,1614.5 173.4,1612.2 176.8,1609.9 180.1,1607.5 183.5,1605.2 186.9,1602.8 190.3,1600.4 193.6,1598.0 197.0,1595.6 200.4,1593.2 203.8,1590.8 207.1,1588.4 210.5,1585.9 213.9,1583.5 217.3,1581.0 220.6,1578.5 224.0,1576.0 227.4,1573.5 230.8,1571.0 234.2,1568.5 237.5,1565.9 240.9,1563.4 244.3,1560.8 247.7,1558.2 251.0,1555.6 254.4,1553.0 257.8,1550.4 261.2,1547.8 264.5,1545.2 267.9,1542.5 271.3,1539.9 274.7,1537.2 278.1,1534.5 281.4,1531.8 284.8,1529.1 288.2,1526.4 291.6,1523.7 294.9,1520.9 298.3,1518.2 301.7,1515.4 305.1,1512.7 308.4,1509.9 311.8,1507.1 315.2,1504.3 318.6,1501.5 321.9,1498.7 325.3,1495.9 328.7,1493.0 332.1,1490.2 335.5,1487.3 338.8,1484.5 342.2,1481.6 345.6,1478.7 349.0,1475.8 352.3,1472.9 355.7,1470.0 359.1,1467.1 362.5,1464.2 365.8,1461.3 369.2,1458.4 372.6,1455.4 376.0,1452.5 379.4,1449.6 382.7,1446.6 386.1,1443.7 389.5,1440.7 392.9,1437.8 396.2,1434.8 399.6,1431.9 403.0,1428.9 406.4,1426.0 409.7,1423.0 413.1,1420.0 416.5,1417.1 419.9,1414.1 423.2,1411.2 426.6,1408.2 430.0,1405.3 433.4,1402.3 436.8,1399.4 440.1,1396.4 443.5,1393.5 446.9,1390.6 450.3,1387.7 453.6,1384.8 457.0,1381.9 460.4,1379.0 463.8,1376.1 467.1,1373.2 470.5,1370.4 473.9,1367.5 477.3,1364.7 480.7,1361.9 484.0,1359.1 487.4,1356.3 490.8,1353.5 494.2,1350.8 497.5,1348.0 500.9,1345.3 504.3,1342.6 507.7,1339.9 511.0,1337.3 514.4,1334.6 517.8,1332.0 521.2,1329.4 524.5,1326.9 527.9,1324.3 531.3,1321.8 534.7,1319.3 538.1,1316.8 541.4,1314.4 544.8,1312.0 548.2,1309.6 551.6,1307.2 554.9,1304.9 558.3,1302.6 561.7,1300.3 565.1,1298.1 568.4,1295.9 571.8,1293.7 575.2,1291.5 578.6,1289.4 582.0,1287.3 585.3,1285.3 588.7,1283.2 592.1,1281.2 595.5,1279.3 598.8,1277.4 602.2,1275.5 605.6,1273.6 609.0,1271.8 612.3,1270.0 615.7,1268.2 619.1,1266.5 622.5,1264.8 625.9,1263.1 629.2,1261.5 632.6,1259.9 636.0,1258.4 639.4,1256.8 642.7,1255.3 646.1,1253.9 649.5,1252.4 652.9,1251.0 656.2,1249.6 659.6,1248.3 663.0,1247.0 666.4,1245.7 669.7,1244.5 673.1,1243.2 676.5,1242.0"/>
<polyline class="cv" stroke="#D95319" points="68.7,1680.2 72.1,1678.2 75.5,1676.1 78.8,1674.0 82.2,1672.0 85.6,1669.9 89.0,1667.7 92.3,1665.6 95.7,1663.5 99.1,1661.3 102.5,1659.2 105.8,1657.0 109.2,1654.8 112.6,1652.6 116.0,1650.4 119.3,1648.1 122.7,1645.9 126.1,1643.6 129.5,1641.3 132.9,1639.0 136.2,1636.7 139.6,1634.4 143.0,1632.1 146.4,1629.7 149.7,1627.3 153.1,1624.9 156.5,1622.5 159.9,1620.1 163.2,1617.7 166.6,1615.2 170.0,1612.8 173.4,1610.3 176.8,1607.8 180.1,1605.3 183.5,1602.8 186.9,1600.2 190.3,1597.7 193.6,1595.1 197.0,1592.5 200.4,1589.9 203.8,1587.3 207.1,1584.7 210.5,1582.0 213.9,1579.4 217.3,1576.7 220.6,1574.0 224.0,1571.3 227.4,1568.6 230.8,1565.8 234.2,1563.1 237.5,1560.3 240.9,1557.5 244.3,1554.7 247.7,1551.9 251.0,1549.0 254.4,1546.2 257.8,1543.3 261.2,1540.4 264.5,1537.5 267.9,1534.6 271.3,1531.7 274.7,1528.8 278.1,1525.8 281.4,1522.8 284.8,1519.9 288.2,1516.9 291.6,1513.8 294.9,1510.8 298.3,1507.8 301.7,1504.7 305.1,1501.7 308.4,1498.6 311.8,1495.5 315.2,1492.4 318.6,1489.3 321.9,1486.1 325.3,1483.0 328.7,1479.8 332.1,1476.7 335.5,1473.5 338.8,1470.3 342.2,1467.1 345.6,1463.9 349.0,1460.7 352.3,1457.5 355.7,1454.3 359.1,1451.0 362.5,1447.8 365.8,1444.5 369.2,1441.3 372.6,1438.0 376.0,1434.8 379.4,1431.5 382.7,1428.2 386.1,1424.9 389.5,1421.6 392.9,1418.4 396.2,1415.1 399.6,1411.8 403.0,1408.5 406.4,1405.2 409.7,1401.9 413.1,1398.7 416.5,1395.4 419.9,1392.1 423.2,1388.8 426.6,1385.6 430.0,1382.3 433.4,1379.1 436.8,1375.8 440.1,1372.6 443.5,1369.4 446.9,1366.2 450.3,1363.0 453.6,1359.8 457.0,1356.6 460.4,1353.5 463.8,1350.3 467.1,1347.2 470.5,1344.1 473.9,1341.0 477.3,1338.0 480.7,1334.9 484.0,1331.9 487.4,1328.9 490.8,1326.0 494.2,1323.0 497.5,1320.1 500.9,1317.2 504.3,1314.3 507.7,1311.5 511.0,1308.7 514.4,1305.9 517.8,1303.2 521.2,1300.5 524.5,1297.8 527.9,1295.1 531.3,1292.5 534.7,1290.0 538.1,1287.4 541.4,1284.9 544.8,1282.4 548.2,1280.0 551.6,1277.6 554.9,1275.3 558.3,1273.0 561.7,1270.7 565.1,1268.4 568.4,1266.2 571.8,1264.1 575.2,1262.0 578.6,1259.9 582.0,1257.9 585.3,1255.9 588.7,1253.9 592.1,1252.0 595.5,1250.1 598.8,1248.3 602.2,1246.5 605.6,1244.7 609.0,1243.0 612.3,1241.4 615.7,1239.7 619.1,1238.1 622.5,1236.6 625.9,1235.1 629.2,1233.6 632.6,1232.1 636.0,1230.7 639.4,1229.4 642.7,1228.0 646.1,1226.7 649.5,1225.5 652.9,1224.2 656.2,1223.0 659.6,1221.9 663.0,1220.8 666.4,1219.7 669.7,1218.6 673.1,1217.6 676.5,1216.6"/>
</g>
<text class="tk" x="68.7" y="1706.6" text-anchor="middle">0</text>
<text class="tk" x="136.2" y="1706.6" text-anchor="middle">2</text>
<text class="tk" x="203.8" y="1706.6" text-anchor="middle">4</text>
<text class="tk" x="271.3" y="1706.6" text-anchor="middle">6</text>
<text class="tk" x="338.8" y="1706.6" text-anchor="middle">8</text>
<text class="tk" x="406.4" y="1706.6" text-anchor="middle">10</text>
<text class="tk" x="473.9" y="1706.6" text-anchor="middle">12</text>
<text class="tk" x="541.4" y="1706.6" text-anchor="middle">14</text>
<text class="tk" x="609.0" y="1706.6" text-anchor="middle">16</text>
<text class="tk" x="676.5" y="1706.6" text-anchor="middle">18</text>
<text class="tk" x="61.1" y="1687.4" text-anchor="end">1</text>
<text class="tk" x="61.1" y="1627.3" text-anchor="end">1.2</text>
<text class="tk" x="61.1" y="1567.2" text-anchor="end">1.4</text>
<text class="tk" x="61.1" y="1507.2" text-anchor="end">1.6</text>
<text class="tk" x="61.1" y="1447.1" text-anchor="end">1.8</text>
<text class="tk" x="61.1" y="1387.0" text-anchor="end">2</text>
<text class="tk" x="61.1" y="1327.0" text-anchor="end">2.2</text>
<text class="tk" x="61.1" y="1266.9" text-anchor="end">2.4</text>
<text class="tk" x="61.1" y="1206.8" text-anchor="end">2.6</text>
<text class="lb" x="372.6" y="1735.0" text-anchor="middle">time[days]</text>
<text class="lb" transform="translate(23.2 1440.5) rotate(-90)" text-anchor="middle">volume [mm<tspan dx="0.8" dy="-9" font-size="17">3</tspan><tspan dx="0.6" dy="9">]</tspan></text>
<rect x="90.4" y="1217.8" width="198.5" height="204.6" fill="#fff" stroke="#484848" stroke-width="1.4"/>
<circle class="mk" cx="123.9" cy="1231.1" r="5.8"/>
<text class="lg" x="157.4" y="1237.1">DiscreteMeasure</text>
<path d="M96.2 1253.4H151.6" stroke="#D95319" stroke-width="1.3" stroke-opacity="0.8"/>
<text class="lg" x="157.4" y="1259.4">InterpolatedData</text>
<path d="M96.2 1275.7H151.6" stroke="#EDB120" stroke-width="1.3" stroke-opacity="0.8"/>
<text class="lg" x="157.4" y="1281.7">IntegerOrder</text>
<path d="M96.2 1297.9H151.6" stroke="#7E2F8E" stroke-width="1.3" stroke-opacity="0.8"/>
<text class="lg" x="157.4" y="1303.9">order0.16</text>
<path d="M96.2 1320.2H151.6" stroke="#77AC30" stroke-width="1.3" stroke-opacity="0.8"/>
<text class="lg" x="157.4" y="1326.2">order0.36</text>
<path d="M96.2 1342.5H151.6" stroke="#4DBEEE" stroke-width="1.3" stroke-opacity="0.8"/>
<text class="lg" x="157.4" y="1348.5">order0.56</text>
<path d="M96.2 1364.8H151.6" stroke="#A2142F" stroke-width="1.3" stroke-opacity="0.8"/>
<text class="lg" x="157.4" y="1370.8">order0.76</text>
<path d="M96.2 1387.1H151.6" stroke="#0072BD" stroke-width="1.3" stroke-opacity="0.8"/>
<text class="lg" x="157.4" y="1393.1">order0.96</text>
<path d="M96.2 1409.3H151.6" stroke="#D95319" stroke-width="1.3" stroke-opacity="0.8"/>
<text class="lg" x="157.4" y="1415.3">order1</text>
</g>
<g id="plot6">
<clipPath id="cp6"><rect x="794.2" y="1198.6" width="609.7" height="481.4"/></clipPath>
<path class="grid" d="M862.7 1199.6V1679.0M930.2 1199.6V1679.0M997.8 1199.6V1679.0M1065.3 1199.6V1679.0M1132.8 1199.6V1679.0M1200.3 1199.6V1679.0M1267.9 1199.6V1679.0M1335.4 1199.6V1679.0M795.2 1584.1H1402.9M795.2 1488.0H1402.9M795.2 1391.8H1402.9M795.2 1295.7H1402.9"/>
<path class="ax" d="M795.2 1199.6H1402.9V1679.0H795.2ZM862.7 1679.0v-6.0M862.7 1199.6v6.0M930.2 1679.0v-6.0M930.2 1199.6v6.0M997.8 1679.0v-6.0M997.8 1199.6v6.0M1065.3 1679.0v-6.0M1065.3 1199.6v6.0M1132.8 1679.0v-6.0M1132.8 1199.6v6.0M1200.3 1679.0v-6.0M1200.3 1199.6v6.0M1267.9 1679.0v-6.0M1267.9 1199.6v6.0M1335.4 1679.0v-6.0M1335.4 1199.6v6.0M795.2 1584.1h6.0M1402.9 1584.1h-6.0M795.2 1488.0h6.0M1402.9 1488.0h-6.0M795.2 1391.8h6.0M1402.9 1391.8h-6.0M795.2 1295.7h6.0M1402.9 1295.7h-6.0"/>
<circle class="mk" cx="795.2" cy="1680.2" r="5.8"/>
<circle class="mk" cx="930.2" cy="1584.1" r="5.8"/>
<circle class="mk" cx="1031.5" cy="1545.6" r="5.8"/>
<circle class="mk" cx="1099.1" cy="1488.0" r="5.8"/>
<circle class="mk" cx="1166.6" cy="1334.2" r="5.8"/>
<circle class="mk" cx="1301.6" cy="1305.3" r="5.8"/>
<circle class="mk" cx="1402.9" cy="1266.9" r="5.8"/>
<g clip-path="url(#cp6)">
<polyline class="cv" stroke="#D95319" points="795.2,1680.2 796.9,1678.4 798.6,1676.6 800.3,1674.8 802.0,1673.1 803.6,1671.3 805.3,1669.6 807.0,1667.9 808.7,1666.3 810.4,1664.6 812.1,1663.0 813.8,1661.3 815.5,1659.7 817.1,1658.1 818.8,1656.6 820.5,1655.0 822.2,1653.5 823.9,1652.0 825.6,1650.5 827.3,1649.0 829.0,1647.5 830.6,1646.1 832.3,1644.6 834.0,1643.2 835.7,1641.8 837.4,1640.4 839.1,1639.1 840.8,1637.7 842.5,1636.4 844.2,1635.1 845.8,1633.8 847.5,1632.5 849.2,1631.2 850.9,1629.9 852.6,1628.7 854.3,1627.4 856.0,1626.2 857.7,1625.0 859.3,1623.8 861.0,1622.6 862.7,1621.5 864.4,1620.3 866.1,1619.2 867.8,1618.1 869.5,1616.9 871.2,1615.8 872.9,1614.7 874.5,1613.7 876.2,1612.6 877.9,1611.6 879.6,1610.5 881.3,1609.5 883.0,1608.5 884.7,1607.5 886.4,1606.5 888.0,1605.5 889.7,1604.5 891.4,1603.6 893.1,1602.6 894.8,1601.7 896.5,1600.7 898.2,1599.8 899.9,1598.9 901.5,1598.0 903.2,1597.1 904.9,1596.2 906.6,1595.4 908.3,1594.5 910.0,1593.7 911.7,1592.8 913.4,1592.0 915.1,1591.2 916.7,1590.3 918.4,1589.5 920.1,1588.7 921.8,1587.9 923.5,1587.2 925.2,1586.4 926.9,1585.6 928.6,1584.8 930.2,1584.1 931.9,1583.3 933.6,1582.6 935.3,1581.9 937.0,1581.1 938.7,1580.4 940.4,1579.7 942.1,1579.0 943.7,1578.3 945.4,1577.6 947.1,1576.9 948.8,1576.2 950.5,1575.5 952.2,1574.8 953.9,1574.1 955.6,1573.5 957.3,1572.8 958.9,1572.1 960.6,1571.5 962.3,1570.8 964.0,1570.2 965.7,1569.5 967.4,1568.9 969.1,1568.3 970.8,1567.6 972.4,1567.0 974.1,1566.4 975.8,1565.8 977.5,1565.1 979.2,1564.5 980.9,1563.9 982.6,1563.3 984.3,1562.7 986.0,1562.0 987.6,1561.4 989.3,1560.8 991.0,1560.2 992.7,1559.6 994.4,1559.0 996.1,1558.4 997.8,1557.8 999.5,1557.2 1001.1,1556.6 1002.8,1556.0 1004.5,1555.4 1006.2,1554.8 1007.9,1554.2 1009.6,1553.6 1011.3,1553.0 1013.0,1552.4 1014.6,1551.8 1016.3,1551.2 1018.0,1550.6 1019.7,1549.9 1021.4,1549.3 1023.1,1548.7 1024.8,1548.1 1026.5,1547.5 1028.2,1546.9 1029.8,1546.3 1031.5,1545.6 1033.2,1545.0 1034.9,1544.4 1036.6,1543.7 1038.3,1543.1 1040.0,1542.4 1041.7,1541.7 1043.3,1541.0 1045.0,1540.3 1046.7,1539.6 1048.4,1538.8 1050.1,1538.0 1051.8,1537.1 1053.5,1536.2 1055.2,1535.3 1056.8,1534.4 1058.5,1533.3 1060.2,1532.3 1061.9,1531.2 1063.6,1530.0 1065.3,1528.8 1067.0,1527.5 1068.7,1526.2 1070.4,1524.8 1072.0,1523.3 1073.7,1521.7 1075.4,1520.1 1077.1,1518.4 1078.8,1516.6 1080.5,1514.8 1082.2,1512.8 1083.9,1510.8 1085.5,1508.6 1087.2,1506.4 1088.9,1504.1 1090.6,1501.7 1092.3,1499.1 1094.0,1496.5 1095.7,1493.8 1097.4,1490.9 1099.1,1488.0 1100.7,1484.9 1102.4,1481.7 1104.1,1478.4 1105.8,1475.0 1107.5,1471.5 1109.2,1467.9 1110.9,1464.2 1112.6,1460.5 1114.2,1456.7 1115.9,1452.8 1117.6,1448.9 1119.3,1444.9 1121.0,1440.8 1122.7,1436.7 1124.4,1432.6 1126.1,1428.5 1127.7,1424.3 1129.4,1420.1 1131.1,1415.9 1132.8,1411.6 1134.5,1407.4 1136.2,1403.2 1137.9,1399.0 1139.6,1394.8 1141.3,1390.6 1142.9,1386.4 1144.6,1382.3 1146.3,1378.2 1148.0,1374.2 1149.7,1370.2 1151.4,1366.3 1153.1,1362.4 1154.8,1358.6 1156.4,1354.8 1158.1,1351.1 1159.8,1347.6 1161.5,1344.1 1163.2,1340.7 1164.9,1337.4 1166.6,1334.2 1168.3,1331.1 1169.9,1328.1 1171.6,1325.2 1173.3,1322.5 1175.0,1319.8 1176.7,1317.3 1178.4,1314.8 1180.1,1312.5 1181.8,1310.2 1183.5,1308.1 1185.1,1306.0 1186.8,1304.1 1188.5,1302.2 1190.2,1300.4 1191.9,1298.7 1193.6,1297.1 1195.3,1295.6 1197.0,1294.2 1198.6,1292.8 1200.3,1291.6 1202.0,1290.4 1203.7,1289.3 1205.4,1288.2 1207.1,1287.3 1208.8,1286.4 1210.5,1285.6 1212.1,1284.9 1213.8,1284.2 1215.5,1283.6 1217.2,1283.0 1218.9,1282.6 1220.6,1282.2 1222.3,1281.8 1224.0,1281.5 1225.7,1281.3 1227.3,1281.1 1229.0,1281.0 1230.7,1280.9 1232.4,1280.9 1234.1,1281.0 1235.8,1281.0 1237.5,1281.2 1239.2,1281.3 1240.8,1281.6 1242.5,1281.8 1244.2,1282.1 1245.9,1282.5 1247.6,1282.8 1249.3,1283.3 1251.0,1283.7 1252.7,1284.2 1254.4,1284.7 1256.0,1285.2 1257.7,1285.8 1259.4,1286.4 1261.1,1287.0 1262.8,1287.7 1264.5,1288.4 1266.2,1289.0 1267.9,1289.7 1269.5,1290.5 1271.2,1291.2 1272.9,1292.0 1274.6,1292.7 1276.3,1293.5 1278.0,1294.3 1279.7,1295.1 1281.4,1295.9 1283.0,1296.7 1284.7,1297.5 1286.4,1298.3 1288.1,1299.1 1289.8,1299.9 1291.5,1300.7 1293.2,1301.5 1294.9,1302.3 1296.6,1303.1 1298.2,1303.8 1299.9,1304.6 1301.6,1305.3 1303.3,1306.1 1305.0,1306.8 1306.7,1307.5 1308.4,1308.2 1310.1,1308.8 1311.7,1309.5 1313.4,1310.1 1315.1,1310.6 1316.8,1311.2 1318.5,1311.7 1320.2,1312.2 1321.9,1312.7 1323.6,1313.1 1325.2,1313.5 1326.9,1313.9 1328.6,1314.2 1330.3,1314.5 1332.0,1314.8 1333.7,1315.0 1335.4,1315.1 1337.1,1315.2 1338.8,1315.3 1340.4,1315.3 1342.1,1315.3 1343.8,1315.2 1345.5,1315.0 1347.2,1314.8 1348.9,1314.6 1350.6,1314.3 1352.3,1313.9 1353.9,1313.5 1355.6,1313.0 1357.3,1312.4 1359.0,1311.8 1360.7,1311.1 1362.4,1310.3 1364.1,1309.5 1365.8,1308.6 1367.5,1307.6 1369.1,1306.5 1370.8,1305.4 1372.5,1304.1 1374.2,1302.8 1375.9,1301.5 1377.6,1300.0 1379.3,1298.4 1381.0,1296.8 1382.6,1295.1 1384.3,1293.3 1386.0,1291.4 1387.7,1289.4 1389.4,1287.3 1391.1,1285.1 1392.8,1282.8 1394.5,1280.4 1396.1,1277.9 1397.8,1275.3 1399.5,1272.6 1401.2,1269.8 1402.9,1266.9"/>
<polyline class="cv" stroke="#7E2F8E" points="795.2,1680.2 798.6,1666.3 802.0,1664.4 805.3,1663.2 808.7,1662.4 812.1,1661.6 815.5,1661.0 818.8,1660.5 822.2,1660.0 825.6,1659.6 829.0,1659.2 832.3,1658.9 835.7,1658.5 839.1,1658.2 842.5,1657.9 845.8,1657.7 849.2,1657.4 852.6,1657.2 856.0,1656.9 859.3,1656.7 862.7,1656.5 866.1,1656.3 869.5,1656.1 872.9,1655.9 876.2,1655.7 879.6,1655.5 883.0,1655.3 886.4,1655.2 889.7,1655.0 893.1,1654.8 896.5,1654.7 899.9,1654.5 903.2,1654.4 906.6,1654.2 910.0,1654.1 913.4,1654.0 916.7,1653.8 920.1,1653.7 923.5,1653.6 926.9,1653.4 930.2,1653.3 933.6,1653.2 937.0,1653.1 940.4,1653.0 943.7,1652.8 947.1,1652.7 950.5,1652.6 953.9,1652.5 957.3,1652.4 960.6,1652.3 964.0,1652.2 967.4,1652.1 970.8,1652.0 974.1,1651.9 977.5,1651.8 980.9,1651.7 984.3,1651.6 987.6,1651.5 991.0,1651.4 994.4,1651.3 997.8,1651.3 1001.1,1651.2 1004.5,1651.1 1007.9,1651.0 1011.3,1650.9 1014.6,1650.8 1018.0,1650.7 1021.4,1650.7 1024.8,1650.6 1028.2,1650.5 1031.5,1650.4 1034.9,1650.4 1038.3,1650.3 1041.7,1650.2 1045.0,1650.1 1048.4,1650.1 1051.8,1650.0 1055.2,1649.9 1058.5,1649.8 1061.9,1649.8 1065.3,1649.7 1068.7,1649.6 1072.0,1649.6 1075.4,1649.5 1078.8,1649.4 1082.2,1649.3 1085.5,1649.3 1088.9,1649.2 1092.3,1649.1 1095.7,1649.1 1099.1,1649.0 1102.4,1649.0 1105.8,1648.9 1109.2,1648.8 1112.6,1648.8 1115.9,1648.7 1119.3,1648.6 1122.7,1648.6 1126.1,1648.5 1129.4,1648.5 1132.8,1648.4 1136.2,1648.3 1139.6,1648.3 1142.9,1648.2 1146.3,1648.2 1149.7,1648.1 1153.1,1648.1 1156.4,1648.0 1159.8,1648.0 1163.2,1647.9 1166.6,1647.8 1169.9,1647.8 1173.3,1647.7 1176.7,1647.7 1180.1,1647.6 1183.5,1647.6 1186.8,1647.5 1190.2,1647.5 1193.6,1647.4 1197.0,1647.4 1200.3,1647.3 1203.7,1647.3 1207.1,1647.2 1210.5,1647.2 1213.8,1647.1 1217.2,1647.1 1220.6,1647.0 1224.0,1647.0 1227.3,1646.9 1230.7,1646.9 1234.1,1646.8 1237.5,1646.8 1240.8,1646.7 1244.2,1646.7 1247.6,1646.6 1251.0,1646.6 1254.4,1646.5 1257.7,1646.5 1261.1,1646.4 1264.5,1646.4 1267.9,1646.4 1271.2,1646.3 1274.6,1646.3 1278.0,1646.2 1281.4,1646.2 1284.7,1646.1 1288.1,1646.1 1291.5,1646.0 1294.9,1646.0 1298.2,1646.0 1301.6,1645.9 1305.0,1645.9 1308.4,1645.8 1311.7,1645.8 1315.1,1645.7 1318.5,1645.7 1321.9,1645.7 1325.2,1645.6 1328.6,1645.6 1332.0,1645.5 1335.4,1645.5 1338.8,1645.5 1342.1,1645.4 1345.5,1645.4 1348.9,1645.3 1352.3,1645.3 1355.6,1645.3 1359.0,1645.2 1362.4,1645.2 1365.8,1645.1 1369.1,1645.1 1372.5,1645.1 1375.9,1645.0 1379.3,1645.0 1382.6,1645.0 1386.0,1644.9 1389.4,1644.9 1392.8,1644.8 1396.1,1644.8 1399.5,1644.8 1402.9,1644.7"/>
<polyline class="cv" stroke="#77AC30" points="795.2,1680.2 798.6,1670.9 802.0,1668.0 805.3,1666.0 808.7,1664.3 812.1,1662.9 815.5,1661.6 818.8,1660.4 822.2,1659.4 825.6,1658.4 829.0,1657.4 832.3,1656.6 835.7,1655.7 839.1,1654.9 842.5,1654.2 845.8,1653.4 849.2,1652.7 852.6,1652.0 856.0,1651.4 859.3,1650.7 862.7,1650.1 866.1,1649.5 869.5,1648.9 872.9,1648.4 876.2,1647.8 879.6,1647.2 883.0,1646.7 886.4,1646.2 889.7,1645.7 893.1,1645.2 896.5,1644.7 899.9,1644.2 903.2,1643.7 906.6,1643.2 910.0,1642.8 913.4,1642.3 916.7,1641.9 920.1,1641.4 923.5,1641.0 926.9,1640.5 930.2,1640.1 933.6,1639.7 937.0,1639.3 940.4,1638.9 943.7,1638.5 947.1,1638.1 950.5,1637.7 953.9,1637.3 957.3,1636.9 960.6,1636.5 964.0,1636.1 967.4,1635.8 970.8,1635.4 974.1,1635.0 977.5,1634.7 980.9,1634.3 984.3,1633.9 987.6,1633.6 991.0,1633.2 994.4,1632.9 997.8,1632.5 1001.1,1632.2 1004.5,1631.9 1007.9,1631.5 1011.3,1631.2 1014.6,1630.9 1018.0,1630.5 1021.4,1630.2 1024.8,1629.9 1028.2,1629.5 1031.5,1629.2 1034.9,1628.9 1038.3,1628.6 1041.7,1628.3 1045.0,1628.0 1048.4,1627.7 1051.8,1627.4 1055.2,1627.1 1058.5,1626.7 1061.9,1626.4 1065.3,1626.1 1068.7,1625.8 1072.0,1625.6 1075.4,1625.3 1078.8,1625.0 1082.2,1624.7 1085.5,1624.4 1088.9,1624.1 1092.3,1623.8 1095.7,1623.5 1099.1,1623.2 1102.4,1623.0 1105.8,1622.7 1109.2,1622.4 1112.6,1622.1 1115.9,1621.9 1119.3,1621.6 1122.7,1621.3 1126.1,1621.0 1129.4,1620.8 1132.8,1620.5 1136.2,1620.2 1139.6,1620.0 1142.9,1619.7 1146.3,1619.4 1149.7,1619.2 1153.1,1618.9 1156.4,1618.6 1159.8,1618.4 1163.2,1618.1 1166.6,1617.9 1169.9,1617.6 1173.3,1617.4 1176.7,1617.1 1180.1,1616.9 1183.5,1616.6 1186.8,1616.3 1190.2,1616.1 1193.6,1615.8 1197.0,1615.6 1200.3,1615.4 1203.7,1615.1 1207.1,1614.9 1210.5,1614.6 1213.8,1614.4 1217.2,1614.1 1220.6,1613.9 1224.0,1613.6 1227.3,1613.4 1230.7,1613.2 1234.1,1612.9 1237.5,1612.7 1240.8,1612.5 1244.2,1612.2 1247.6,1612.0 1251.0,1611.8 1254.4,1611.5 1257.7,1611.3 1261.1,1611.1 1264.5,1610.8 1267.9,1610.6 1271.2,1610.4 1274.6,1610.1 1278.0,1609.9 1281.4,1609.7 1284.7,1609.5 1288.1,1609.2 1291.5,1609.0 1294.9,1608.8 1298.2,1608.5 1301.6,1608.3 1305.0,1608.1 1308.4,1607.9 1311.7,1607.7 1315.1,1607.4 1318.5,1607.2 1321.9,1607.0 1325.2,1606.8 1328.6,1606.6 1332.0,1606.3 1335.4,1606.1 1338.8,1605.9 1342.1,1605.7 1345.5,1605.5 1348.9,1605.3 1352.3,1605.0 1355.6,1604.8 1359.0,1604.6 1362.4,1604.4 1365.8,1604.2 1369.1,1604.0 1372.5,1603.8 1375.9,1603.6 1379.3,1603.4 1382.6,1603.1 1386.0,1602.9 1389.4,1602.7 1392.8,1602.5 1396.1,1602.3 1399.5,1602.1 1402.9,1601.9"/>
<polyline class="cv" stroke="#4DBEEE" points="795.2,1680.2 798.6,1674.3 802.0,1671.4 805.3,1669.1 808.7,1667.0 812.1,1665.2 815.5,1663.5 818.8,1661.9 822.2,1660.3 825.6,1658.9 829.0,1657.5 832.3,1656.1 835.7,1654.8 839.1,1653.5 842.5,1652.2 845.8,1651.0 849.2,1649.8 852.6,1648.7 856.0,1647.5 859.3,1646.4 862.7,1645.3 866.1,1644.2 869.5,1643.1 872.9,1642.0 876.2,1641.0 879.6,1639.9 883.0,1638.9 886.4,1637.9 889.7,1636.9 893.1,1635.9 896.5,1634.9 899.9,1633.9 903.2,1632.9 906.6,1632.0 910.0,1631.0 913.4,1630.1 916.7,1629.1 920.1,1628.2 923.5,1627.3 926.9,1626.3 930.2,1625.4 933.6,1624.5 937.0,1623.6 940.4,1622.7 943.7,1621.8 947.1,1620.9 950.5,1620.0 953.9,1619.1 957.3,1618.2 960.6,1617.4 964.0,1616.5 967.4,1615.6 970.8,1614.7 974.1,1613.9 977.5,1613.0 980.9,1612.2 984.3,1611.3 987.6,1610.5 991.0,1609.6 994.4,1608.8 997.8,1607.9 1001.1,1607.1 1004.5,1606.2 1007.9,1605.4 1011.3,1604.6 1014.6,1603.7 1018.0,1602.9 1021.4,1602.1 1024.8,1601.2 1028.2,1600.4 1031.5,1599.6 1034.9,1598.8 1038.3,1598.0 1041.7,1597.1 1045.0,1596.3 1048.4,1595.5 1051.8,1594.7 1055.2,1593.9 1058.5,1593.1 1061.9,1592.3 1065.3,1591.5 1068.7,1590.7 1072.0,1589.9 1075.4,1589.1 1078.8,1588.3 1082.2,1587.5 1085.5,1586.7 1088.9,1585.9 1092.3,1585.1 1095.7,1584.3 1099.1,1583.5 1102.4,1582.7 1105.8,1581.9 1109.2,1581.1 1112.6,1580.3 1115.9,1579.5 1119.3,1578.8 1122.7,1578.0 1126.1,1577.2 1129.4,1576.4 1132.8,1575.6 1136.2,1574.8 1139.6,1574.1 1142.9,1573.3 1146.3,1572.5 1149.7,1571.7 1153.1,1570.9 1156.4,1570.2 1159.8,1569.4 1163.2,1568.6 1166.6,1567.8 1169.9,1567.1 1173.3,1566.3 1176.7,1565.5 1180.1,1564.7 1183.5,1564.0 1186.8,1563.2 1190.2,1562.4 1193.6,1561.7 1197.0,1560.9 1200.3,1560.1 1203.7,1559.4 1207.1,1558.6 1210.5,1557.8 1213.8,1557.1 1217.2,1556.3 1220.6,1555.5 1224.0,1554.8 1227.3,1554.0 1230.7,1553.2 1234.1,1552.5 1237.5,1551.7 1240.8,1550.9 1244.2,1550.2 1247.6,1549.4 1251.0,1548.7 1254.4,1547.9 1257.7,1547.1 1261.1,1546.4 1264.5,1545.6 1267.9,1544.9 1271.2,1544.1 1274.6,1543.3 1278.0,1542.6 1281.4,1541.8 1284.7,1541.1 1288.1,1540.3 1291.5,1539.6 1294.9,1538.8 1298.2,1538.1 1301.6,1537.3 1305.0,1536.5 1308.4,1535.8 1311.7,1535.0 1315.1,1534.3 1318.5,1533.5 1321.9,1532.8 1325.2,1532.0 1328.6,1531.3 1332.0,1530.5 1335.4,1529.8 1338.8,1529.0 1342.1,1528.3 1345.5,1527.5 1348.9,1526.8 1352.3,1526.1 1355.6,1525.3 1359.0,1524.6 1362.4,1523.8 1365.8,1523.1 1369.1,1522.3 1372.5,1521.6 1375.9,1520.8 1379.3,1520.1 1382.6,1519.4 1386.0,1518.6 1389.4,1517.9 1392.8,1517.1 1396.1,1516.4 1399.5,1515.7 1402.9,1514.9"/>
<polyline class="cv" stroke="#A2142F" points="795.2,1680.2 798.6,1676.7 802.0,1674.2 805.3,1671.9 808.7,1669.8 812.1,1667.9 815.5,1665.9 818.8,1664.1 822.2,1662.3 825.6,1660.5 829.0,1658.7 832.3,1657.0 835.7,1655.3 839.1,1653.6 842.5,1651.9 845.8,1650.2 849.2,1648.6 852.6,1646.9 856.0,1645.3 859.3,1643.7 862.7,1642.1 866.1,1640.4 869.5,1638.8 872.9,1637.2 876.2,1635.6 879.6,1634.0 883.0,1632.4 886.4,1630.8 889.7,1629.2 893.1,1627.6 896.5,1626.1 899.9,1624.5 903.2,1622.9 906.6,1621.3 910.0,1619.7 913.4,1618.1 916.7,1616.5 920.1,1614.9 923.5,1613.3 926.9,1611.7 930.2,1610.1 933.6,1608.5 937.0,1606.9 940.4,1605.3 943.7,1603.7 947.1,1602.1 950.5,1600.5 953.9,1598.9 957.3,1597.3 960.6,1595.6 964.0,1594.0 967.4,1592.4 970.8,1590.8 974.1,1589.1 977.5,1587.5 980.9,1585.9 984.3,1584.2 987.6,1582.6 991.0,1580.9 994.4,1579.3 997.8,1577.6 1001.1,1576.0 1004.5,1574.3 1007.9,1572.6 1011.3,1571.0 1014.6,1569.3 1018.0,1567.6 1021.4,1565.9 1024.8,1564.2 1028.2,1562.6 1031.5,1560.9 1034.9,1559.2 1038.3,1557.5 1041.7,1555.8 1045.0,1554.1 1048.4,1552.3 1051.8,1550.6 1055.2,1548.9 1058.5,1547.2 1061.9,1545.5 1065.3,1543.7 1068.7,1542.0 1072.0,1540.3 1075.4,1538.5 1078.8,1536.8 1082.2,1535.0 1085.5,1533.3 1088.9,1531.5 1092.3,1529.7 1095.7,1528.0 1099.1,1526.2 1102.4,1524.4 1105.8,1522.7 1109.2,1520.9 1112.6,1519.1 1115.9,1517.3 1119.3,1515.5 1122.7,1513.8 1126.1,1512.0 1129.4,1510.2 1132.8,1508.4 1136.2,1506.6 1139.6,1504.8 1142.9,1503.0 1146.3,1501.2 1149.7,1499.3 1153.1,1497.5 1156.4,1495.7 1159.8,1493.9 1163.2,1492.1 1166.6,1490.3 1169.9,1488.5 1173.3,1486.6 1176.7,1484.8 1180.1,1483.0 1183.5,1481.2 1186.8,1479.3 1190.2,1477.5 1193.6,1475.7 1197.0,1473.9 1200.3,1472.0 1203.7,1470.2 1207.1,1468.4 1210.5,1466.6 1213.8,1464.8 1217.2,1462.9 1220.6,1461.1 1224.0,1459.3 1227.3,1457.5 1230.7,1455.7 1234.1,1453.8 1237.5,1452.0 1240.8,1450.2 1244.2,1448.4 1247.6,1446.6 1251.0,1444.8 1254.4,1443.0 1257.7,1441.2 1261.1,1439.5 1264.5,1437.7 1267.9,1435.9 1271.2,1434.1 1274.6,1432.4 1278.0,1430.6 1281.4,1428.8 1284.7,1427.1 1288.1,1425.3 1291.5,1423.6 1294.9,1421.9 1298.2,1420.1 1301.6,1418.4 1305.0,1416.7 1308.4,1415.0 1311.7,1413.3 1315.1,1411.6 1318.5,1409.9 1321.9,1408.3 1325.2,1406.6 1328.6,1405.0 1332.0,1403.3 1335.4,1401.7 1338.8,1400.1 1342.1,1398.4 1345.5,1396.8 1348.9,1395.3 1352.3,1393.7 1355.6,1392.1 1359.0,1390.5 1362.4,1389.0 1365.8,1387.5 1369.1,1385.9 1372.5,1384.4 1375.9,1382.9 1379.3,1381.4 1382.6,1380.0 1386.0,1378.5 1389.4,1377.1 1392.8,1375.6 1396.1,1374.2 1399.5,1372.8 1402.9,1371.4"/>
<polyline class="cv" stroke="#0072BD" points="795.2,1680.2 798.6,1678.1 802.0,1676.2 805.3,1674.2 808.7,1672.3 812.1,1670.3 815.5,1668.4 818.8,1666.4 822.2,1664.5 825.6,1662.5 829.0,1660.5 832.3,1658.5 835.7,1656.5 839.1,1654.5 842.5,1652.5 845.8,1650.4 849.2,1648.4 852.6,1646.3 856.0,1644.2 859.3,1642.1 862.7,1640.0 866.1,1637.8 869.5,1635.7 872.9,1633.5 876.2,1631.4 879.6,1629.2 883.0,1626.9 886.4,1624.7 889.7,1622.5 893.1,1620.2 896.5,1617.9 899.9,1615.6 903.2,1613.3 906.6,1611.0 910.0,1608.6 913.4,1606.2 916.7,1603.8 920.1,1601.4 923.5,1599.0 926.9,1596.5 930.2,1594.1 933.6,1591.6 937.0,1589.1 940.4,1586.6 943.7,1584.0 947.1,1581.5 950.5,1578.9 953.9,1576.3 957.3,1573.7 960.6,1571.0 964.0,1568.3 967.4,1565.7 970.8,1563.0 974.1,1560.2 977.5,1557.5 980.9,1554.7 984.3,1552.0 987.6,1549.2 991.0,1546.3 994.4,1543.5 997.8,1540.6 1001.1,1537.7 1004.5,1534.8 1007.9,1531.9 1011.3,1529.0 1014.6,1526.0 1018.0,1523.0 1021.4,1520.1 1024.8,1517.0 1028.2,1514.0 1031.5,1510.9 1034.9,1507.9 1038.3,1504.8 1041.7,1501.7 1045.0,1498.6 1048.4,1495.4 1051.8,1492.3 1055.2,1489.1 1058.5,1485.9 1061.9,1482.7 1065.3,1479.5 1068.7,1476.3 1072.0,1473.0 1075.4,1469.8 1078.8,1466.5 1082.2,1463.2 1085.5,1460.0 1088.9,1456.7 1092.3,1453.4 1095.7,1450.0 1099.1,1446.7 1102.4,1443.4 1105.8,1440.1 1109.2,1436.8 1112.6,1433.4 1115.9,1430.1 1119.3,1426.8 1122.7,1423.5 1126.1,1420.2 1129.4,1416.8 1132.8,1413.5 1136.2,1410.2 1139.6,1407.0 1142.9,1403.7 1146.3,1400.4 1149.7,1397.2 1153.1,1393.9 1156.4,1390.7 1159.8,1387.5 1163.2,1384.4 1166.6,1381.2 1169.9,1378.1 1173.3,1375.0 1176.7,1371.9 1180.1,1368.9 1183.5,1365.9 1186.8,1362.9 1190.2,1360.0 1193.6,1357.1 1197.0,1354.3 1200.3,1351.5 1203.7,1348.7 1207.1,1346.0 1210.5,1343.3 1213.8,1340.6 1217.2,1338.0 1220.6,1335.5 1224.0,1333.0 1227.3,1330.6 1230.7,1328.2 1234.1,1325.8 1237.5,1323.5 1240.8,1321.3 1244.2,1319.1 1247.6,1317.0 1251.0,1314.9 1254.4,1312.9 1257.7,1310.9 1261.1,1309.0 1264.5,1307.2 1267.9,1305.4 1271.2,1303.6 1274.6,1301.9 1278.0,1300.3 1281.4,1298.7 1284.7,1297.1 1288.1,1295.6 1291.5,1294.2 1294.9,1292.8 1298.2,1291.4 1301.6,1290.1 1305.0,1288.9 1308.4,1287.7 1311.7,1286.5 1315.1,1285.4 1318.5,1284.3 1321.9,1283.2 1325.2,1282.2 1328.6,1281.3 1332.0,1280.3 1335.4,1279.4 1338.8,1278.6 1342.1,1277.7 1345.5,1277.0 1348.9,1276.2 1352.3,1275.5 1355.6,1274.7 1359.0,1274.1 1362.4,1273.4 1365.8,1272.8 1369.1,1272.2 1372.5,1271.6 1375.9,1271.1 1379.3,1270.6 1382.6,1270.1 1386.0,1269.6 1389.4,1269.1 1392.8,1268.7 1396.1,1268.2 1399.5,1267.8 1402.9,1267.4"/>
<polyline class="cv" stroke="#D95319" points="795.2,1680.2 798.6,1678.3 802.0,1676.5 805.3,1674.6 808.7,1672.7 812.1,1670.7 815.5,1668.8 818.8,1666.8 822.2,1664.8 825.6,1662.8 829.0,1660.8 832.3,1658.7 835.7,1656.7 839.1,1654.6 842.5,1652.5 845.8,1650.4 849.2,1648.2 852.6,1646.0 856.0,1643.9 859.3,1641.7 862.7,1639.4 866.1,1637.2 869.5,1634.9 872.9,1632.6 876.2,1630.3 879.6,1628.0 883.0,1625.6 886.4,1623.3 889.7,1620.9 893.1,1618.4 896.5,1616.0 899.9,1613.5 903.2,1611.0 906.6,1608.5 910.0,1606.0 913.4,1603.4 916.7,1600.9 920.1,1598.3 923.5,1595.6 926.9,1593.0 930.2,1590.3 933.6,1587.6 937.0,1584.9 940.4,1582.1 943.7,1579.4 947.1,1576.6 950.5,1573.8 953.9,1570.9 957.3,1568.1 960.6,1565.2 964.0,1562.3 967.4,1559.3 970.8,1556.4 974.1,1553.4 977.5,1550.4 980.9,1547.3 984.3,1544.3 987.6,1541.2 991.0,1538.1 994.4,1535.0 997.8,1531.8 1001.1,1528.6 1004.5,1525.4 1007.9,1522.2 1011.3,1519.0 1014.6,1515.7 1018.0,1512.4 1021.4,1509.1 1024.8,1505.8 1028.2,1502.4 1031.5,1499.1 1034.9,1495.7 1038.3,1492.3 1041.7,1488.9 1045.0,1485.4 1048.4,1482.0 1051.8,1478.5 1055.2,1475.0 1058.5,1471.5 1061.9,1468.0 1065.3,1464.4 1068.7,1460.9 1072.0,1457.3 1075.4,1453.7 1078.8,1450.2 1082.2,1446.6 1085.5,1443.0 1088.9,1439.4 1092.3,1435.8 1095.7,1432.2 1099.1,1428.6 1102.4,1425.0 1105.8,1421.4 1109.2,1417.8 1112.6,1414.2 1115.9,1410.7 1119.3,1407.1 1122.7,1403.5 1126.1,1400.0 1129.4,1396.5 1132.8,1392.9 1136.2,1389.5 1139.6,1386.0 1142.9,1382.5 1146.3,1379.1 1149.7,1375.7 1153.1,1372.4 1156.4,1369.0 1159.8,1365.7 1163.2,1362.5 1166.6,1359.2 1169.9,1356.1 1173.3,1352.9 1176.7,1349.8 1180.1,1346.8 1183.5,1343.7 1186.8,1340.8 1190.2,1337.9 1193.6,1335.0 1197.0,1332.2 1200.3,1329.5 1203.7,1326.8 1207.1,1324.1 1210.5,1321.5 1213.8,1319.0 1217.2,1316.6 1220.6,1314.2 1224.0,1311.8 1227.3,1309.5 1230.7,1307.3 1234.1,1305.1 1237.5,1303.0 1240.8,1301.0 1244.2,1299.0 1247.6,1297.1 1251.0,1295.2 1254.4,1293.4 1257.7,1291.7 1261.1,1290.0 1264.5,1288.4 1267.9,1286.8 1271.2,1285.3 1274.6,1283.8 1278.0,1282.4 1281.4,1281.1 1284.7,1279.8 1288.1,1278.5 1291.5,1277.3 1294.9,1276.1 1298.2,1275.0 1301.6,1273.9 1305.0,1272.9 1308.4,1271.9 1311.7,1271.0 1315.1,1270.1 1318.5,1269.2 1321.9,1268.4 1325.2,1267.6 1328.6,1266.8 1332.0,1266.1 1335.4,1265.4 1338.8,1264.8 1342.1,1264.1 1345.5,1263.5 1348.9,1262.9 1352.3,1262.4 1355.6,1261.9 1359.0,1261.4 1362.4,1260.9 1365.8,1260.4 1369.1,1260.0 1372.5,1259.6 1375.9,1259.2 1379.3,1258.8 1382.6,1258.5 1386.0,1258.1 1389.4,1257.8 1392.8,1257.5 1396.1,1257.2 1399.5,1256.9 1402.9,1256.7"/>
</g>
<text class="tk" x="795.2" y="1706.6" text-anchor="middle">0</text>
<text class="tk" x="862.7" y="1706.6" text-anchor="middle">2</text>
<text class="tk" x="930.2" y="1706.6" text-anchor="middle">4</text>
<text class="tk" x="997.8" y="1706.6" text-anchor="middle">6</text>
<text class="tk" x="1065.3" y="1706.6" text-anchor="middle">8</text>
<text class="tk" x="1132.8" y="1706.6" text-anchor="middle">10</text>
<text class="tk" x="1200.3" y="1706.6" text-anchor="middle">12</text>
<text class="tk" x="1267.9" y="1706.6" text-anchor="middle">14</text>
<text class="tk" x="1335.4" y="1706.6" text-anchor="middle">16</text>
<text class="tk" x="1402.9" y="1706.6" text-anchor="middle">18</text>
<text class="tk" x="787.6" y="1687.4" text-anchor="end">1</text>
<text class="tk" x="787.6" y="1591.3" text-anchor="end">1.5</text>
<text class="tk" x="787.6" y="1495.2" text-anchor="end">2</text>
<text class="tk" x="787.6" y="1399.0" text-anchor="end">2.5</text>
<text class="tk" x="787.6" y="1302.9" text-anchor="end">3</text>
<text class="tk" x="787.6" y="1206.8" text-anchor="end">3.5</text>
<text class="lb" x="1099.1" y="1735.0" text-anchor="middle">time[days]</text>
<text class="lb" transform="translate(749.7 1440.5) rotate(-90)" text-anchor="middle">volume [mm<tspan dx="0.8" dy="-9" font-size="17">3</tspan><tspan dx="0.6" dy="9">]</tspan></text>
<rect x="817.8" y="1220.4" width="198.5" height="204.6" fill="#fff" stroke="#484848" stroke-width="1.4"/>
<circle class="mk" cx="851.3" cy="1233.7" r="5.8"/>
<text class="lg" x="884.8" y="1239.7">DiscreteMeasure</text>
<path d="M823.6 1256.0H879.0" stroke="#D95319" stroke-width="1.3" stroke-opacity="0.8"/>
<text class="lg" x="884.8" y="1262.0">InterpolatedData</text>
<path d="M823.6 1278.3H879.0" stroke="#EDB120" stroke-width="1.3" stroke-opacity="0.8"/>
<text class="lg" x="884.8" y="1284.3">IntegerOrder</text>
<path d="M823.6 1300.5H879.0" stroke="#7E2F8E" stroke-width="1.3" stroke-opacity="0.8"/>
<text class="lg" x="884.8" y="1306.5">order0.16</text>
<path d="M823.6 1322.8H879.0" stroke="#77AC30" stroke-width="1.3" stroke-opacity="0.8"/>
<text class="lg" x="884.8" y="1328.8">order0.36</text>
<path d="M823.6 1345.1H879.0" stroke="#4DBEEE" stroke-width="1.3" stroke-opacity="0.8"/>
<text class="lg" x="884.8" y="1351.1">order0.56</text>
<path d="M823.6 1367.4H879.0" stroke="#A2142F" stroke-width="1.3" stroke-opacity="0.8"/>
<text class="lg" x="884.8" y="1373.4">order0.76</text>
<path d="M823.6 1389.7H879.0" stroke="#0072BD" stroke-width="1.3" stroke-opacity="0.8"/>
<text class="lg" x="884.8" y="1395.7">order0.96</text>
<path d="M823.6 1411.9H879.0" stroke="#D95319" stroke-width="1.3" stroke-opacity="0.8"/>
<text class="lg" x="884.8" y="1417.9">order1</text>
<text class="pn" x="724.0" y="1741.9">g</text>
</g>
<g id="plot7">
<clipPath id="cp7"><rect x="67.7" y="1796.0" width="609.8" height="480.0"/></clipPath>
<path class="grid" d="M136.2 1797.0V2275.0M203.8 1797.0V2275.0M271.3 1797.0V2275.0M338.8 1797.0V2275.0M406.4 1797.0V2275.0M473.9 1797.0V2275.0M541.4 1797.0V2275.0M609.0 1797.0V2275.0M68.7 2216.3H676.5M68.7 2156.4H676.5M68.7 2096.5H676.5M68.7 2036.6H676.5M68.7 1976.7H676.5M68.7 1916.8H676.5M68.7 1856.9H676.5"/>
<path class="ax" d="M68.7 1797.0H676.5V2275.0H68.7ZM136.2 2275.0v-6.0M136.2 1797.0v6.0M203.8 2275.0v-6.0M203.8 1797.0v6.0M271.3 2275.0v-6.0M271.3 1797.0v6.0M338.8 2275.0v-6.0M338.8 1797.0v6.0M406.4 2275.0v-6.0M406.4 1797.0v6.0M473.9 2275.0v-6.0M473.9 1797.0v6.0M541.4 2275.0v-6.0M541.4 1797.0v6.0M609.0 2275.0v-6.0M609.0 1797.0v6.0M68.7 2216.3h6.0M676.5 2216.3h-6.0M68.7 2156.4h6.0M676.5 2156.4h-6.0M68.7 2096.5h6.0M676.5 2096.5h-6.0M68.7 2036.6h6.0M676.5 2036.6h-6.0M68.7 1976.7h6.0M676.5 1976.7h-6.0M68.7 1916.8h6.0M676.5 1916.8h-6.0M68.7 1856.9h6.0M676.5 1856.9h-6.0"/>
<circle class="mk" cx="68.7" cy="2276.2" r="5.8"/>
<circle class="mk" cx="203.8" cy="2246.2" r="5.8"/>
<circle class="mk" cx="305.1" cy="2156.4" r="5.8"/>
<circle class="mk" cx="372.6" cy="2006.7" r="5.8"/>
<circle class="mk" cx="440.1" cy="1976.7" r="5.8"/>
<circle class="mk" cx="575.2" cy="1916.8" r="5.8"/>
<circle class="mk" cx="676.5" cy="1841.9" r="5.8"/>
<g clip-path="url(#cp7)">
<polyline class="cv" stroke="#D95319" points="68.7,2276.2 70.4,2274.5 72.1,2272.8 73.8,2271.2 75.5,2269.7 77.1,2268.2 78.8,2266.8 80.5,2265.4 82.2,2264.1 83.9,2262.8 85.6,2261.6 87.3,2260.5 89.0,2259.4 90.6,2258.3 92.3,2257.3 94.0,2256.4 95.7,2255.5 97.4,2254.6 99.1,2253.8 100.8,2253.0 102.5,2252.3 104.2,2251.6 105.8,2251.0 107.5,2250.4 109.2,2249.8 110.9,2249.3 112.6,2248.8 114.3,2248.3 116.0,2247.9 117.7,2247.5 119.3,2247.2 121.0,2246.9 122.7,2246.6 124.4,2246.3 126.1,2246.0 127.8,2245.8 129.5,2245.7 131.2,2245.5 132.9,2245.3 134.5,2245.2 136.2,2245.1 137.9,2245.1 139.6,2245.0 141.3,2245.0 143.0,2244.9 144.7,2244.9 146.4,2244.9 148.1,2245.0 149.7,2245.0 151.4,2245.1 153.1,2245.1 154.8,2245.2 156.5,2245.3 158.2,2245.3 159.9,2245.4 161.6,2245.5 163.2,2245.6 164.9,2245.7 166.6,2245.8 168.3,2245.9 170.0,2246.0 171.7,2246.1 173.4,2246.2 175.1,2246.3 176.8,2246.4 178.4,2246.5 180.1,2246.5 181.8,2246.6 183.5,2246.7 185.2,2246.7 186.9,2246.8 188.6,2246.8 190.3,2246.8 191.9,2246.8 193.6,2246.8 195.3,2246.7 197.0,2246.7 198.7,2246.6 200.4,2246.5 202.1,2246.4 203.8,2246.2 205.5,2246.1 207.1,2245.9 208.8,2245.7 210.5,2245.5 212.2,2245.2 213.9,2244.9 215.6,2244.6 217.3,2244.2 219.0,2243.8 220.6,2243.4 222.3,2243.0 224.0,2242.5 225.7,2242.0 227.4,2241.4 229.1,2240.8 230.8,2240.2 232.5,2239.5 234.2,2238.8 235.8,2238.0 237.5,2237.2 239.2,2236.3 240.9,2235.4 242.6,2234.5 244.3,2233.5 246.0,2232.4 247.7,2231.3 249.4,2230.2 251.0,2229.0 252.7,2227.7 254.4,2226.4 256.1,2225.1 257.8,2223.7 259.5,2222.2 261.2,2220.6 262.9,2219.0 264.5,2217.4 266.2,2215.7 267.9,2213.9 269.6,2212.0 271.3,2210.1 273.0,2208.1 274.7,2206.1 276.4,2204.0 278.1,2201.8 279.7,2199.5 281.4,2197.2 283.1,2194.8 284.8,2192.3 286.5,2189.8 288.2,2187.1 289.9,2184.4 291.6,2181.6 293.2,2178.8 294.9,2175.8 296.6,2172.8 298.3,2169.7 300.0,2166.5 301.7,2163.2 303.4,2159.9 305.1,2156.4 306.8,2152.9 308.4,2149.2 310.1,2145.5 311.8,2141.8 313.5,2137.9 315.2,2134.0 316.9,2130.1 318.6,2126.1 320.3,2122.0 321.9,2118.0 323.6,2113.8 325.3,2109.7 327.0,2105.6 328.7,2101.4 330.4,2097.2 332.1,2093.0 333.8,2088.8 335.5,2084.7 337.1,2080.5 338.8,2076.4 340.5,2072.3 342.2,2068.2 343.9,2064.2 345.6,2060.2 347.3,2056.2 349.0,2052.3 350.7,2048.5 352.3,2044.7 354.0,2041.0 355.7,2037.4 357.4,2033.8 359.1,2030.4 360.8,2027.0 362.5,2023.8 364.2,2020.6 365.8,2017.6 367.5,2014.7 369.2,2011.9 370.9,2009.2 372.6,2006.7 374.3,2004.2 376.0,2002.0 377.7,1999.9 379.4,1997.8 381.0,1996.0 382.7,1994.2 384.4,1992.6 386.1,1991.0 387.8,1989.6 389.5,1988.3 391.2,1987.0 392.9,1985.9 394.5,1984.9 396.2,1983.9 397.9,1983.1 399.6,1982.3 401.3,1981.6 403.0,1980.9 404.7,1980.3 406.4,1979.8 408.1,1979.4 409.7,1979.0 411.4,1978.6 413.1,1978.3 414.8,1978.1 416.5,1977.9 418.2,1977.7 419.9,1977.5 421.6,1977.4 423.2,1977.3 424.9,1977.2 426.6,1977.2 428.3,1977.1 430.0,1977.1 431.7,1977.0 433.4,1977.0 435.1,1976.9 436.8,1976.9 438.4,1976.8 440.1,1976.7 441.8,1976.6 443.5,1976.5 445.2,1976.3 446.9,1976.1 448.6,1975.9 450.3,1975.7 452.0,1975.5 453.6,1975.2 455.3,1974.9 457.0,1974.6 458.7,1974.3 460.4,1974.0 462.1,1973.6 463.8,1973.3 465.5,1972.9 467.1,1972.5 468.8,1972.0 470.5,1971.6 472.2,1971.1 473.9,1970.7 475.6,1970.2 477.3,1969.6 479.0,1969.1 480.7,1968.6 482.3,1968.0 484.0,1967.4 485.7,1966.8 487.4,1966.2 489.1,1965.6 490.8,1964.9 492.5,1964.3 494.2,1963.6 495.8,1962.9 497.5,1962.2 499.2,1961.5 500.9,1960.7 502.6,1960.0 504.3,1959.2 506.0,1958.4 507.7,1957.6 509.4,1956.8 511.0,1956.0 512.7,1955.2 514.4,1954.3 516.1,1953.5 517.8,1952.6 519.5,1951.7 521.2,1950.8 522.9,1949.9 524.5,1949.0 526.2,1948.0 527.9,1947.1 529.6,1946.1 531.3,1945.2 533.0,1944.2 534.7,1943.2 536.4,1942.2 538.1,1941.2 539.7,1940.2 541.4,1939.2 543.1,1938.1 544.8,1937.1 546.5,1936.0 548.2,1934.9 549.9,1933.9 551.6,1932.8 553.3,1931.7 554.9,1930.6 556.6,1929.5 558.3,1928.4 560.0,1927.2 561.7,1926.1 563.4,1925.0 565.1,1923.8 566.8,1922.7 568.4,1921.5 570.1,1920.3 571.8,1919.2 573.5,1918.0 575.2,1916.8 576.9,1915.6 578.6,1914.4 580.3,1913.2 582.0,1912.0 583.6,1910.8 585.3,1909.6 587.0,1908.3 588.7,1907.1 590.4,1905.9 592.1,1904.7 593.8,1903.4 595.5,1902.2 597.1,1900.9 598.8,1899.7 600.5,1898.4 602.2,1897.2 603.9,1895.9 605.6,1894.6 607.3,1893.4 609.0,1892.1 610.7,1890.8 612.3,1889.6 614.0,1888.3 615.7,1887.0 617.4,1885.8 619.1,1884.5 620.8,1883.2 622.5,1881.9 624.2,1880.7 625.9,1879.4 627.5,1878.1 629.2,1876.8 630.9,1875.5 632.6,1874.3 634.3,1873.0 636.0,1871.7 637.7,1870.4 639.4,1869.2 641.0,1867.9 642.7,1866.6 644.4,1865.4 646.1,1864.1 647.8,1862.8 649.5,1861.6 651.2,1860.3 652.9,1859.1 654.6,1857.8 656.2,1856.6 657.9,1855.3 659.6,1854.1 661.3,1852.9 663.0,1851.6 664.7,1850.4 666.4,1849.2 668.1,1847.9 669.7,1846.7 671.4,1845.5 673.1,1844.3 674.8,1843.1 676.5,1841.9"/>
<polyline class="cv" stroke="#7E2F8E" points="68.7,2276.2 72.1,2261.0 75.5,2259.0 78.8,2257.8 82.2,2256.9 85.6,2256.1 89.0,2255.5 92.3,2254.9 95.7,2254.4 99.1,2254.0 102.5,2253.6 105.8,2253.2 109.2,2252.9 112.6,2252.5 116.0,2252.2 119.3,2251.9 122.7,2251.7 126.1,2251.4 129.5,2251.2 132.9,2250.9 136.2,2250.7 139.6,2250.5 143.0,2250.3 146.4,2250.1 149.7,2249.9 153.1,2249.7 156.5,2249.5 159.9,2249.3 163.2,2249.2 166.6,2249.0 170.0,2248.8 173.4,2248.7 176.8,2248.5 180.1,2248.4 183.5,2248.2 186.9,2248.1 190.3,2248.0 193.6,2247.8 197.0,2247.7 200.4,2247.6 203.8,2247.4 207.1,2247.3 210.5,2247.2 213.9,2247.1 217.3,2247.0 220.6,2246.8 224.0,2246.7 227.4,2246.6 230.8,2246.5 234.2,2246.4 237.5,2246.3 240.9,2246.2 244.3,2246.1 247.7,2246.0 251.0,2245.9 254.4,2245.8 257.8,2245.7 261.2,2245.6 264.5,2245.5 267.9,2245.4 271.3,2245.3 274.7,2245.2 278.1,2245.1 281.4,2245.1 284.8,2245.0 288.2,2244.9 291.6,2244.8 294.9,2244.7 298.3,2244.6 301.7,2244.6 305.1,2244.5 308.4,2244.4 311.8,2244.3 315.2,2244.2 318.6,2244.2 321.9,2244.1 325.3,2244.0 328.7,2243.9 332.1,2243.9 335.5,2243.8 338.8,2243.7 342.2,2243.7 345.6,2243.6 349.0,2243.5 352.3,2243.4 355.7,2243.4 359.1,2243.3 362.5,2243.2 365.8,2243.2 369.2,2243.1 372.6,2243.0 376.0,2243.0 379.4,2242.9 382.7,2242.9 386.1,2242.8 389.5,2242.7 392.9,2242.7 396.2,2242.6 399.6,2242.5 403.0,2242.5 406.4,2242.4 409.7,2242.4 413.1,2242.3 416.5,2242.2 419.9,2242.2 423.2,2242.1 426.6,2242.1 430.0,2242.0 433.4,2242.0 436.8,2241.9 440.1,2241.8 443.5,2241.8 446.9,2241.7 450.3,2241.7 453.6,2241.6 457.0,2241.6 460.4,2241.5 463.8,2241.5 467.1,2241.4 470.5,2241.4 473.9,2241.3 477.3,2241.3 480.7,2241.2 484.0,2241.2 487.4,2241.1 490.8,2241.1 494.2,2241.0 497.5,2241.0 500.9,2240.9 504.3,2240.9 507.7,2240.8 511.0,2240.8 514.4,2240.7 517.8,2240.7 521.2,2240.6 524.5,2240.6 527.9,2240.5 531.3,2240.5 534.7,2240.4 538.1,2240.4 541.4,2240.3 544.8,2240.3 548.2,2240.3 551.6,2240.2 554.9,2240.2 558.3,2240.1 561.7,2240.1 565.1,2240.0 568.4,2240.0 571.8,2239.9 575.2,2239.9 578.6,2239.9 582.0,2239.8 585.3,2239.8 588.7,2239.7 592.1,2239.7 595.5,2239.7 598.8,2239.6 602.2,2239.6 605.6,2239.5 609.0,2239.5 612.3,2239.4 615.7,2239.4 619.1,2239.4 622.5,2239.3 625.9,2239.3 629.2,2239.2 632.6,2239.2 636.0,2239.2 639.4,2239.1 642.7,2239.1 646.1,2239.0 649.5,2239.0 652.9,2239.0 656.2,2238.9 659.6,2238.9 663.0,2238.9 666.4,2238.8 669.7,2238.8 673.1,2238.7 676.5,2238.7"/>
<polyline class="cv" stroke="#77AC30" points="68.7,2276.2 72.1,2266.0 75.5,2263.0 78.8,2260.8 82.2,2259.0 85.6,2257.5 89.0,2256.2 92.3,2255.0 95.7,2253.9 99.1,2252.8 102.5,2251.9 105.8,2251.0 109.2,2250.1 112.6,2249.3 116.0,2248.5 119.3,2247.7 122.7,2247.0 126.1,2246.3 129.5,2245.6 132.9,2245.0 136.2,2244.4 139.6,2243.7 143.0,2243.1 146.4,2242.6 149.7,2242.0 153.1,2241.4 156.5,2240.9 159.9,2240.4 163.2,2239.8 166.6,2239.3 170.0,2238.8 173.4,2238.3 176.8,2237.9 180.1,2237.4 183.5,2236.9 186.9,2236.5 190.3,2236.0 193.6,2235.6 197.0,2235.1 200.4,2234.7 203.8,2234.3 207.1,2233.9 210.5,2233.5 213.9,2233.0 217.3,2232.6 220.6,2232.3 224.0,2231.9 227.4,2231.5 230.8,2231.1 234.2,2230.7 237.5,2230.3 240.9,2230.0 244.3,2229.6 247.7,2229.2 251.0,2228.9 254.4,2228.5 257.8,2228.2 261.2,2227.8 264.5,2227.5 267.9,2227.2 271.3,2226.8 274.7,2226.5 278.1,2226.2 281.4,2225.8 284.8,2225.5 288.2,2225.2 291.6,2224.9 294.9,2224.5 298.3,2224.2 301.7,2223.9 305.1,2223.6 308.4,2223.3 311.8,2223.0 315.2,2222.7 318.6,2222.4 321.9,2222.1 325.3,2221.8 328.7,2221.5 332.1,2221.2 335.5,2220.9 338.8,2220.6 342.2,2220.3 345.6,2220.1 349.0,2219.8 352.3,2219.5 355.7,2219.2 359.1,2218.9 362.5,2218.7 365.8,2218.4 369.2,2218.1 372.6,2217.8 376.0,2217.6 379.4,2217.3 382.7,2217.0 386.1,2216.8 389.5,2216.5 392.9,2216.3 396.2,2216.0 399.6,2215.7 403.0,2215.5 406.4,2215.2 409.7,2215.0 413.1,2214.7 416.5,2214.5 419.9,2214.2 423.2,2214.0 426.6,2213.7 430.0,2213.5 433.4,2213.2 436.8,2213.0 440.1,2212.7 443.5,2212.5 446.9,2212.3 450.3,2212.0 453.6,2211.8 457.0,2211.5 460.4,2211.3 463.8,2211.1 467.1,2210.8 470.5,2210.6 473.9,2210.4 477.3,2210.1 480.7,2209.9 484.0,2209.7 487.4,2209.5 490.8,2209.2 494.2,2209.0 497.5,2208.8 500.9,2208.6 504.3,2208.3 507.7,2208.1 511.0,2207.9 514.4,2207.7 517.8,2207.4 521.2,2207.2 524.5,2207.0 527.9,2206.8 531.3,2206.6 534.7,2206.4 538.1,2206.1 541.4,2205.9 544.8,2205.7 548.2,2205.5 551.6,2205.3 554.9,2205.1 558.3,2204.9 561.7,2204.7 565.1,2204.5 568.4,2204.2 571.8,2204.0 575.2,2203.8 578.6,2203.6 582.0,2203.4 585.3,2203.2 588.7,2203.0 592.1,2202.8 595.5,2202.6 598.8,2202.4 602.2,2202.2 605.6,2202.0 609.0,2201.8 612.3,2201.6 615.7,2201.4 619.1,2201.2 622.5,2201.0 625.9,2200.8 629.2,2200.6 632.6,2200.4 636.0,2200.2 639.4,2200.0 642.7,2199.8 646.1,2199.6 649.5,2199.5 652.9,2199.3 656.2,2199.1 659.6,2198.9 663.0,2198.7 666.4,2198.5 669.7,2198.3 673.1,2198.1 676.5,2197.9"/>
<polyline class="cv" stroke="#4DBEEE" points="68.7,2276.2 72.1,2269.8 75.5,2266.6 78.8,2264.1 82.2,2261.9 85.6,2259.9 89.0,2258.1 92.3,2256.4 95.7,2254.8 99.1,2253.2 102.5,2251.8 105.8,2250.3 109.2,2249.0 112.6,2247.6 116.0,2246.3 119.3,2245.1 122.7,2243.8 126.1,2242.6 129.5,2241.4 132.9,2240.3 136.2,2239.1 139.6,2238.0 143.0,2236.9 146.4,2235.8 149.7,2234.8 153.1,2233.7 156.5,2232.7 159.9,2231.7 163.2,2230.6 166.6,2229.6 170.0,2228.7 173.4,2227.7 176.8,2226.7 180.1,2225.7 183.5,2224.8 186.9,2223.9 190.3,2222.9 193.6,2222.0 197.0,2221.1 200.4,2220.2 203.8,2219.3 207.1,2218.4 210.5,2217.5 213.9,2216.6 217.3,2215.7 220.6,2214.8 224.0,2214.0 227.4,2213.1 230.8,2212.3 234.2,2211.4 237.5,2210.6 240.9,2209.7 244.3,2208.9 247.7,2208.1 251.0,2207.2 254.4,2206.4 257.8,2205.6 261.2,2204.8 264.5,2204.0 267.9,2203.2 271.3,2202.4 274.7,2201.6 278.1,2200.8 281.4,2200.0 284.8,2199.2 288.2,2198.4 291.6,2197.6 294.9,2196.8 298.3,2196.1 301.7,2195.3 305.1,2194.5 308.4,2193.7 311.8,2193.0 315.2,2192.2 318.6,2191.4 321.9,2190.7 325.3,2189.9 328.7,2189.2 332.1,2188.4 335.5,2187.7 338.8,2186.9 342.2,2186.2 345.6,2185.5 349.0,2184.7 352.3,2184.0 355.7,2183.2 359.1,2182.5 362.5,2181.8 365.8,2181.1 369.2,2180.3 372.6,2179.6 376.0,2178.9 379.4,2178.2 382.7,2177.4 386.1,2176.7 389.5,2176.0 392.9,2175.3 396.2,2174.6 399.6,2173.9 403.0,2173.2 406.4,2172.5 409.7,2171.8 413.1,2171.1 416.5,2170.4 419.9,2169.7 423.2,2169.0 426.6,2168.3 430.0,2167.6 433.4,2166.9 436.8,2166.2 440.1,2165.5 443.5,2164.8 446.9,2164.1 450.3,2163.4 453.6,2162.7 457.0,2162.0 460.4,2161.4 463.8,2160.7 467.1,2160.0 470.5,2159.3 473.9,2158.6 477.3,2158.0 480.7,2157.3 484.0,2156.6 487.4,2155.9 490.8,2155.3 494.2,2154.6 497.5,2153.9 500.9,2153.3 504.3,2152.6 507.7,2151.9 511.0,2151.3 514.4,2150.6 517.8,2149.9 521.2,2149.3 524.5,2148.6 527.9,2147.9 531.3,2147.3 534.7,2146.6 538.1,2146.0 541.4,2145.3 544.8,2144.7 548.2,2144.0 551.6,2143.3 554.9,2142.7 558.3,2142.0 561.7,2141.4 565.1,2140.7 568.4,2140.1 571.8,2139.4 575.2,2138.8 578.6,2138.1 582.0,2137.5 585.3,2136.9 588.7,2136.2 592.1,2135.6 595.5,2134.9 598.8,2134.3 602.2,2133.7 605.6,2133.0 609.0,2132.4 612.3,2131.7 615.7,2131.1 619.1,2130.5 622.5,2129.8 625.9,2129.2 629.2,2128.6 632.6,2127.9 636.0,2127.3 639.4,2126.7 642.7,2126.0 646.1,2125.4 649.5,2124.8 652.9,2124.2 656.2,2123.5 659.6,2122.9 663.0,2122.3 666.4,2121.6 669.7,2121.0 673.1,2120.4 676.5,2119.8"/>
<polyline class="cv" stroke="#A2142F" points="68.7,2276.2 72.1,2272.4 75.5,2269.7 78.8,2267.3 82.2,2265.0 85.6,2262.9 89.0,2260.9 92.3,2258.9 95.7,2257.0 99.1,2255.1 102.5,2253.3 105.8,2251.5 109.2,2249.7 112.6,2247.9 116.0,2246.2 119.3,2244.5 122.7,2242.8 126.1,2241.1 129.5,2239.4 132.9,2237.8 136.2,2236.1 139.6,2234.5 143.0,2232.8 146.4,2231.2 149.7,2229.6 153.1,2228.0 156.5,2226.4 159.9,2224.8 163.2,2223.2 166.6,2221.6 170.0,2220.1 173.4,2218.5 176.8,2216.9 180.1,2215.3 183.5,2213.8 186.9,2212.2 190.3,2210.6 193.6,2209.1 197.0,2207.5 200.4,2206.0 203.8,2204.4 207.1,2202.9 210.5,2201.3 213.9,2199.8 217.3,2198.2 220.6,2196.7 224.0,2195.1 227.4,2193.6 230.8,2192.0 234.2,2190.5 237.5,2189.0 240.9,2187.4 244.3,2185.9 247.7,2184.3 251.0,2182.8 254.4,2181.2 257.8,2179.7 261.2,2178.2 264.5,2176.6 267.9,2175.1 271.3,2173.5 274.7,2172.0 278.1,2170.4 281.4,2168.9 284.8,2167.3 288.2,2165.8 291.6,2164.2 294.9,2162.7 298.3,2161.1 301.7,2159.6 305.1,2158.0 308.4,2156.5 311.8,2154.9 315.2,2153.4 318.6,2151.8 321.9,2150.3 325.3,2148.7 328.7,2147.2 332.1,2145.6 335.5,2144.0 338.8,2142.5 342.2,2140.9 345.6,2139.3 349.0,2137.8 352.3,2136.2 355.7,2134.6 359.1,2133.1 362.5,2131.5 365.8,2129.9 369.2,2128.4 372.6,2126.8 376.0,2125.2 379.4,2123.7 382.7,2122.1 386.1,2120.5 389.5,2118.9 392.9,2117.4 396.2,2115.8 399.6,2114.2 403.0,2112.6 406.4,2111.0 409.7,2109.5 413.1,2107.9 416.5,2106.3 419.9,2104.7 423.2,2103.1 426.6,2101.5 430.0,2100.0 433.4,2098.4 436.8,2096.8 440.1,2095.2 443.5,2093.6 446.9,2092.0 450.3,2090.4 453.6,2088.8 457.0,2087.3 460.4,2085.7 463.8,2084.1 467.1,2082.5 470.5,2080.9 473.9,2079.3 477.3,2077.7 480.7,2076.1 484.0,2074.5 487.4,2072.9 490.8,2071.4 494.2,2069.8 497.5,2068.2 500.9,2066.6 504.3,2065.0 507.7,2063.4 511.0,2061.8 514.4,2060.2 517.8,2058.7 521.2,2057.1 524.5,2055.5 527.9,2053.9 531.3,2052.3 534.7,2050.7 538.1,2049.2 541.4,2047.6 544.8,2046.0 548.2,2044.4 551.6,2042.9 554.9,2041.3 558.3,2039.7 561.7,2038.1 565.1,2036.6 568.4,2035.0 571.8,2033.4 575.2,2031.9 578.6,2030.3 582.0,2028.8 585.3,2027.2 588.7,2025.6 592.1,2024.1 595.5,2022.5 598.8,2021.0 602.2,2019.5 605.6,2017.9 609.0,2016.4 612.3,2014.8 615.7,2013.3 619.1,2011.8 622.5,2010.3 625.9,2008.7 629.2,2007.2 632.6,2005.7 636.0,2004.2 639.4,2002.7 642.7,2001.2 646.1,1999.7 649.5,1998.2 652.9,1996.7 656.2,1995.2 659.6,1993.7 663.0,1992.2 666.4,1990.7 669.7,1989.3 673.1,1987.8 676.5,1986.3"/>
<polyline class="cv" stroke="#0072BD" points="68.7,2276.2 72.1,2273.9 75.5,2271.8 78.8,2269.6 82.2,2267.5 85.6,2265.4 89.0,2263.3 92.3,2261.2 95.7,2259.1 99.1,2257.0 102.5,2254.8 105.8,2252.7 109.2,2250.6 112.6,2248.4 116.0,2246.3 119.3,2244.1 122.7,2242.0 126.1,2239.8 129.5,2237.6 132.9,2235.4 136.2,2233.2 139.6,2231.0 143.0,2228.8 146.4,2226.6 149.7,2224.4 153.1,2222.1 156.5,2219.8 159.9,2217.6 163.2,2215.3 166.6,2213.0 170.0,2210.7 173.4,2208.4 176.8,2206.1 180.1,2203.7 183.5,2201.4 186.9,2199.0 190.3,2196.7 193.6,2194.3 197.0,2191.9 200.4,2189.5 203.8,2187.1 207.1,2184.6 210.5,2182.2 213.9,2179.7 217.3,2177.3 220.6,2174.8 224.0,2172.3 227.4,2169.8 230.8,2167.3 234.2,2164.8 237.5,2162.3 240.9,2159.7 244.3,2157.1 247.7,2154.6 251.0,2152.0 254.4,2149.4 257.8,2146.8 261.2,2144.2 264.5,2141.6 267.9,2138.9 271.3,2136.3 274.7,2133.6 278.1,2130.9 281.4,2128.3 284.8,2125.6 288.2,2122.9 291.6,2120.1 294.9,2117.4 298.3,2114.7 301.7,2111.9 305.1,2109.2 308.4,2106.4 311.8,2103.6 315.2,2100.8 318.6,2098.0 321.9,2095.2 325.3,2092.4 328.7,2089.6 332.1,2086.7 335.5,2083.9 338.8,2081.0 342.2,2078.2 345.6,2075.3 349.0,2072.4 352.3,2069.5 355.7,2066.6 359.1,2063.7 362.5,2060.8 365.8,2057.9 369.2,2055.0 372.6,2052.1 376.0,2049.2 379.4,2046.2 382.7,2043.3 386.1,2040.4 389.5,2037.4 392.9,2034.5 396.2,2031.5 399.6,2028.6 403.0,2025.6 406.4,2022.7 409.7,2019.7 413.1,2016.8 416.5,2013.8 419.9,2010.9 423.2,2007.9 426.6,2005.0 430.0,2002.1 433.4,1999.1 436.8,1996.2 440.1,1993.3 443.5,1990.4 446.9,1987.4 450.3,1984.5 453.6,1981.6 457.0,1978.7 460.4,1975.9 463.8,1973.0 467.1,1970.1 470.5,1967.3 473.9,1964.5 477.3,1961.6 480.7,1958.8 484.0,1956.0 487.4,1953.2 490.8,1950.5 494.2,1947.7 497.5,1945.0 500.9,1942.3 504.3,1939.6 507.7,1936.9 511.0,1934.3 514.4,1931.7 517.8,1929.0 521.2,1926.5 524.5,1923.9 527.9,1921.4 531.3,1918.8 534.7,1916.4 538.1,1913.9 541.4,1911.5 544.8,1909.0 548.2,1906.7 551.6,1904.3 554.9,1902.0 558.3,1899.7 561.7,1897.4 565.1,1895.2 568.4,1893.0 571.8,1890.8 575.2,1888.7 578.6,1886.5 582.0,1884.5 585.3,1882.4 588.7,1880.4 592.1,1878.4 595.5,1876.4 598.8,1874.5 602.2,1872.6 605.6,1870.8 609.0,1869.0 612.3,1867.2 615.7,1865.4 619.1,1863.7 622.5,1862.0 625.9,1860.4 629.2,1858.7 632.6,1857.1 636.0,1855.6 639.4,1854.1 642.7,1852.6 646.1,1851.1 649.5,1849.7 652.9,1848.3 656.2,1846.9 659.6,1845.6 663.0,1844.3 666.4,1843.0 669.7,1841.7 673.1,1840.5 676.5,1839.3"/>
<polyline class="cv" stroke="#D95319" points="68.7,2276.2 72.1,2274.2 75.5,2272.1 78.8,2270.1 82.2,2268.0 85.6,2265.9 89.0,2263.8 92.3,2261.7 95.7,2259.5 99.1,2257.4 102.5,2255.2 105.8,2253.1 109.2,2250.9 112.6,2248.7 116.0,2246.4 119.3,2244.2 122.7,2242.0 126.1,2239.7 129.5,2237.4 132.9,2235.1 136.2,2232.8 139.6,2230.5 143.0,2228.2 146.4,2225.8 149.7,2223.5 153.1,2221.1 156.5,2218.7 159.9,2216.3 163.2,2213.9 166.6,2211.4 170.0,2209.0 173.4,2206.5 176.8,2204.0 180.1,2201.5 183.5,2199.0 186.9,2196.5 190.3,2193.9 193.6,2191.4 197.0,2188.8 200.4,2186.2 203.8,2183.6 207.1,2180.9 210.5,2178.3 213.9,2175.7 217.3,2173.0 220.6,2170.3 224.0,2167.6 227.4,2164.9 230.8,2162.1 234.2,2159.4 237.5,2156.6 240.9,2153.8 244.3,2151.0 247.7,2148.2 251.0,2145.4 254.4,2142.6 257.8,2139.7 261.2,2136.8 264.5,2133.9 267.9,2131.0 271.3,2128.1 274.7,2125.2 278.1,2122.2 281.4,2119.3 284.8,2116.3 288.2,2113.3 291.6,2110.3 294.9,2107.3 298.3,2104.3 301.7,2101.2 305.1,2098.2 308.4,2095.1 311.8,2092.0 315.2,2088.9 318.6,2085.8 321.9,2082.7 325.3,2079.6 328.7,2076.4 332.1,2073.3 335.5,2070.1 338.8,2066.9 342.2,2063.8 345.6,2060.6 349.0,2057.4 352.3,2054.2 355.7,2050.9 359.1,2047.7 362.5,2044.5 365.8,2041.2 369.2,2038.0 372.6,2034.7 376.0,2031.5 379.4,2028.2 382.7,2025.0 386.1,2021.7 389.5,2018.4 392.9,2015.1 396.2,2011.9 399.6,2008.6 403.0,2005.3 406.4,2002.0 409.7,1998.8 413.1,1995.5 416.5,1992.2 419.9,1989.0 423.2,1985.7 426.6,1982.5 430.0,1979.2 433.4,1976.0 436.8,1972.8 440.1,1969.5 443.5,1966.3 446.9,1963.1 450.3,1959.9 453.6,1956.8 457.0,1953.6 460.4,1950.5 463.8,1947.3 467.1,1944.2 470.5,1941.1 473.9,1938.1 477.3,1935.0 480.7,1932.0 484.0,1929.0 487.4,1926.0 490.8,1923.0 494.2,1920.1 497.5,1917.2 500.9,1914.3 504.3,1911.4 507.7,1908.6 511.0,1905.8 514.4,1903.0 517.8,1900.3 521.2,1897.6 524.5,1894.9 527.9,1892.3 531.3,1889.7 534.7,1887.1 538.1,1884.6 541.4,1882.1 544.8,1879.6 548.2,1877.2 551.6,1874.8 554.9,1872.4 558.3,1870.1 561.7,1867.9 565.1,1865.6 568.4,1863.4 571.8,1861.3 575.2,1859.2 578.6,1857.1 582.0,1855.0 585.3,1853.0 588.7,1851.1 592.1,1849.2 595.5,1847.3 598.8,1845.5 602.2,1843.7 605.6,1841.9 609.0,1840.2 612.3,1838.5 615.7,1836.9 619.1,1835.3 622.5,1833.7 625.9,1832.2 629.2,1830.7 632.6,1829.3 636.0,1827.9 639.4,1826.5 642.7,1825.2 646.1,1823.9 649.5,1822.6 652.9,1821.4 656.2,1820.2 659.6,1819.0 663.0,1817.9 666.4,1816.8 669.7,1815.7 673.1,1814.7 676.5,1813.7"/>
</g>
<text class="tk" x="68.7" y="2302.6" text-anchor="middle">0</text>
<text class="tk" x="136.2" y="2302.6" text-anchor="middle">2</text>
<text class="tk" x="203.8" y="2302.6" text-anchor="middle">4</text>
<text class="tk" x="271.3" y="2302.6" text-anchor="middle">6</text>
<text class="tk" x="338.8" y="2302.6" text-anchor="middle">8</text>
<text class="tk" x="406.4" y="2302.6" text-anchor="middle">10</text>
<text class="tk" x="473.9" y="2302.6" text-anchor="middle">12</text>
<text class="tk" x="541.4" y="2302.6" text-anchor="middle">14</text>
<text class="tk" x="609.0" y="2302.6" text-anchor="middle">16</text>
<text class="tk" x="676.5" y="2302.6" text-anchor="middle">18</text>
<text class="tk" x="61.1" y="2283.4" text-anchor="end">1</text>
<text class="tk" x="61.1" y="2223.5" text-anchor="end">1.2</text>
<text class="tk" x="61.1" y="2163.6" text-anchor="end">1.4</text>
<text class="tk" x="61.1" y="2103.7" text-anchor="end">1.6</text>
<text class="tk" x="61.1" y="2043.8" text-anchor="end">1.8</text>
<text class="tk" x="61.1" y="1983.9" text-anchor="end">2</text>
<text class="tk" x="61.1" y="1924.0" text-anchor="end">2.2</text>
<text class="tk" x="61.1" y="1864.1" text-anchor="end">2.4</text>
<text class="tk" x="61.1" y="1804.2" text-anchor="end">2.6</text>
<text class="lb" x="372.6" y="2331.0" text-anchor="middle">time[days]</text>
<text class="lb" transform="translate(23.2 2037.2) rotate(-90)" text-anchor="middle">volume [mm<tspan dx="0.8" dy="-9" font-size="17">3</tspan><tspan dx="0.6" dy="9">]</tspan></text>
<rect x="86.7" y="1811.3" width="198.5" height="204.6" fill="#fff" stroke="#484848" stroke-width="1.4"/>
<circle class="mk" cx="120.2" cy="1824.6" r="5.8"/>
<text class="lg" x="153.7" y="1830.6">DiscreteMeasure</text>
<path d="M92.5 1846.9H147.9" stroke="#D95319" stroke-width="1.3" stroke-opacity="0.8"/>
<text class="lg" x="153.7" y="1852.9">InterpolatedData</text>
<path d="M92.5 1869.2H147.9" stroke="#EDB120" stroke-width="1.3" stroke-opacity="0.8"/>
<text class="lg" x="153.7" y="1875.2">IntegerOrder</text>
<path d="M92.5 1891.4H147.9" stroke="#7E2F8E" stroke-width="1.3" stroke-opacity="0.8"/>
<text class="lg" x="153.7" y="1897.4">order0.16</text>
<path d="M92.5 1913.7H147.9" stroke="#77AC30" stroke-width="1.3" stroke-opacity="0.8"/>
<text class="lg" x="153.7" y="1919.7">order0.36</text>
<path d="M92.5 1936.0H147.9" stroke="#4DBEEE" stroke-width="1.3" stroke-opacity="0.8"/>
<text class="lg" x="153.7" y="1942.0">order0.56</text>
<path d="M92.5 1958.3H147.9" stroke="#A2142F" stroke-width="1.3" stroke-opacity="0.8"/>
<text class="lg" x="153.7" y="1964.3">order0.76</text>
<path d="M92.5 1980.6H147.9" stroke="#0072BD" stroke-width="1.3" stroke-opacity="0.8"/>
<text class="lg" x="153.7" y="1986.6">order0.96</text>
<path d="M92.5 2002.8H147.9" stroke="#D95319" stroke-width="1.3" stroke-opacity="0.8"/>
<text class="lg" x="153.7" y="2008.8">order1</text>
</g>
<g id="plot8">
<clipPath id="cp8"><rect x="793.5" y="1795.8" width="609.5" height="480.5"/></clipPath>
<path class="grid" d="M862.0 1796.8V2275.3M929.5 1796.8V2275.3M997.0 1796.8V2275.3M1064.5 1796.8V2275.3M1132.0 1796.8V2275.3M1199.5 1796.8V2275.3M1267.0 1796.8V2275.3M1334.5 1796.8V2275.3M794.5 2180.6H1402.0M794.5 2084.6H1402.0M794.5 1988.7H1402.0M794.5 1892.7H1402.0"/>
<path class="ax" d="M794.5 1796.8H1402.0V2275.3H794.5ZM862.0 2275.3v-6.0M862.0 1796.8v6.0M929.5 2275.3v-6.0M929.5 1796.8v6.0M997.0 2275.3v-6.0M997.0 1796.8v6.0M1064.5 2275.3v-6.0M1064.5 1796.8v6.0M1132.0 2275.3v-6.0M1132.0 1796.8v6.0M1199.5 2275.3v-6.0M1199.5 1796.8v6.0M1267.0 2275.3v-6.0M1267.0 1796.8v6.0M1334.5 2275.3v-6.0M1334.5 1796.8v6.0M794.5 2180.6h6.0M1402.0 2180.6h-6.0M794.5 2084.6h6.0M1402.0 2084.6h-6.0M794.5 1988.7h6.0M1402.0 1988.7h-6.0M794.5 1892.7h6.0M1402.0 1892.7h-6.0"/>
<circle class="mk" cx="794.5" cy="2276.5" r="5.8"/>
<circle class="mk" cx="929.5" cy="2180.6" r="5.8"/>
<circle class="mk" cx="1030.8" cy="2142.2" r="5.8"/>
<circle class="mk" cx="1098.2" cy="2084.6" r="5.8"/>
<circle class="mk" cx="1165.8" cy="1931.1" r="5.8"/>
<circle class="mk" cx="1300.8" cy="1902.3" r="5.8"/>
<circle class="mk" cx="1402.0" cy="1864.0" r="5.8"/>
<g clip-path="url(#cp8)">
<polyline class="cv" stroke="#D95319" points="794.5,2276.5 796.2,2274.7 797.9,2272.9 799.6,2271.1 801.2,2269.4 802.9,2267.7 804.6,2265.9 806.3,2264.3 808.0,2262.6 809.7,2260.9 811.4,2259.3 813.1,2257.7 814.8,2256.1 816.4,2254.5 818.1,2252.9 819.8,2251.4 821.5,2249.8 823.2,2248.3 824.9,2246.8 826.6,2245.4 828.2,2243.9 829.9,2242.4 831.6,2241.0 833.3,2239.6 835.0,2238.2 836.7,2236.8 838.4,2235.5 840.1,2234.1 841.8,2232.8 843.4,2231.4 845.1,2230.1 846.8,2228.8 848.5,2227.6 850.2,2226.3 851.9,2225.1 853.6,2223.8 855.2,2222.6 856.9,2221.4 858.6,2220.2 860.3,2219.0 862.0,2217.9 863.7,2216.7 865.4,2215.6 867.1,2214.5 868.8,2213.4 870.4,2212.3 872.1,2211.2 873.8,2210.1 875.5,2209.0 877.2,2208.0 878.9,2207.0 880.6,2205.9 882.2,2204.9 883.9,2203.9 885.6,2202.9 887.3,2201.9 889.0,2201.0 890.7,2200.0 892.4,2199.1 894.1,2198.1 895.8,2197.2 897.4,2196.3 899.1,2195.4 900.8,2194.5 902.5,2193.6 904.2,2192.7 905.9,2191.8 907.6,2191.0 909.2,2190.1 910.9,2189.3 912.6,2188.5 914.3,2187.6 916.0,2186.8 917.7,2186.0 919.4,2185.2 921.1,2184.4 922.8,2183.6 924.4,2182.8 926.1,2182.1 927.8,2181.3 929.5,2180.6 931.2,2179.8 932.9,2179.1 934.6,2178.3 936.2,2177.6 937.9,2176.9 939.6,2176.2 941.3,2175.5 943.0,2174.8 944.7,2174.1 946.4,2173.4 948.1,2172.7 949.8,2172.0 951.4,2171.3 953.1,2170.6 954.8,2170.0 956.5,2169.3 958.2,2168.7 959.9,2168.0 961.6,2167.3 963.2,2166.7 964.9,2166.1 966.6,2165.4 968.3,2164.8 970.0,2164.1 971.7,2163.5 973.4,2162.9 975.1,2162.3 976.8,2161.6 978.4,2161.0 980.1,2160.4 981.8,2159.8 983.5,2159.2 985.2,2158.6 986.9,2158.0 988.6,2157.4 990.2,2156.7 991.9,2156.1 993.6,2155.5 995.3,2154.9 997.0,2154.3 998.7,2153.7 1000.4,2153.1 1002.1,2152.5 1003.8,2151.9 1005.4,2151.3 1007.1,2150.7 1008.8,2150.1 1010.5,2149.5 1012.2,2148.9 1013.9,2148.3 1015.6,2147.7 1017.2,2147.1 1018.9,2146.5 1020.6,2145.9 1022.3,2145.3 1024.0,2144.7 1025.7,2144.0 1027.4,2143.4 1029.1,2142.8 1030.8,2142.2 1032.4,2141.6 1034.1,2140.9 1035.8,2140.3 1037.5,2139.6 1039.2,2139.0 1040.9,2138.3 1042.6,2137.6 1044.2,2136.9 1045.9,2136.1 1047.6,2135.3 1049.3,2134.5 1051.0,2133.7 1052.7,2132.8 1054.4,2131.9 1056.1,2130.9 1057.8,2129.9 1059.4,2128.9 1061.1,2127.8 1062.8,2126.6 1064.5,2125.4 1066.2,2124.1 1067.9,2122.8 1069.6,2121.3 1071.2,2119.9 1072.9,2118.3 1074.6,2116.7 1076.3,2115.0 1078.0,2113.2 1079.7,2111.4 1081.4,2109.4 1083.1,2107.4 1084.8,2105.3 1086.4,2103.0 1088.1,2100.7 1089.8,2098.3 1091.5,2095.8 1093.2,2093.2 1094.9,2090.4 1096.6,2087.6 1098.2,2084.6 1099.9,2081.5 1101.6,2078.4 1103.3,2075.1 1105.0,2071.7 1106.7,2068.2 1108.4,2064.6 1110.1,2061.0 1111.8,2057.2 1113.4,2053.4 1115.1,2049.5 1116.8,2045.6 1118.5,2041.6 1120.2,2037.6 1121.9,2033.5 1123.6,2029.4 1125.2,2025.2 1126.9,2021.1 1128.6,2016.9 1130.3,2012.7 1132.0,2008.4 1133.7,2004.2 1135.4,2000.0 1137.1,1995.8 1138.8,1991.6 1140.4,1987.4 1142.1,1983.3 1143.8,1979.2 1145.5,1975.1 1147.2,1971.1 1148.9,1967.1 1150.6,1963.1 1152.2,1959.3 1153.9,1955.5 1155.6,1951.7 1157.3,1948.1 1159.0,1944.5 1160.7,1941.0 1162.4,1937.6 1164.1,1934.3 1165.8,1931.1 1167.4,1928.0 1169.1,1925.1 1170.8,1922.2 1172.5,1919.5 1174.2,1916.8 1175.9,1914.3 1177.6,1911.8 1179.2,1909.5 1180.9,1907.2 1182.6,1905.1 1184.3,1903.0 1186.0,1901.1 1187.7,1899.2 1189.4,1897.4 1191.1,1895.7 1192.8,1894.1 1194.4,1892.6 1196.1,1891.2 1197.8,1889.9 1199.5,1888.6 1201.2,1887.4 1202.9,1886.3 1204.6,1885.3 1206.2,1884.3 1207.9,1883.4 1209.6,1882.6 1211.3,1881.9 1213.0,1881.2 1214.7,1880.6 1216.4,1880.1 1218.1,1879.6 1219.8,1879.2 1221.4,1878.9 1223.1,1878.6 1224.8,1878.3 1226.5,1878.2 1228.2,1878.0 1229.9,1878.0 1231.6,1878.0 1233.2,1878.0 1234.9,1878.1 1236.6,1878.2 1238.3,1878.4 1240.0,1878.6 1241.7,1878.9 1243.4,1879.2 1245.1,1879.5 1246.8,1879.9 1248.4,1880.3 1250.1,1880.8 1251.8,1881.2 1253.5,1881.7 1255.2,1882.3 1256.9,1882.9 1258.6,1883.5 1260.2,1884.1 1261.9,1884.7 1263.6,1885.4 1265.3,1886.1 1267.0,1886.8 1268.7,1887.5 1270.4,1888.2 1272.1,1889.0 1273.8,1889.7 1275.4,1890.5 1277.1,1891.3 1278.8,1892.1 1280.5,1892.9 1282.2,1893.7 1283.9,1894.5 1285.6,1895.3 1287.2,1896.1 1288.9,1896.9 1290.6,1897.7 1292.3,1898.5 1294.0,1899.3 1295.7,1900.1 1297.4,1900.8 1299.1,1901.6 1300.8,1902.3 1302.4,1903.1 1304.1,1903.8 1305.8,1904.5 1307.5,1905.2 1309.2,1905.8 1310.9,1906.4 1312.6,1907.1 1314.2,1907.6 1315.9,1908.2 1317.6,1908.7 1319.3,1909.2 1321.0,1909.7 1322.7,1910.1 1324.4,1910.5 1326.1,1910.9 1327.8,1911.2 1329.4,1911.5 1331.1,1911.7 1332.8,1911.9 1334.5,1912.1 1336.2,1912.2 1337.9,1912.3 1339.6,1912.3 1341.2,1912.3 1342.9,1912.2 1344.6,1912.0 1346.3,1911.8 1348.0,1911.6 1349.7,1911.3 1351.4,1910.9 1353.1,1910.4 1354.8,1910.0 1356.4,1909.4 1358.1,1908.8 1359.8,1908.1 1361.5,1907.3 1363.2,1906.5 1364.9,1905.5 1366.6,1904.6 1368.2,1903.5 1369.9,1902.4 1371.6,1901.1 1373.3,1899.9 1375.0,1898.5 1376.7,1897.0 1378.4,1895.5 1380.1,1893.8 1381.8,1892.1 1383.4,1890.3 1385.1,1888.4 1386.8,1886.4 1388.5,1884.3 1390.2,1882.1 1391.9,1879.8 1393.6,1877.4 1395.2,1874.9 1396.9,1872.4 1398.6,1869.7 1400.3,1866.9 1402.0,1864.0"/>
<polyline class="cv" stroke="#7E2F8E" points="794.5,2276.5 797.9,2264.2 801.2,2262.6 804.6,2261.6 808.0,2260.9 811.4,2260.3 814.8,2259.8 818.1,2259.4 821.5,2259.0 824.9,2258.6 828.2,2258.3 831.6,2258.0 835.0,2257.8 838.4,2257.5 841.8,2257.3 845.1,2257.0 848.5,2256.8 851.9,2256.6 855.2,2256.4 858.6,2256.2 862.0,2256.1 865.4,2255.9 868.8,2255.7 872.1,2255.6 875.5,2255.4 878.9,2255.2 882.2,2255.1 885.6,2255.0 889.0,2254.8 892.4,2254.7 895.8,2254.5 899.1,2254.4 902.5,2254.3 905.9,2254.1 909.2,2254.0 912.6,2253.9 916.0,2253.8 919.4,2253.6 922.8,2253.5 926.1,2253.4 929.5,2253.3 932.9,2253.2 936.2,2253.1 939.6,2252.9 943.0,2252.8 946.4,2252.7 949.8,2252.6 953.1,2252.5 956.5,2252.4 959.9,2252.3 963.2,2252.2 966.6,2252.1 970.0,2252.0 973.4,2251.9 976.8,2251.8 980.1,2251.7 983.5,2251.5 986.9,2251.4 990.2,2251.3 993.6,2251.2 997.0,2251.1 1000.4,2251.1 1003.8,2251.0 1007.1,2250.9 1010.5,2250.8 1013.9,2250.7 1017.2,2250.6 1020.6,2250.5 1024.0,2250.4 1027.4,2250.3 1030.8,2250.2 1034.1,2250.1 1037.5,2250.0 1040.9,2249.9 1044.2,2249.8 1047.6,2249.7 1051.0,2249.6 1054.4,2249.6 1057.8,2249.5 1061.1,2249.4 1064.5,2249.3 1067.9,2249.2 1071.2,2249.1 1074.6,2249.0 1078.0,2248.9 1081.4,2248.9 1084.8,2248.8 1088.1,2248.7 1091.5,2248.6 1094.9,2248.5 1098.2,2248.5 1101.6,2248.4 1105.0,2248.3 1108.4,2248.2 1111.8,2248.1 1115.1,2248.1 1118.5,2248.0 1121.9,2247.9 1125.2,2247.8 1128.6,2247.8 1132.0,2247.7 1135.4,2247.6 1138.8,2247.5 1142.1,2247.5 1145.5,2247.4 1148.9,2247.3 1152.2,2247.3 1155.6,2247.2 1159.0,2247.1 1162.4,2247.1 1165.8,2247.0 1169.1,2246.9 1172.5,2246.9 1175.9,2246.8 1179.2,2246.7 1182.6,2246.7 1186.0,2246.6 1189.4,2246.6 1192.8,2246.5 1196.1,2246.5 1199.5,2246.4 1202.9,2246.3 1206.2,2246.3 1209.6,2246.2 1213.0,2246.2 1216.4,2246.1 1219.8,2246.1 1223.1,2246.0 1226.5,2246.0 1229.9,2245.9 1233.2,2245.9 1236.6,2245.9 1240.0,2245.8 1243.4,2245.8 1246.8,2245.7 1250.1,2245.7 1253.5,2245.7 1256.9,2245.6 1260.2,2245.6 1263.6,2245.6 1267.0,2245.5 1270.4,2245.5 1273.8,2245.5 1277.1,2245.5 1280.5,2245.4 1283.9,2245.4 1287.2,2245.4 1290.6,2245.4 1294.0,2245.3 1297.4,2245.3 1300.8,2245.3 1304.1,2245.3 1307.5,2245.3 1310.9,2245.3 1314.2,2245.3 1317.6,2245.2 1321.0,2245.2 1324.4,2245.2 1327.8,2245.2 1331.1,2245.2 1334.5,2245.2 1337.9,2245.2 1341.2,2245.2 1344.6,2245.2 1348.0,2245.2 1351.4,2245.3 1354.8,2245.3 1358.1,2245.3 1361.5,2245.3 1364.9,2245.3 1368.2,2245.3 1371.6,2245.3 1375.0,2245.4 1378.4,2245.4 1381.8,2245.4 1385.1,2245.4 1388.5,2245.5 1391.9,2245.5 1395.2,2245.5 1398.6,2245.6 1402.0,2245.6"/>
<polyline class="cv" stroke="#77AC30" points="794.5,2276.5 797.9,2268.0 801.2,2265.5 804.6,2263.7 808.0,2262.3 811.4,2261.1 814.8,2260.0 818.1,2259.1 821.5,2258.2 824.9,2257.4 828.2,2256.6 831.6,2255.9 835.0,2255.2 838.4,2254.6 841.8,2253.9 845.1,2253.3 848.5,2252.8 851.9,2252.2 855.2,2251.7 858.6,2251.2 862.0,2250.7 865.4,2250.2 868.8,2249.7 872.1,2249.2 875.5,2248.8 878.9,2248.3 882.2,2247.9 885.6,2247.4 889.0,2247.0 892.4,2246.6 895.8,2246.2 899.1,2245.8 902.5,2245.4 905.9,2245.0 909.2,2244.6 912.6,2244.2 916.0,2243.8 919.4,2243.5 922.8,2243.1 926.1,2242.7 929.5,2242.3 932.9,2242.0 936.2,2241.6 939.6,2241.3 943.0,2240.9 946.4,2240.6 949.8,2240.2 953.1,2239.9 956.5,2239.5 959.9,2239.2 963.2,2238.8 966.6,2238.5 970.0,2238.2 973.4,2237.8 976.8,2237.5 980.1,2237.2 983.5,2236.9 986.9,2236.5 990.2,2236.2 993.6,2235.9 997.0,2235.6 1000.4,2235.2 1003.8,2234.9 1007.1,2234.6 1010.5,2234.3 1013.9,2234.0 1017.2,2233.7 1020.6,2233.3 1024.0,2233.0 1027.4,2232.7 1030.8,2232.4 1034.1,2232.1 1037.5,2231.8 1040.9,2231.5 1044.2,2231.2 1047.6,2230.9 1051.0,2230.6 1054.4,2230.3 1057.8,2230.0 1061.1,2229.7 1064.5,2229.4 1067.9,2229.1 1071.2,2228.8 1074.6,2228.5 1078.0,2228.2 1081.4,2227.9 1084.8,2227.6 1088.1,2227.3 1091.5,2227.0 1094.9,2226.7 1098.2,2226.4 1101.6,2226.1 1105.0,2225.8 1108.4,2225.6 1111.8,2225.3 1115.1,2225.0 1118.5,2224.7 1121.9,2224.4 1125.2,2224.1 1128.6,2223.8 1132.0,2223.6 1135.4,2223.3 1138.8,2223.0 1142.1,2222.7 1145.5,2222.4 1148.9,2222.2 1152.2,2221.9 1155.6,2221.6 1159.0,2221.3 1162.4,2221.1 1165.8,2220.8 1169.1,2220.5 1172.5,2220.3 1175.9,2220.0 1179.2,2219.7 1182.6,2219.5 1186.0,2219.2 1189.4,2218.9 1192.8,2218.7 1196.1,2218.4 1199.5,2218.1 1202.9,2217.9 1206.2,2217.6 1209.6,2217.4 1213.0,2217.1 1216.4,2216.8 1219.8,2216.6 1223.1,2216.3 1226.5,2216.1 1229.9,2215.8 1233.2,2215.6 1236.6,2215.3 1240.0,2215.1 1243.4,2214.8 1246.8,2214.6 1250.1,2214.4 1253.5,2214.1 1256.9,2213.9 1260.2,2213.6 1263.6,2213.4 1267.0,2213.2 1270.4,2212.9 1273.8,2212.7 1277.1,2212.5 1280.5,2212.2 1283.9,2212.0 1287.2,2211.8 1290.6,2211.6 1294.0,2211.3 1297.4,2211.1 1300.8,2210.9 1304.1,2210.7 1307.5,2210.5 1310.9,2210.2 1314.2,2210.0 1317.6,2209.8 1321.0,2209.6 1324.4,2209.4 1327.8,2209.2 1331.1,2209.0 1334.5,2208.8 1337.9,2208.6 1341.2,2208.4 1344.6,2208.2 1348.0,2208.0 1351.4,2207.8 1354.8,2207.6 1358.1,2207.4 1361.5,2207.2 1364.9,2207.0 1368.2,2206.8 1371.6,2206.7 1375.0,2206.5 1378.4,2206.3 1381.8,2206.1 1385.1,2206.0 1388.5,2205.8 1391.9,2205.6 1395.2,2205.4 1398.6,2205.3 1402.0,2205.1"/>
<polyline class="cv" stroke="#4DBEEE" points="794.5,2276.5 797.9,2271.1 801.2,2268.6 804.6,2266.7 808.0,2265.0 811.4,2263.4 814.8,2262.0 818.1,2260.7 821.5,2259.5 824.9,2258.3 828.2,2257.2 831.6,2256.1 835.0,2255.0 838.4,2254.0 841.8,2253.0 845.1,2252.0 848.5,2251.1 851.9,2250.1 855.2,2249.2 858.6,2248.3 862.0,2247.3 865.4,2246.4 868.8,2245.6 872.1,2244.7 875.5,2243.8 878.9,2242.9 882.2,2242.1 885.6,2241.2 889.0,2240.3 892.4,2239.5 895.8,2238.6 899.1,2237.8 902.5,2236.9 905.9,2236.1 909.2,2235.3 912.6,2234.4 916.0,2233.6 919.4,2232.8 922.8,2231.9 926.1,2231.1 929.5,2230.3 932.9,2229.4 936.2,2228.6 939.6,2227.8 943.0,2226.9 946.4,2226.1 949.8,2225.3 953.1,2224.4 956.5,2223.6 959.9,2222.8 963.2,2221.9 966.6,2221.1 970.0,2220.3 973.4,2219.4 976.8,2218.6 980.1,2217.7 983.5,2216.9 986.9,2216.1 990.2,2215.2 993.6,2214.4 997.0,2213.5 1000.4,2212.7 1003.8,2211.8 1007.1,2211.0 1010.5,2210.2 1013.9,2209.3 1017.2,2208.5 1020.6,2207.6 1024.0,2206.8 1027.4,2205.9 1030.8,2205.1 1034.1,2204.2 1037.5,2203.3 1040.9,2202.5 1044.2,2201.6 1047.6,2200.8 1051.0,2199.9 1054.4,2199.1 1057.8,2198.2 1061.1,2197.3 1064.5,2196.5 1067.9,2195.6 1071.2,2194.8 1074.6,2193.9 1078.0,2193.0 1081.4,2192.2 1084.8,2191.3 1088.1,2190.4 1091.5,2189.6 1094.9,2188.7 1098.2,2187.9 1101.6,2187.0 1105.0,2186.1 1108.4,2185.3 1111.8,2184.4 1115.1,2183.5 1118.5,2182.7 1121.9,2181.8 1125.2,2180.9 1128.6,2180.1 1132.0,2179.2 1135.4,2178.3 1138.8,2177.5 1142.1,2176.6 1145.5,2175.7 1148.9,2174.9 1152.2,2174.0 1155.6,2173.1 1159.0,2172.3 1162.4,2171.4 1165.8,2170.6 1169.1,2169.7 1172.5,2168.8 1175.9,2168.0 1179.2,2167.1 1182.6,2166.3 1186.0,2165.4 1189.4,2164.6 1192.8,2163.7 1196.1,2162.8 1199.5,2162.0 1202.9,2161.1 1206.2,2160.3 1209.6,2159.4 1213.0,2158.6 1216.4,2157.8 1219.8,2156.9 1223.1,2156.1 1226.5,2155.2 1229.9,2154.4 1233.2,2153.6 1236.6,2152.7 1240.0,2151.9 1243.4,2151.1 1246.8,2150.2 1250.1,2149.4 1253.5,2148.6 1256.9,2147.8 1260.2,2146.9 1263.6,2146.1 1267.0,2145.3 1270.4,2144.5 1273.8,2143.7 1277.1,2142.9 1280.5,2142.1 1283.9,2141.3 1287.2,2140.5 1290.6,2139.7 1294.0,2138.9 1297.4,2138.1 1300.8,2137.3 1304.1,2136.5 1307.5,2135.8 1310.9,2135.0 1314.2,2134.2 1317.6,2133.4 1321.0,2132.7 1324.4,2131.9 1327.8,2131.1 1331.1,2130.4 1334.5,2129.6 1337.9,2128.9 1341.2,2128.2 1344.6,2127.4 1348.0,2126.7 1351.4,2125.9 1354.8,2125.2 1358.1,2124.5 1361.5,2123.8 1364.9,2123.1 1368.2,2122.4 1371.6,2121.6 1375.0,2120.9 1378.4,2120.2 1381.8,2119.6 1385.1,2118.9 1388.5,2118.2 1391.9,2117.5 1395.2,2116.8 1398.6,2116.2 1402.0,2115.5"/>
<polyline class="cv" stroke="#A2142F" points="794.5,2276.5 797.9,2273.5 801.2,2271.5 804.6,2269.7 808.0,2268.0 811.4,2266.4 814.8,2264.9 818.1,2263.4 821.5,2262.0 824.9,2260.6 828.2,2259.1 831.6,2257.7 835.0,2256.3 838.4,2255.0 841.8,2253.6 845.1,2252.2 848.5,2250.8 851.9,2249.5 855.2,2248.1 858.6,2246.7 862.0,2245.3 865.4,2243.9 868.8,2242.5 872.1,2241.1 875.5,2239.7 878.9,2238.3 882.2,2236.9 885.6,2235.5 889.0,2234.0 892.4,2232.6 895.8,2231.2 899.1,2229.7 902.5,2228.3 905.9,2226.8 909.2,2225.3 912.6,2223.8 916.0,2222.4 919.4,2220.9 922.8,2219.3 926.1,2217.8 929.5,2216.3 932.9,2214.8 936.2,2213.2 939.6,2211.7 943.0,2210.1 946.4,2208.6 949.8,2207.0 953.1,2205.4 956.5,2203.8 959.9,2202.2 963.2,2200.6 966.6,2199.0 970.0,2197.4 973.4,2195.8 976.8,2194.1 980.1,2192.5 983.5,2190.8 986.9,2189.2 990.2,2187.5 993.6,2185.8 997.0,2184.2 1000.4,2182.5 1003.8,2180.8 1007.1,2179.1 1010.5,2177.4 1013.9,2175.6 1017.2,2173.9 1020.6,2172.2 1024.0,2170.4 1027.4,2168.7 1030.8,2166.9 1034.1,2165.2 1037.5,2163.4 1040.9,2161.6 1044.2,2159.9 1047.6,2158.1 1051.0,2156.3 1054.4,2154.5 1057.8,2152.7 1061.1,2150.9 1064.5,2149.1 1067.9,2147.3 1071.2,2145.4 1074.6,2143.6 1078.0,2141.8 1081.4,2139.9 1084.8,2138.1 1088.1,2136.2 1091.5,2134.4 1094.9,2132.5 1098.2,2130.7 1101.6,2128.8 1105.0,2126.9 1108.4,2125.0 1111.8,2123.2 1115.1,2121.3 1118.5,2119.4 1121.9,2117.5 1125.2,2115.6 1128.6,2113.7 1132.0,2111.8 1135.4,2109.9 1138.8,2108.0 1142.1,2106.1 1145.5,2104.2 1148.9,2102.3 1152.2,2100.4 1155.6,2098.5 1159.0,2096.6 1162.4,2094.6 1165.8,2092.7 1169.1,2090.8 1172.5,2088.9 1175.9,2087.0 1179.2,2085.1 1182.6,2083.1 1186.0,2081.2 1189.4,2079.3 1192.8,2077.4 1196.1,2075.5 1199.5,2073.5 1202.9,2071.6 1206.2,2069.7 1209.6,2067.8 1213.0,2065.9 1216.4,2064.0 1219.8,2062.1 1223.1,2060.2 1226.5,2058.2 1229.9,2056.3 1233.2,2054.5 1236.6,2052.6 1240.0,2050.7 1243.4,2048.8 1246.8,2046.9 1250.1,2045.0 1253.5,2043.2 1256.9,2041.3 1260.2,2039.4 1263.6,2037.6 1267.0,2035.7 1270.4,2033.9 1273.8,2032.1 1277.1,2030.2 1280.5,2028.4 1283.9,2026.6 1287.2,2024.8 1290.6,2023.0 1294.0,2021.2 1297.4,2019.4 1300.8,2017.7 1304.1,2015.9 1307.5,2014.2 1310.9,2012.5 1314.2,2010.7 1317.6,2009.0 1321.0,2007.3 1324.4,2005.6 1327.8,2004.0 1331.1,2002.3 1334.5,2000.7 1337.9,1999.1 1341.2,1997.4 1344.6,1995.8 1348.0,1994.3 1351.4,1992.7 1354.8,1991.2 1358.1,1989.6 1361.5,1988.1 1364.9,1986.6 1368.2,1985.2 1371.6,1983.7 1375.0,1982.3 1378.4,1980.9 1381.8,1979.5 1385.1,1978.1 1388.5,1976.8 1391.9,1975.4 1395.2,1974.1 1398.6,1972.9 1402.0,1971.6"/>
<polyline class="cv" stroke="#0072BD" points="794.5,2276.5 797.9,2275.1 801.2,2273.8 804.6,2272.4 808.0,2271.0 811.4,2269.6 814.8,2268.2 818.1,2266.7 821.5,2265.3 824.9,2263.7 828.2,2262.2 831.6,2260.6 835.0,2259.0 838.4,2257.3 841.8,2255.7 845.1,2254.0 848.5,2252.2 851.9,2250.5 855.2,2248.7 858.6,2246.8 862.0,2245.0 865.4,2243.1 868.8,2241.2 872.1,2239.2 875.5,2237.3 878.9,2235.3 882.2,2233.2 885.6,2231.2 889.0,2229.1 892.4,2227.0 895.8,2224.9 899.1,2222.7 902.5,2220.5 905.9,2218.3 909.2,2216.1 912.6,2213.9 916.0,2211.6 919.4,2209.3 922.8,2207.0 926.1,2204.6 929.5,2202.3 932.9,2199.9 936.2,2197.5 939.6,2195.0 943.0,2192.6 946.4,2190.1 949.8,2187.6 953.1,2185.1 956.5,2182.6 959.9,2180.0 963.2,2177.5 966.6,2174.9 970.0,2172.3 973.4,2169.6 976.8,2167.0 980.1,2164.3 983.5,2161.7 986.9,2159.0 990.2,2156.2 993.6,2153.5 997.0,2150.8 1000.4,2148.0 1003.8,2145.2 1007.1,2142.4 1010.5,2139.6 1013.9,2136.7 1017.2,2133.9 1020.6,2131.0 1024.0,2128.1 1027.4,2125.2 1030.8,2122.3 1034.1,2119.4 1037.5,2116.4 1040.9,2113.5 1044.2,2110.5 1047.6,2107.5 1051.0,2104.5 1054.4,2101.4 1057.8,2098.4 1061.1,2095.3 1064.5,2092.3 1067.9,2089.2 1071.2,2086.1 1074.6,2083.0 1078.0,2079.8 1081.4,2076.7 1084.8,2073.5 1088.1,2070.3 1091.5,2067.2 1094.9,2064.0 1098.2,2060.7 1101.6,2057.5 1105.0,2054.3 1108.4,2051.0 1111.8,2047.8 1115.1,2044.5 1118.5,2041.2 1121.9,2037.9 1125.2,2034.6 1128.6,2031.3 1132.0,2028.0 1135.4,2024.7 1138.8,2021.4 1142.1,2018.0 1145.5,2014.7 1148.9,2011.4 1152.2,2008.0 1155.6,2004.7 1159.0,2001.4 1162.4,1998.0 1165.8,1994.7 1169.1,1991.4 1172.5,1988.1 1175.9,1984.8 1179.2,1981.5 1182.6,1978.2 1186.0,1974.9 1189.4,1971.7 1192.8,1968.5 1196.1,1965.3 1199.5,1962.1 1202.9,1959.0 1206.2,1955.9 1209.6,1952.8 1213.0,1949.8 1216.4,1946.8 1219.8,1943.8 1223.1,1940.9 1226.5,1938.1 1229.9,1935.3 1233.2,1932.6 1236.6,1929.9 1240.0,1927.2 1243.4,1924.7 1246.8,1922.2 1250.1,1919.7 1253.5,1917.4 1256.9,1915.1 1260.2,1912.8 1263.6,1910.7 1267.0,1908.6 1270.4,1906.6 1273.8,1904.6 1277.1,1902.8 1280.5,1901.0 1283.9,1899.2 1287.2,1897.6 1290.6,1896.0 1294.0,1894.4 1297.4,1893.0 1300.8,1891.6 1304.1,1890.2 1307.5,1888.9 1310.9,1887.7 1314.2,1886.5 1317.6,1885.4 1321.0,1884.3 1324.4,1883.2 1327.8,1882.2 1331.1,1881.3 1334.5,1880.4 1337.9,1879.5 1341.2,1878.6 1344.6,1877.8 1348.0,1877.0 1351.4,1876.2 1354.8,1875.4 1358.1,1874.7 1361.5,1873.9 1364.9,1873.2 1368.2,1872.5 1371.6,1871.8 1375.0,1871.0 1378.4,1870.3 1381.8,1869.6 1385.1,1868.9 1388.5,1868.2 1391.9,1867.5 1395.2,1866.8 1398.6,1866.0 1402.0,1865.3"/>
<polyline class="cv" stroke="#D95319" points="794.5,2276.5 797.9,2275.2 801.2,2273.9 804.6,2272.5 808.0,2271.1 811.4,2269.7 814.8,2268.2 818.1,2266.7 821.5,2265.1 824.9,2263.5 828.2,2261.9 831.6,2260.2 835.0,2258.5 838.4,2256.8 841.8,2255.0 845.1,2253.2 848.5,2251.4 851.9,2249.5 855.2,2247.6 858.6,2245.7 862.0,2243.7 865.4,2241.7 868.8,2239.7 872.1,2237.6 875.5,2235.5 878.9,2233.4 882.2,2231.2 885.6,2229.1 889.0,2226.9 892.4,2224.6 895.8,2222.3 899.1,2220.0 902.5,2217.7 905.9,2215.4 909.2,2213.0 912.6,2210.6 916.0,2208.1 919.4,2205.7 922.8,2203.2 926.1,2200.7 929.5,2198.1 932.9,2195.6 936.2,2193.0 939.6,2190.4 943.0,2187.7 946.4,2185.1 949.8,2182.4 953.1,2179.7 956.5,2176.9 959.9,2174.2 963.2,2171.4 966.6,2168.6 970.0,2165.8 973.4,2162.9 976.8,2160.0 980.1,2157.1 983.5,2154.2 986.9,2151.3 990.2,2148.3 993.6,2145.3 997.0,2142.3 1000.4,2139.3 1003.8,2136.2 1007.1,2133.1 1010.5,2130.0 1013.9,2126.9 1017.2,2123.8 1020.6,2120.6 1024.0,2117.4 1027.4,2114.2 1030.8,2111.0 1034.1,2107.8 1037.5,2104.5 1040.9,2101.2 1044.2,2097.9 1047.6,2094.6 1051.0,2091.3 1054.4,2087.9 1057.8,2084.5 1061.1,2081.1 1064.5,2077.7 1067.9,2074.3 1071.2,2070.8 1074.6,2067.4 1078.0,2063.9 1081.4,2060.4 1084.8,2056.9 1088.1,2053.4 1091.5,2049.8 1094.9,2046.3 1098.2,2042.7 1101.6,2039.2 1105.0,2035.6 1108.4,2032.0 1111.8,2028.4 1115.1,2024.8 1118.5,2021.2 1121.9,2017.6 1125.2,2014.0 1128.6,2010.3 1132.0,2006.7 1135.4,2003.1 1138.8,1999.5 1142.1,1995.9 1145.5,1992.3 1148.9,1988.7 1152.2,1985.1 1155.6,1981.6 1159.0,1978.0 1162.4,1974.5 1165.8,1971.0 1169.1,1967.5 1172.5,1964.1 1175.9,1960.6 1179.2,1957.3 1182.6,1953.9 1186.0,1950.6 1189.4,1947.3 1192.8,1944.1 1196.1,1940.9 1199.5,1937.8 1202.9,1934.7 1206.2,1931.6 1209.6,1928.7 1213.0,1925.8 1216.4,1922.9 1219.8,1920.1 1223.1,1917.4 1226.5,1914.8 1229.9,1912.2 1233.2,1909.7 1236.6,1907.2 1240.0,1904.9 1243.4,1902.6 1246.8,1900.4 1250.1,1898.2 1253.5,1896.2 1256.9,1894.2 1260.2,1892.3 1263.6,1890.5 1267.0,1888.7 1270.4,1887.0 1273.8,1885.4 1277.1,1883.8 1280.5,1882.3 1283.9,1880.9 1287.2,1879.6 1290.6,1878.3 1294.0,1877.0 1297.4,1875.9 1300.8,1874.7 1304.1,1873.7 1307.5,1872.6 1310.9,1871.7 1314.2,1870.7 1317.6,1869.8 1321.0,1869.0 1324.4,1868.2 1327.8,1867.4 1331.1,1866.6 1334.5,1865.9 1337.9,1865.2 1341.2,1864.5 1344.6,1863.9 1348.0,1863.3 1351.4,1862.6 1354.8,1862.0 1358.1,1861.5 1361.5,1860.9 1364.9,1860.3 1368.2,1859.7 1371.6,1859.2 1375.0,1858.6 1378.4,1858.1 1381.8,1857.5 1385.1,1856.9 1388.5,1856.4 1391.9,1855.8 1395.2,1855.2 1398.6,1854.6 1402.0,1854.0"/>
</g>
<text class="tk" x="794.5" y="2302.9" text-anchor="middle">0</text>
<text class="tk" x="862.0" y="2302.9" text-anchor="middle">2</text>
<text class="tk" x="929.5" y="2302.9" text-anchor="middle">4</text>
<text class="tk" x="997.0" y="2302.9" text-anchor="middle">6</text>
<text class="tk" x="1064.5" y="2302.9" text-anchor="middle">8</text>
<text class="tk" x="1132.0" y="2302.9" text-anchor="middle">10</text>
<text class="tk" x="1199.5" y="2302.9" text-anchor="middle">12</text>
<text class="tk" x="1267.0" y="2302.9" text-anchor="middle">14</text>
<text class="tk" x="1334.5" y="2302.9" text-anchor="middle">16</text>
<text class="tk" x="1402.0" y="2302.9" text-anchor="middle">18</text>
<text class="tk" x="786.9" y="2283.7" text-anchor="end">1</text>
<text class="tk" x="786.9" y="2187.8" text-anchor="end">1.5</text>
<text class="tk" x="786.9" y="2091.8" text-anchor="end">2</text>
<text class="tk" x="786.9" y="1995.9" text-anchor="end">2.5</text>
<text class="tk" x="786.9" y="1899.9" text-anchor="end">3</text>
<text class="tk" x="786.9" y="1804.0" text-anchor="end">3.5</text>
<text class="lb" x="1098.2" y="2331.3" text-anchor="middle">time[days]</text>
<text class="lb" transform="translate(749.0 2037.3) rotate(-90)" text-anchor="middle">volume [mm<tspan dx="0.8" dy="-9" font-size="17">3</tspan><tspan dx="0.6" dy="9">]</tspan></text>
<rect x="816.1" y="1823.9" width="198.5" height="204.6" fill="#fff" stroke="#484848" stroke-width="1.4"/>
<circle class="mk" cx="849.6" cy="1837.2" r="5.8"/>
<text class="lg" x="883.1" y="1843.2">DiscreteMeasure</text>
<path d="M821.9 1859.5H877.3" stroke="#D95319" stroke-width="1.3" stroke-opacity="0.8"/>
<text class="lg" x="883.1" y="1865.5">InterpolatedData</text>
<path d="M821.9 1881.8H877.3" stroke="#EDB120" stroke-width="1.3" stroke-opacity="0.8"/>
<text class="lg" x="883.1" y="1887.8">IntegerOrder</text>
<path d="M821.9 1904.0H877.3" stroke="#7E2F8E" stroke-width="1.3" stroke-opacity="0.8"/>
<text class="lg" x="883.1" y="1910.0">order0.16</text>
<path d="M821.9 1926.3H877.3" stroke="#77AC30" stroke-width="1.3" stroke-opacity="0.8"/>
<text class="lg" x="883.1" y="1932.3">order0.36</text>
<path d="M821.9 1948.6H877.3" stroke="#4DBEEE" stroke-width="1.3" stroke-opacity="0.8"/>
<text class="lg" x="883.1" y="1954.6">order0.56</text>
<path d="M821.9 1970.9H877.3" stroke="#A2142F" stroke-width="1.3" stroke-opacity="0.8"/>
<text class="lg" x="883.1" y="1976.9">order0.76</text>
<path d="M821.9 1993.2H877.3" stroke="#0072BD" stroke-width="1.3" stroke-opacity="0.8"/>
<text class="lg" x="883.1" y="1999.2">order0.96</text>
<path d="M821.9 2015.4H877.3" stroke="#D95319" stroke-width="1.3" stroke-opacity="0.8"/>
<text class="lg" x="883.1" y="2021.4">order1</text>
<text class="pn" x="722.2" y="2350.2">h</text>
</g>
</svg>
</body></html>
